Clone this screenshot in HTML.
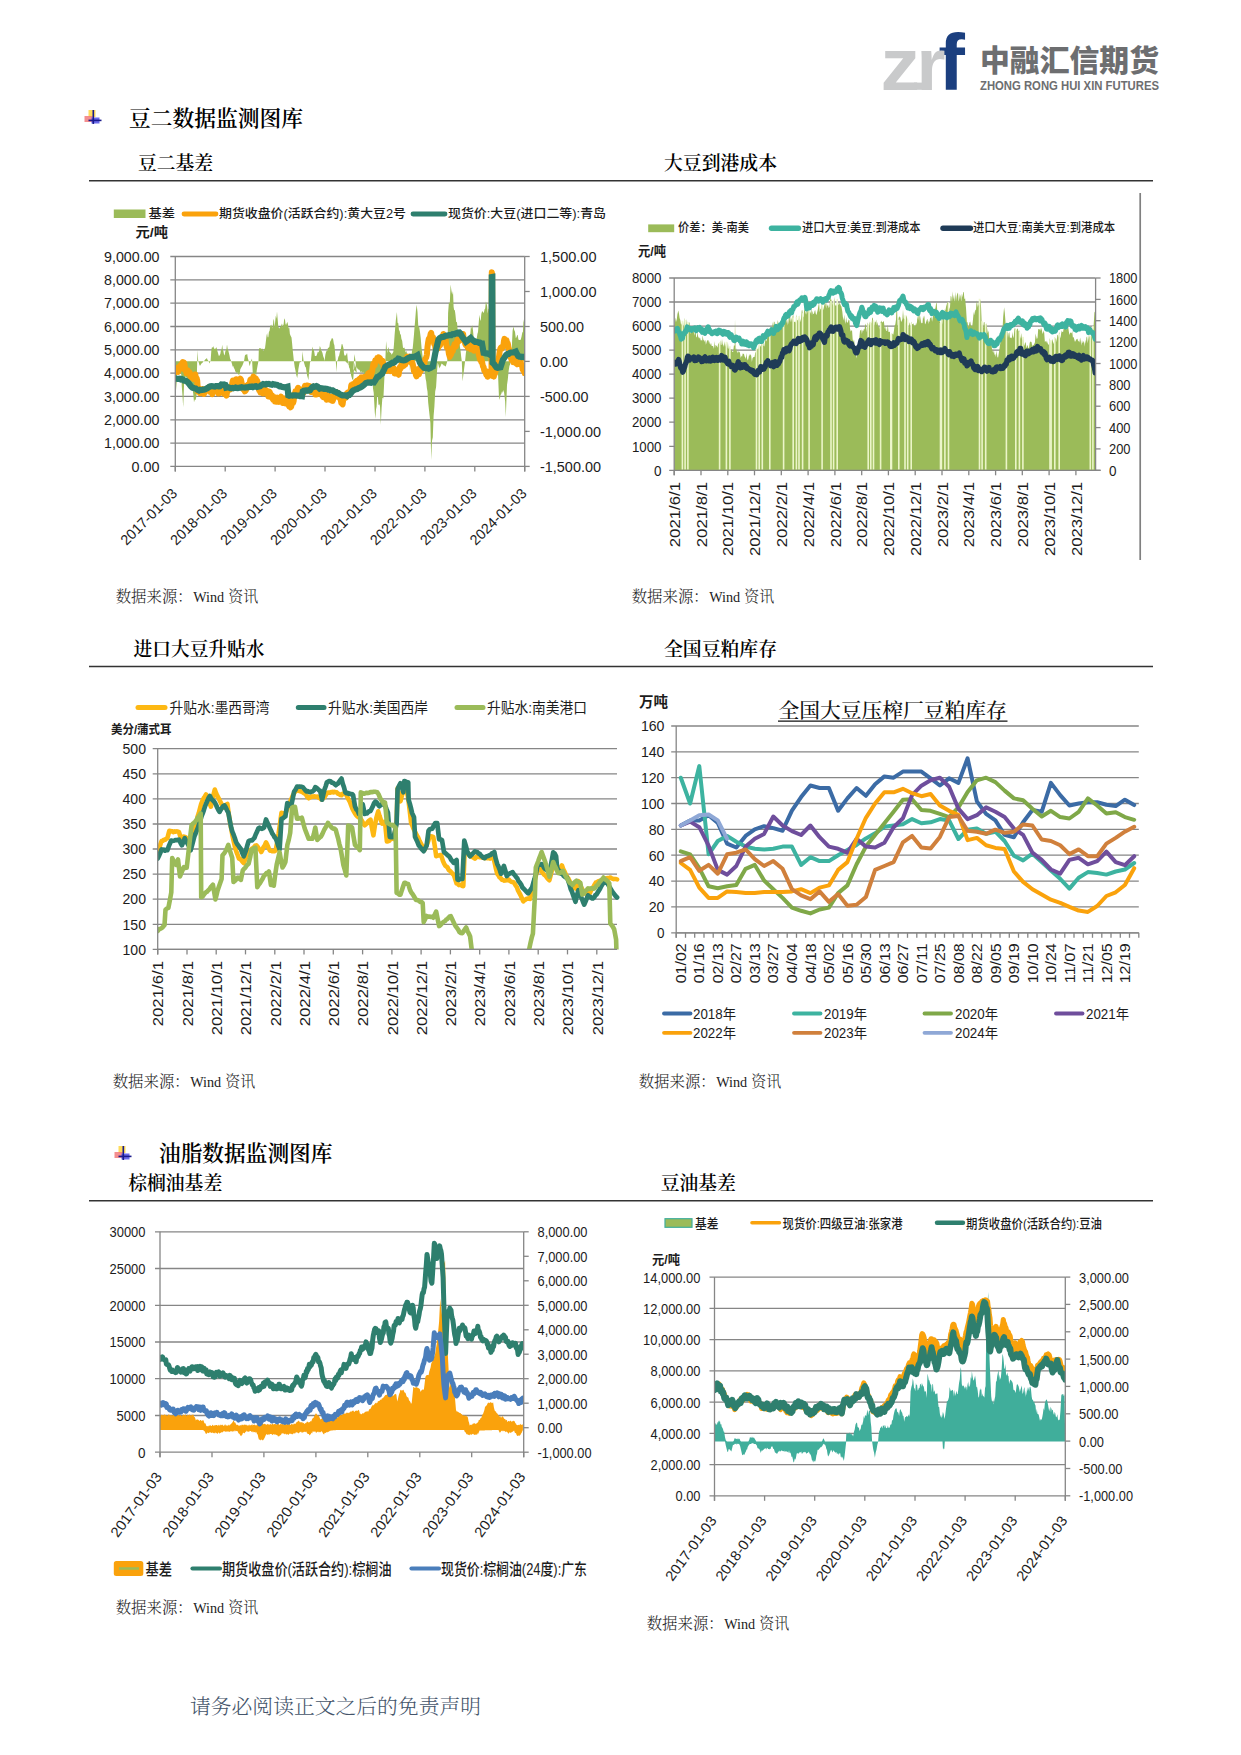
<!DOCTYPE html>
<html lang="zh"><head><meta charset="utf-8"><title>豆二数据监测图库</title>
<style>
html,body{margin:0;padding:0;background:#fff;}
body{width:1241px;height:1755px;position:relative;overflow:hidden;font-family:"Liberation Serif","Noto Serif CJK SC",serif;}
svg{position:absolute;left:0;top:0;}
</style></head><body>
<svg width="1241" height="1755" viewBox="0 0 1241 1755">
<line x1="170.3" y1="256.5" x2="524.7" y2="256.5" stroke="#868686" stroke-width="1.3"/>
<line x1="170.3" y1="279.8" x2="524.7" y2="279.8" stroke="#868686" stroke-width="1.3"/>
<line x1="170.3" y1="303.1" x2="524.7" y2="303.1" stroke="#868686" stroke-width="1.3"/>
<line x1="170.3" y1="326.5" x2="524.7" y2="326.5" stroke="#868686" stroke-width="1.3"/>
<line x1="170.3" y1="349.8" x2="524.7" y2="349.8" stroke="#868686" stroke-width="1.3"/>
<line x1="170.3" y1="373.1" x2="524.7" y2="373.1" stroke="#868686" stroke-width="1.3"/>
<line x1="170.3" y1="396.4" x2="524.7" y2="396.4" stroke="#868686" stroke-width="1.3"/>
<line x1="170.3" y1="419.8" x2="524.7" y2="419.8" stroke="#868686" stroke-width="1.3"/>
<line x1="170.3" y1="443.1" x2="524.7" y2="443.1" stroke="#868686" stroke-width="1.3"/>
<line x1="170.3" y1="466.4" x2="524.7" y2="466.4" stroke="#868686" stroke-width="1.3"/>
<clipPath id="c1clip"><rect x="175.3" y="248.5" width="349.4" height="217.9"/></clipPath><g clip-path="url(#c1clip)">
<path d="M175.5,361.2 L175.5,368.7 L176.3,390.4 L177.1,373.0 L177.8,371.1 L178.4,373.2 L179.1,372.8 L179.8,371.8 L180.4,373.9 L181.1,372.2 L181.8,386.5 L182.5,395.5 L183.2,407.3 L184.3,378.5 L184.9,380.4 L185.5,376.6 L186.2,376.9 L186.8,378.8 L187.4,380.2 L188.0,378.1 L188.6,377.0 L189.2,379.6 L189.8,377.7 L190.5,385.5 L191.2,384.7 L191.9,386.4 L192.5,388.9 L193.2,393.3 L194.0,402.3 L194.8,399.6 L195.6,399.9 L196.4,396.3 L197.2,361.2 L197.4,350.1 L198.2,361.1 L198.9,362.9 L199.6,365.4 L200.3,365.6 L201.0,364.3 L201.7,363.3 L202.3,362.9 L203.0,362.0 L203.7,361.1 L204.3,360.7 L205.0,360.0 L205.6,358.9 L206.3,358.7 L206.9,358.0 L207.5,359.7 L208.1,360.5 L208.7,361.5 L209.3,363.5 L210.0,361.9 L210.6,361.2 L211.4,349.4 L212.1,346.8 L212.7,348.1 L213.3,346.1 L214.0,348.6 L214.6,348.9 L215.3,348.0 L215.9,349.2 L216.6,346.7 L217.2,350.5 L217.8,352.2 L218.4,354.4 L219.0,356.3 L219.6,355.3 L220.3,353.9 L220.9,350.5 L221.6,349.3 L222.2,344.7 L222.8,349.5 L223.4,351.2 L224.0,354.2 L224.6,355.6 L225.2,352.1 L225.8,350.3 L226.4,349.4 L227.0,344.6 L227.7,349.0 L228.3,350.4 L228.9,352.9 L229.5,355.4 L230.1,358.8 L230.8,360.1 L231.4,362.1 L232.0,363.9 L232.7,366.8 L233.3,366.0 L233.9,367.9 L234.6,369.1 L235.2,371.2 L235.8,372.0 L236.4,373.2 L237.1,372.1 L237.7,373.6 L238.3,374.3 L239.0,374.9 L239.7,373.6 L240.3,369.3 L241.0,368.1 L241.7,366.8 L242.4,365.5 L243.2,363.6 L244.0,361.2 L244.8,355.9 L245.4,354.6 L246.0,355.0 L246.6,354.2 L247.2,354.1 L247.8,357.9 L248.4,360.1 L249.0,363.0 L249.6,366.3 L250.2,364.3 L250.8,361.8 L251.4,360.1 L252.0,358.5 L252.8,373.9 L253.5,374.3 L254.1,373.3 L254.8,374.0 L255.4,373.3 L256.1,376.3 L256.8,369.9 L257.5,366.1 L258.2,362.4 L258.5,361.1 L258.8,349.3 L259.4,348.3 L260.0,348.1 L260.6,348.6 L261.2,348.4 L261.9,349.4 L262.5,348.2 L263.1,351.3 L263.7,350.3 L264.3,348.6 L264.9,349.0 L265.7,342.7 L266.5,336.1 L267.1,333.1 L267.7,337.2 L268.3,337.2 L268.9,331.9 L269.6,330.8 L270.2,326.2 L270.8,325.1 L271.4,325.9 L272.0,324.2 L272.7,328.6 L273.3,321.1 L273.9,318.7 L274.6,327.2 L275.2,321.4 L275.8,315.8 L276.4,318.8 L277.0,311.4 L277.7,319.6 L278.3,326.7 L278.9,327.7 L279.6,328.4 L280.2,326.9 L280.9,326.5 L281.5,323.3 L282.2,327.7 L282.8,324.1 L283.5,325.4 L284.1,320.1 L284.8,318.2 L285.5,323.9 L286.1,325.1 L286.8,323.1 L287.5,321.9 L288.1,325.6 L288.7,328.4 L289.3,327.7 L289.9,333.9 L290.7,336.0 L291.5,337.4 L292.1,343.2 L292.7,350.0 L293.3,355.4 L293.9,361.3 L294.7,367.0 L295.5,370.7 L296.3,375.0 L297.2,377.9 L297.8,374.2 L298.4,368.9 L299.0,365.4 L299.6,362.4 L300.2,362.3 L300.8,361.9 L301.4,361.6 L302.0,361.3 L302.5,351.2 L303.6,361.2 L304.4,363.9 L305.2,366.7 L305.9,367.5 L306.5,371.7 L307.1,375.4 L307.8,377.7 L308.4,380.2 L309.2,370.8 L310.0,362.4 L310.9,361.3 L311.7,352.7 L312.5,346.5 L313.1,349.5 L313.7,349.5 L314.3,352.0 L314.9,355.9 L315.7,356.1 L316.5,355.7 L317.2,353.7 L317.8,351.8 L318.5,352.5 L319.2,350.6 L319.8,346.1 L320.5,347.4 L321.2,350.4 L321.9,351.5 L322.5,353.1 L323.2,356.2 L323.9,358.1 L324.5,361.1 L325.4,354.5 L326.0,352.3 L326.7,350.6 L327.4,350.8 L328.0,347.5 L328.7,348.1 L329.4,346.7 L330.0,342.1 L330.7,340.8 L331.3,339.5 L332.0,337.7 L332.6,338.4 L333.2,339.4 L333.8,343.5 L334.4,345.3 L335.0,351.4 L335.8,361.2 L336.5,372.3 L337.1,361.2 L337.8,359.7 L338.4,356.7 L339.1,355.8 L339.7,352.7 L340.3,350.7 L341.0,348.6 L341.6,344.2 L342.3,344.0 L342.9,345.9 L343.5,348.5 L344.1,354.2 L344.7,355.7 L345.3,355.5 L345.9,355.3 L346.5,354.1 L347.1,352.6 L347.9,361.2 L348.5,364.1 L349.1,367.5 L349.7,368.5 L350.3,372.7 L350.9,373.3 L351.5,375.1 L352.1,379.3 L352.8,379.8 L353.9,361.2 L354.5,353.9 L355.5,361.3 L356.1,366.7 L356.8,372.9 L356.2,371.9 L355.5,371.3 L354.9,371.3 L354.3,370.0 L353.7,369.6 L353.1,368.9 L352.4,369.5 L351.8,368.2 L351.2,368.1 L350.6,367.6 L350.0,365.4 L349.3,365.5 L348.7,365.6 L348.1,364.8 L347.5,363.0 L346.9,362.4 L346.2,362.4 L345.6,361.6 L345.0,361.1 L345.8,356.3 L346.6,353.6 L347.4,357.7 L348.2,361.3 L348.8,363.4 L349.4,367.3 L350.0,370.1 L350.6,371.2 L351.2,375.7 L351.8,377.8 L352.5,376.0 L353.1,381.3 L353.9,370.5 L354.7,362.8 L355.5,366.2 L356.3,368.5 L356.9,367.3 L357.5,368.7 L358.1,369.5 L358.7,369.6 L359.3,369.7 L359.9,370.7 L360.5,372.7 L361.1,370.7 L361.8,373.0 L362.4,372.9 L363.0,371.6 L363.7,373.1 L364.3,374.6 L365.0,374.5 L365.6,372.9 L366.3,377.2 L366.9,376.7 L367.6,377.8 L368.2,374.1 L368.8,375.0 L369.4,374.2 L370.0,377.8 L370.6,375.6 L371.2,375.1 L371.8,376.7 L372.4,379.3 L373.0,388.4 L373.7,392.8 L374.8,412.5 L375.4,418.8 L376.0,409.6 L376.6,406.6 L377.2,395.7 L377.9,396.8 L378.5,405.2 L379.2,403.9 L380.0,406.0 L380.8,424.9 L381.6,408.3 L382.4,397.8 L383.4,398.5 L384.5,375.6 L385.3,361.1 L386.1,341.0 L387.2,353.0 L387.9,349.3 L388.5,346.9 L389.3,351.5 L390.1,352.5 L390.9,352.9 L391.7,354.8 L392.5,353.2 L393.3,352.0 L394.0,343.9 L394.6,334.9 L395.2,327.7 L395.8,320.6 L396.9,312.1 L397.6,322.7 L398.3,323.2 L399.0,330.6 L399.6,330.5 L400.2,334.3 L400.8,334.6 L401.4,338.7 L402.2,340.9 L403.0,347.7 L403.7,348.0 L404.4,347.6 L405.0,349.8 L405.7,352.5 L406.4,350.8 L407.0,354.1 L407.7,353.4 L408.3,353.9 L408.9,355.2 L409.5,354.5 L409.9,370.9 L410.8,361.3 L411.4,357.4 L412.0,351.0 L412.7,348.2 L413.3,341.9 L413.9,335.6 L414.5,327.7 L415.1,321.0 L415.9,310.8 L416.7,304.7 L417.5,311.9 L418.3,326.5 L419.1,326.8 L419.9,331.3 L420.7,337.7 L421.6,348.2 L422.4,355.0 L423.2,361.3 L423.8,365.2 L424.4,369.3 L425.0,373.6 L425.6,378.7 L426.2,381.6 L426.9,388.2 L427.5,391.4 L428.2,402.8 L428.8,408.3 L429.6,415.8 L430.4,423.0 L431.2,460.2 L432.0,441.0 L432.8,437.3 L433.6,416.0 L434.4,406.5 L435.2,391.6 L436.1,387.0 L436.9,373.6 L437.7,362.8 L438.5,365.0 L439.3,368.6 L439.9,367.0 L440.5,366.6 L441.1,364.7 L441.7,363.6 L442.4,364.3 L443.0,364.5 L443.7,365.4 L444.4,365.6 L445.1,366.3 L445.7,366.4 L446.5,364.0 L447.3,361.3 L448.1,313.1 L448.9,302.3 L449.8,303.3 L450.6,284.4 L451.4,290.5 L452.2,294.8 L453.0,291.0 L453.6,306.7 L454.2,310.5 L454.8,309.8 L455.4,314.3 L456.2,322.0 L457.0,322.3 L457.6,329.6 L458.2,333.0 L458.8,338.9 L459.4,342.1 L460.0,347.0 L460.6,351.0 L461.2,356.8 L461.8,361.3 L462.6,381.6 L463.3,375.2 L463.9,370.7 L465.1,361.1 L465.9,352.7 L466.5,349.2 L467.2,349.4 L467.8,345.7 L468.4,343.5 L469.1,341.0 L469.7,337.9 L470.4,333.1 L471.0,325.4 L471.7,328.9 L472.3,325.1 L473.1,331.4 L473.9,340.5 L474.7,344.3 L475.5,344.8 L476.1,344.7 L476.7,338.8 L477.4,334.1 L478.0,332.0 L478.8,321.8 L479.4,314.7 L480.1,319.5 L480.7,321.1 L481.3,314.1 L482.0,311.4 L482.6,311.3 L483.3,312.7 L483.9,312.6 L484.6,309.3 L485.2,308.4 L485.9,301.5 L486.5,303.5 L487.1,306.0 L487.8,313.5 L488.4,308.7 L489.2,309.0 L490.0,297.7 L490.9,361.1 L491.5,361.1 L492.1,361.3 L492.8,361.3 L493.4,361.3 L494.1,361.1 L494.7,361.5 L495.4,361.8 L496.0,362.2 L496.7,362.3 L497.3,363.4 L498.1,375.9 L498.9,395.8 L499.7,399.9 L500.5,394.9 L501.3,393.9 L502.1,391.0 L502.9,393.0 L503.7,389.8 L504.4,395.0 L505.1,400.9 L505.8,416.9 L507.0,384.9 L507.8,379.4 L508.6,371.2 L509.4,366.1 L510.2,364.3 L511.0,361.1 L511.8,347.4 L512.6,330.7 L513.4,326.5 L514.2,330.0 L515.0,331.8 L515.8,338.3 L516.6,336.9 L517.2,334.7 L517.8,335.5 L518.4,339.4 L519.1,340.0 L519.9,339.9 L520.7,339.8 L521.5,336.8 L522.3,332.4 L522.9,331.9 L523.6,319.2 L524.7,328.1 L524.7,361.2Z" fill="#9BBB59" stroke="none"/>
<path d="M175.5,372.2 L176.1,368.0 L176.8,371.4 L177.5,370.9 L178.2,371.7 L178.8,367.9 L179.5,366.8 L180.1,365.7 L180.8,368.5 L181.4,366.3 L182.1,363.4 L182.7,362.2 L183.3,362.8 L183.9,362.6 L184.5,363.9 L185.1,370.1 L185.8,369.0 L186.5,373.2 L187.2,370.9 L187.8,370.7 L188.5,372.7 L189.2,372.0 L189.8,372.6 L190.4,376.6 L191.0,377.6 L191.6,377.6 L192.2,376.5 L192.8,378.0 L193.4,378.7 L194.0,376.6 L194.7,377.7 L195.3,374.4 L195.9,378.0 L196.6,378.1 L197.2,380.5 L198.0,391.7 L198.8,390.2 L199.6,388.7 L200.3,393.2 L200.9,389.7 L201.5,390.5 L202.2,389.8 L202.8,389.2 L203.4,391.7 L204.0,393.9 L204.7,390.0 L205.3,391.1 L205.9,389.3 L206.6,390.2 L207.2,389.6 L207.9,387.9 L208.5,387.3 L209.2,387.3 L209.8,391.8 L210.4,390.7 L211.1,388.6 L211.7,392.2 L212.3,394.2 L212.9,391.6 L213.5,388.9 L214.2,388.4 L214.8,387.7 L215.4,389.2 L216.0,388.3 L216.6,389.0 L217.2,389.1 L217.8,391.0 L218.4,393.5 L219.0,393.4 L219.6,391.1 L220.2,390.2 L220.8,390.4 L221.4,389.4 L222.0,389.3 L222.7,387.7 L223.3,388.8 L223.9,393.7 L224.5,390.4 L225.2,391.8 L225.8,393.3 L226.4,395.6 L227.0,392.5 L227.7,390.3 L228.4,388.5 L229.1,388.0 L229.7,387.2 L230.4,389.3 L231.1,388.5 L231.7,388.4 L232.3,382.8 L232.9,380.6 L233.5,383.8 L234.1,385.9 L234.7,383.7 L235.3,383.4 L235.9,379.3 L236.5,379.3 L237.1,381.8 L237.7,381.3 L238.3,380.5 L239.0,382.7 L239.6,379.7 L240.3,378.7 L240.9,379.4 L241.6,382.8 L242.2,385.7 L242.9,389.0 L243.6,389.5 L244.2,389.9 L244.9,391.4 L245.6,390.7 L246.2,389.7 L246.8,385.5 L247.4,388.0 L248.0,384.8 L248.6,387.3 L249.2,385.8 L249.8,382.5 L250.4,379.6 L251.0,379.3 L251.6,381.3 L252.2,382.2 L252.8,378.5 L253.4,376.7 L254.0,378.7 L254.6,379.5 L255.2,378.3 L255.9,378.6 L256.5,382.1 L257.2,380.7 L257.8,383.0 L258.5,385.9 L259.1,390.3 L259.8,390.4 L260.4,392.4 L261.1,391.1 L261.7,389.7 L262.3,389.1 L262.9,393.4 L263.5,393.4 L264.1,390.9 L264.7,388.3 L265.3,390.5 L265.9,392.4 L266.5,391.6 L267.1,390.8 L267.7,393.5 L268.3,396.5 L268.9,393.5 L269.6,391.7 L270.2,393.3 L270.8,394.8 L271.4,397.4 L272.0,395.4 L272.6,398.8 L273.2,399.8 L273.8,399.0 L274.4,397.1 L275.0,401.5 L275.6,399.1 L276.2,401.8 L276.8,398.7 L277.4,397.6 L278.0,400.5 L278.6,398.5 L279.2,401.9 L279.8,400.1 L280.4,397.5 L281.0,396.7 L281.6,398.0 L282.2,400.3 L282.8,403.0 L283.5,399.1 L284.1,399.5 L284.7,398.7 L285.3,403.4 L285.9,400.0 L286.5,398.6 L287.2,398.4 L287.9,400.7 L288.6,404.9 L289.2,406.5 L289.9,406.4 L290.5,407.3 L291.2,406.7 L291.8,402.3 L292.5,399.5 L293.1,402.8 L293.7,400.8 L294.3,394.1 L294.9,394.3 L295.5,391.2 L296.2,390.8 L296.8,390.4 L297.5,389.2 L298.1,387.8 L298.8,389.0 L299.4,389.7 L300.0,393.6 L300.6,389.6 L301.2,393.4 L301.8,389.8 L302.4,389.4 L303.0,392.0 L303.6,392.8 L304.2,389.9 L304.9,385.9 L305.5,386.7 L306.2,385.8 L306.8,388.4 L307.4,385.5 L308.0,385.9 L308.6,389.7 L309.2,386.0 L309.8,387.4 L310.4,390.7 L311.1,391.9 L311.7,388.1 L312.3,386.7 L312.9,386.6 L313.5,392.0 L314.1,389.9 L314.7,392.4 L315.3,394.3 L315.9,391.6 L316.5,390.4 L317.1,394.4 L317.8,393.7 L318.4,391.4 L319.1,393.5 L319.7,391.8 L320.4,391.1 L321.0,389.2 L321.6,393.4 L322.3,396.0 L322.9,395.2 L323.5,397.3 L324.1,392.4 L324.8,392.3 L325.4,394.1 L326.0,398.0 L326.6,399.6 L327.2,396.8 L327.8,395.3 L328.4,395.9 L329.0,396.7 L329.6,399.8 L330.2,396.4 L330.8,399.2 L331.4,399.9 L332.0,400.8 L332.6,400.9 L333.3,398.9 L333.9,395.8 L334.5,394.0 L335.2,393.1 L335.8,394.7 L336.4,392.1 L337.0,392.6 L337.6,396.8 L338.2,395.7 L338.9,394.8 L339.5,394.8 L340.1,398.7 L340.7,399.2 L341.3,403.0 L342.0,403.7 L342.6,404.4 L343.2,400.0 L343.9,397.3 L344.5,395.4 L345.1,396.6 L345.7,397.8 L346.3,395.8 L346.9,393.2 L347.5,392.7 L348.1,393.2 L348.7,393.0 L349.4,392.5 L350.0,392.1 L350.7,390.0 L351.3,385.0 L351.9,386.9 L352.6,384.4 L353.2,385.1 L353.8,384.0 L354.4,385.8 L355.0,382.9 L355.6,382.1 L356.2,381.6 L356.8,380.8 L357.4,384.2 L358.1,382.8 L358.7,380.1 L359.4,379.0 L360.0,381.7 L360.6,379.8 L361.3,377.3 L361.9,380.0 L362.5,379.9 L363.2,381.9 L363.8,376.9 L364.4,377.4 L365.0,379.7 L365.7,380.5 L366.3,381.2 L366.9,375.8 L367.6,375.4 L368.2,373.6 L368.9,373.0 L369.5,377.3 L370.1,375.9 L370.8,377.2 L371.4,372.1 L372.1,372.0 L372.7,367.8 L373.4,363.7 L374.0,364.1 L374.7,365.4 L375.3,360.2 L375.9,361.0 L376.6,361.0 L377.2,358.1 L377.9,358.5 L378.6,357.4 L379.2,357.6 L379.9,358.1 L380.6,360.7 L381.3,362.1 L381.9,361.2 L382.6,360.8 L383.2,363.7 L383.8,367.9 L384.5,367.4 L385.2,367.7 L385.8,367.3 L386.5,371.0 L387.2,371.0 L387.8,368.1 L388.5,367.5 L389.1,368.8 L389.7,370.1 L390.3,371.0 L390.9,367.8 L391.5,366.9 L392.1,369.9 L392.7,369.0 L393.3,367.7 L394.0,368.5 L394.6,373.4 L395.3,371.8 L395.9,373.4 L396.6,373.3 L397.2,372.2 L397.9,374.0 L398.6,374.7 L399.3,370.3 L399.9,367.0 L400.6,368.5 L401.3,365.3 L401.9,362.4 L402.6,366.5 L403.3,364.4 L404.0,365.6 L404.6,362.9 L405.2,364.7 L405.8,362.2 L406.4,359.1 L407.0,356.7 L407.7,358.8 L408.3,359.7 L408.9,361.4 L409.5,356.4 L410.1,359.8 L410.8,360.5 L411.4,362.6 L412.0,362.1 L412.7,363.9 L413.3,366.9 L414.0,371.4 L414.6,368.8 L415.3,371.2 L415.9,375.0 L416.5,376.3 L417.1,371.6 L417.7,369.2 L418.3,373.2 L418.9,374.4 L419.5,371.4 L420.1,367.4 L420.7,371.1 L421.3,368.0 L422.0,369.4 L422.6,367.3 L423.2,367.0 L423.8,362.0 L424.4,363.4 L425.0,359.5 L425.6,358.5 L426.2,357.5 L426.9,354.6 L427.5,346.9 L428.2,342.0 L428.8,338.9 L429.4,338.7 L430.0,337.0 L430.6,334.0 L431.2,332.9 L431.8,337.2 L432.4,340.5 L433.0,337.1 L433.6,340.0 L434.2,344.2 L434.8,342.7 L435.5,348.8 L436.1,348.0 L436.7,349.1 L437.4,348.6 L438.1,348.4 L438.7,345.8 L439.4,345.1 L440.1,345.3 L440.8,343.1 L441.4,342.7 L442.1,340.2 L442.8,338.2 L443.4,333.9 L444.1,335.1 L444.8,337.6 L445.5,338.5 L446.1,343.7 L446.8,347.2 L447.5,348.0 L448.1,348.1 L448.9,353.9 L449.8,356.8 L450.4,354.7 L451.0,354.8 L451.6,351.6 L452.2,351.7 L452.8,351.1 L453.4,346.9 L454.0,348.1 L454.6,344.0 L455.3,346.1 L455.9,346.5 L456.6,344.2 L457.3,339.9 L457.9,340.5 L458.6,339.2 L459.3,340.9 L459.9,335.3 L460.6,336.7 L461.2,336.9 L461.8,334.2 L462.5,336.1 L463.1,334.0 L463.8,339.4 L464.4,339.4 L465.1,343.4 L465.7,345.1 L466.4,341.6 L467.1,345.0 L467.8,347.8 L468.4,344.0 L469.1,345.2 L469.7,348.0 L470.3,345.3 L470.9,349.2 L471.5,346.7 L472.1,349.4 L472.7,346.3 L473.3,347.5 L473.9,350.8 L474.5,347.9 L475.1,347.7 L475.7,349.5 L476.3,349.4 L477.0,347.9 L477.6,348.7 L478.2,349.3 L478.8,354.8 L479.4,356.6 L480.0,359.8 L480.6,357.6 L481.2,361.8 L481.8,360.3 L482.4,363.5 L483.0,366.5 L483.6,367.0 L484.3,370.8 L484.9,370.9 L485.6,371.8 L486.3,374.7 L487.0,371.5 L487.6,376.7 L488.2,375.4 L488.8,373.2 L489.4,374.7 L490.0,371.6 L490.8,375.3 L491.5,373.9 L491.8,272.2 L492.1,274.1 L492.5,375.9 L493.3,375.3 L493.9,376.5 L494.5,371.5 L495.1,373.6 L495.7,369.7 L496.4,368.7 L497.0,368.7 L497.7,364.5 L498.4,361.7 L499.0,356.8 L499.7,351.4 L500.3,348.9 L500.9,347.7 L501.5,349.1 L502.1,347.3 L502.7,346.1 L503.3,346.9 L503.9,341.3 L504.5,338.8 L505.2,342.4 L505.8,340.4 L506.5,340.3 L507.1,343.2 L507.8,343.4 L508.4,347.2 L509.1,349.4 L509.7,354.1 L510.4,357.5 L511.0,357.9 L511.6,360.0 L512.2,359.9 L512.8,357.9 L513.4,362.3 L514.0,359.7 L514.6,358.3 L515.2,357.6 L515.8,360.9 L516.4,363.6 L517.0,364.2 L517.6,362.1 L518.2,360.6 L518.9,358.6 L519.5,362.1 L520.1,362.9 L520.7,362.0 L521.3,364.8 L522.0,365.4 L522.7,369.5 L523.4,370.6 L524.0,368.8 L524.7,373.2" fill="none" stroke="#FAA20C" stroke-width="6.00" stroke-linejoin="round" stroke-linecap="round"/>
<path d="M175.5,378.5 L176.5,378.8 L177.5,378.9 L178.6,378.9 L179.6,378.8 L180.7,379.4 L181.7,379.1 L182.7,379.5 L183.9,380.6 L185.1,380.8 L186.4,381.2 L187.6,382.0 L188.8,383.5 L190.0,385.1 L191.2,386.7 L192.4,387.7 L193.5,388.0 L194.5,388.3 L195.6,388.4 L196.7,389.4 L197.8,390.1 L198.8,390.5 L199.9,389.8 L200.9,390.1 L201.9,390.0 L202.9,389.7 L203.9,389.7 L204.9,389.4 L205.9,388.9 L206.9,388.5 L208.1,387.7 L209.3,386.8 L210.5,386.3 L211.7,386.1 L212.7,386.3 L213.8,386.5 L214.8,386.6 L215.8,386.2 L216.8,386.2 L217.8,386.2 L218.8,386.4 L219.8,386.3 L221.4,384.5 L222.4,384.6 L223.4,385.0 L224.4,384.6 L225.4,384.9 L226.2,387.6 L227.3,387.4 L228.3,387.4 L229.3,387.7 L230.3,388.2 L231.4,388.2 L232.4,387.9 L233.4,388.2 L234.4,387.9 L235.5,387.6 L236.5,388.0 L237.5,388.1 L238.6,387.9 L239.7,387.6 L240.7,387.6 L241.8,387.3 L242.8,387.5 L243.8,387.5 L244.8,387.6 L245.8,387.3 L246.9,387.4 L247.9,387.3 L248.9,387.0 L249.9,386.7 L250.9,386.9 L251.9,386.6 L253.0,387.1 L254.0,386.7 L255.0,386.4 L256.0,386.3 L257.0,387.0 L258.0,386.8 L259.1,386.6 L260.1,386.3 L261.2,385.2 L262.2,384.7 L263.3,384.0 L264.4,384.2 L265.5,384.4 L266.5,383.9 L267.6,384.0 L268.7,383.9 L269.8,384.3 L270.8,384.5 L271.9,384.7 L273.0,384.1 L274.1,384.4 L275.1,384.6 L276.2,384.8 L277.3,385.0 L278.3,385.6 L279.4,386.2 L280.4,386.0 L281.4,386.6 L282.4,387.0 L283.5,387.1 L284.5,387.3 L285.5,387.3 L286.5,387.0 L287.5,386.7 L288.3,395.3 L289.3,395.7 L290.4,395.5 L291.4,395.5 L292.5,395.6 L293.6,395.3 L294.6,395.3 L295.7,395.3 L296.7,395.7 L297.8,395.7 L298.8,395.6 L299.9,396.1 L300.9,396.0 L302.0,396.2 L302.8,391.4 L303.8,390.7 L304.9,390.6 L305.9,390.5 L306.9,390.7 L308.0,390.4 L309.0,390.5 L310.0,390.3 L311.3,388.3 L312.5,386.9 L313.5,386.4 L314.5,386.8 L315.5,386.5 L316.5,386.1 L317.6,386.6 L318.6,387.6 L319.7,388.6 L320.8,388.2 L321.9,388.3 L322.9,388.5 L324.0,388.9 L325.1,388.7 L326.2,388.8 L327.2,389.0 L328.3,389.6 L329.4,389.6 L330.5,390.3 L331.5,390.3 L332.6,390.3 L333.7,391.1 L334.9,391.7 L336.0,391.9 L337.1,392.8 L338.2,393.0 L339.3,393.8 L340.3,394.4 L341.3,395.0 L342.3,395.4 L343.5,395.3 L344.7,395.4 L345.9,395.5 L347.1,396.1 L348.2,395.1 L349.3,395.0 L350.3,394.0 L351.4,392.5 L352.5,391.1 L353.6,390.3 L354.8,389.8 L356.0,389.2 L357.2,389.0 L358.4,388.2 L359.8,387.6 L361.1,387.0 L362.3,386.2 L363.5,385.3 L364.7,384.3 L366.0,383.0 L367.0,382.7 L368.0,382.4 L369.0,382.7 L370.0,382.7 L371.0,382.8 L372.0,382.3 L373.0,382.1 L374.0,382.3 L375.1,380.7 L376.2,378.7 L377.2,377.1 L378.4,376.7 L379.6,375.6 L380.9,374.6 L382.1,373.7 L383.1,371.6 L384.2,369.5 L385.3,366.7 L386.3,366.0 L387.3,365.4 L388.3,364.9 L389.3,364.6 L390.3,363.9 L391.3,363.4 L392.3,362.8 L393.3,362.9 L394.6,362.1 L395.8,360.6 L397.0,360.1 L398.2,358.6 L399.3,358.8 L400.3,359.6 L401.4,360.0 L402.5,360.3 L403.6,360.4 L404.6,360.3 L405.8,359.8 L407.0,358.9 L408.3,358.1 L409.5,357.6 L410.5,357.0 L411.5,356.9 L412.5,357.0 L413.5,356.9 L414.5,356.6 L415.5,356.3 L416.5,355.9 L417.5,355.3 L418.7,359.1 L419.9,362.7 L420.9,364.2 L422.0,365.7 L423.0,366.6 L424.0,367.8 L425.2,368.2 L426.4,368.2 L427.6,368.1 L428.8,368.6 L429.8,368.2 L430.8,367.7 L431.8,367.1 L432.8,366.6 L434.0,360.1 L435.2,353.6 L436.3,348.8 L437.4,344.0 L438.5,339.5 L439.5,338.3 L440.6,337.6 L441.7,337.1 L442.8,337.0 L443.8,336.8 L444.9,336.2 L446.0,335.8 L447.1,335.6 L448.1,335.5 L449.2,335.1 L450.3,335.0 L451.4,335.1 L452.4,334.3 L453.4,334.2 L454.4,334.1 L455.4,333.7 L456.4,333.3 L457.4,333.5 L458.4,332.6 L459.4,332.5 L460.5,333.7 L461.6,335.6 L462.6,337.4 L463.7,338.9 L464.8,340.1 L465.9,341.8 L467.1,340.9 L468.3,340.0 L469.5,339.0 L470.7,338.0 L471.8,339.3 L472.9,340.2 L473.9,341.1 L474.9,341.8 L475.9,341.7 L477.0,342.1 L478.0,342.3 L479.0,342.8 L480.0,342.7 L481.0,343.5 L482.0,343.5 L483.6,352.8 L484.7,353.0 L485.7,353.3 L486.8,353.3 L487.9,353.8 L489.0,354.1 L490.0,354.7 L491.5,353.0 L491.8,277.1 L492.3,277.0 L492.6,362.8 L494.1,364.0 L495.3,365.9 L496.5,367.5 L497.5,367.9 L498.5,367.7 L499.5,367.4 L500.5,367.2 L501.7,363.6 L502.9,359.8 L504.0,358.2 L505.1,356.5 L506.2,354.9 L507.4,354.0 L508.6,353.9 L509.8,353.0 L511.0,352.5 L512.2,352.5 L513.4,352.4 L514.6,352.0 L515.8,351.5 L517.0,354.0 L518.2,356.1 L519.3,356.6 L520.4,356.6 L521.5,357.0 L522.5,356.9 L523.6,356.9 L524.7,356.9" fill="none" stroke="#2E7F6E" stroke-width="6.20" stroke-linejoin="miter" stroke-linecap="round"/>
</g>
<line x1="175.3" y1="256.5" x2="175.3" y2="471.4" stroke="#868686" stroke-width="1.3"/>
<line x1="524.7" y1="256.5" x2="524.7" y2="471.4" stroke="#868686" stroke-width="1.3"/>
<line x1="175.3" y1="466.4" x2="175.3" y2="471.4" stroke="#868686" stroke-width="1.3"/>
<line x1="225.2" y1="466.4" x2="225.2" y2="471.4" stroke="#868686" stroke-width="1.3"/>
<line x1="275.1" y1="466.4" x2="275.1" y2="471.4" stroke="#868686" stroke-width="1.3"/>
<line x1="325.0" y1="466.4" x2="325.0" y2="471.4" stroke="#868686" stroke-width="1.3"/>
<line x1="375.0" y1="466.4" x2="375.0" y2="471.4" stroke="#868686" stroke-width="1.3"/>
<line x1="424.9" y1="466.4" x2="424.9" y2="471.4" stroke="#868686" stroke-width="1.3"/>
<line x1="474.8" y1="466.4" x2="474.8" y2="471.4" stroke="#868686" stroke-width="1.3"/>
<line x1="524.7" y1="466.4" x2="524.7" y2="471.4" stroke="#868686" stroke-width="1.3"/>
<line x1="524.7" y1="256.5" x2="529.7" y2="256.5" stroke="#868686" stroke-width="1.3"/>
<line x1="524.7" y1="291.5" x2="529.7" y2="291.5" stroke="#868686" stroke-width="1.3"/>
<line x1="524.7" y1="326.5" x2="529.7" y2="326.5" stroke="#868686" stroke-width="1.3"/>
<line x1="524.7" y1="361.4" x2="529.7" y2="361.4" stroke="#868686" stroke-width="1.3"/>
<line x1="524.7" y1="396.4" x2="529.7" y2="396.4" stroke="#868686" stroke-width="1.3"/>
<line x1="524.7" y1="431.4" x2="529.7" y2="431.4" stroke="#868686" stroke-width="1.3"/>
<line x1="524.7" y1="466.4" x2="529.7" y2="466.4" stroke="#868686" stroke-width="1.3"/>
<text x="159.5" y="261.7" font-size="15" text-anchor="end" font-family='"Liberation Sans","Noto Sans CJK SC",sans-serif' font-weight="normal" fill="#1c1c1c" textLength="55.5" lengthAdjust="spacingAndGlyphs" >9,000.00</text>
<text x="159.5" y="285.0" font-size="15" text-anchor="end" font-family='"Liberation Sans","Noto Sans CJK SC",sans-serif' font-weight="normal" fill="#1c1c1c" textLength="55.5" lengthAdjust="spacingAndGlyphs" >8,000.00</text>
<text x="159.5" y="308.3" font-size="15" text-anchor="end" font-family='"Liberation Sans","Noto Sans CJK SC",sans-serif' font-weight="normal" fill="#1c1c1c" textLength="55.5" lengthAdjust="spacingAndGlyphs" >7,000.00</text>
<text x="159.5" y="331.7" font-size="15" text-anchor="end" font-family='"Liberation Sans","Noto Sans CJK SC",sans-serif' font-weight="normal" fill="#1c1c1c" textLength="55.5" lengthAdjust="spacingAndGlyphs" >6,000.00</text>
<text x="159.5" y="355.0" font-size="15" text-anchor="end" font-family='"Liberation Sans","Noto Sans CJK SC",sans-serif' font-weight="normal" fill="#1c1c1c" textLength="55.5" lengthAdjust="spacingAndGlyphs" >5,000.00</text>
<text x="159.5" y="378.3" font-size="15" text-anchor="end" font-family='"Liberation Sans","Noto Sans CJK SC",sans-serif' font-weight="normal" fill="#1c1c1c" textLength="55.5" lengthAdjust="spacingAndGlyphs" >4,000.00</text>
<text x="159.5" y="401.6" font-size="15" text-anchor="end" font-family='"Liberation Sans","Noto Sans CJK SC",sans-serif' font-weight="normal" fill="#1c1c1c" textLength="55.5" lengthAdjust="spacingAndGlyphs" >3,000.00</text>
<text x="159.5" y="425.0" font-size="15" text-anchor="end" font-family='"Liberation Sans","Noto Sans CJK SC",sans-serif' font-weight="normal" fill="#1c1c1c" textLength="55.5" lengthAdjust="spacingAndGlyphs" >2,000.00</text>
<text x="159.5" y="448.3" font-size="15" text-anchor="end" font-family='"Liberation Sans","Noto Sans CJK SC",sans-serif' font-weight="normal" fill="#1c1c1c" textLength="55.5" lengthAdjust="spacingAndGlyphs" >1,000.00</text>
<text x="159.5" y="471.6" font-size="15" text-anchor="end" font-family='"Liberation Sans","Noto Sans CJK SC",sans-serif' font-weight="normal" fill="#1c1c1c" textLength="28.0" lengthAdjust="spacingAndGlyphs" >0.00</text>
<text x="540.0" y="261.7" font-size="15" text-anchor="start" font-family='"Liberation Sans","Noto Sans CJK SC",sans-serif' font-weight="normal" fill="#1c1c1c" textLength="56.5" lengthAdjust="spacingAndGlyphs" >1,500.00</text>
<text x="540.0" y="296.7" font-size="15" text-anchor="start" font-family='"Liberation Sans","Noto Sans CJK SC",sans-serif' font-weight="normal" fill="#1c1c1c" textLength="56.5" lengthAdjust="spacingAndGlyphs" >1,000.00</text>
<text x="540.0" y="331.7" font-size="15" text-anchor="start" font-family='"Liberation Sans","Noto Sans CJK SC",sans-serif' font-weight="normal" fill="#1c1c1c" textLength="44.0" lengthAdjust="spacingAndGlyphs" >500.00</text>
<text x="540.0" y="366.6" font-size="15" text-anchor="start" font-family='"Liberation Sans","Noto Sans CJK SC",sans-serif' font-weight="normal" fill="#1c1c1c" textLength="28.0" lengthAdjust="spacingAndGlyphs" >0.00</text>
<text x="540.0" y="401.6" font-size="15" text-anchor="start" font-family='"Liberation Sans","Noto Sans CJK SC",sans-serif' font-weight="normal" fill="#1c1c1c" textLength="48.5" lengthAdjust="spacingAndGlyphs" >-500.00</text>
<text x="540.0" y="436.6" font-size="15" text-anchor="start" font-family='"Liberation Sans","Noto Sans CJK SC",sans-serif' font-weight="normal" fill="#1c1c1c" textLength="61.0" lengthAdjust="spacingAndGlyphs" >-1,000.00</text>
<text x="540.0" y="471.6" font-size="15" text-anchor="start" font-family='"Liberation Sans","Noto Sans CJK SC",sans-serif' font-weight="normal" fill="#1c1c1c" textLength="61.0" lengthAdjust="spacingAndGlyphs" >-1,500.00</text>
<text x="178.1" y="494.4" font-size="14.5" text-anchor="end" font-family='"Liberation Sans","Noto Sans CJK SC",sans-serif' font-weight="normal" fill="#1c1c1c" textLength="73.0" lengthAdjust="spacingAndGlyphs" transform="rotate(-45 178.1 494.4)" >2017-01-03</text>
<text x="228.0" y="494.4" font-size="14.5" text-anchor="end" font-family='"Liberation Sans","Noto Sans CJK SC",sans-serif' font-weight="normal" fill="#1c1c1c" textLength="73.0" lengthAdjust="spacingAndGlyphs" transform="rotate(-45 228.0 494.4)" >2018-01-03</text>
<text x="277.9" y="494.4" font-size="14.5" text-anchor="end" font-family='"Liberation Sans","Noto Sans CJK SC",sans-serif' font-weight="normal" fill="#1c1c1c" textLength="73.0" lengthAdjust="spacingAndGlyphs" transform="rotate(-45 277.9 494.4)" >2019-01-03</text>
<text x="327.8" y="494.4" font-size="14.5" text-anchor="end" font-family='"Liberation Sans","Noto Sans CJK SC",sans-serif' font-weight="normal" fill="#1c1c1c" textLength="73.0" lengthAdjust="spacingAndGlyphs" transform="rotate(-45 327.8 494.4)" >2020-01-03</text>
<text x="377.8" y="494.4" font-size="14.5" text-anchor="end" font-family='"Liberation Sans","Noto Sans CJK SC",sans-serif' font-weight="normal" fill="#1c1c1c" textLength="73.0" lengthAdjust="spacingAndGlyphs" transform="rotate(-45 377.8 494.4)" >2021-01-03</text>
<text x="427.7" y="494.4" font-size="14.5" text-anchor="end" font-family='"Liberation Sans","Noto Sans CJK SC",sans-serif' font-weight="normal" fill="#1c1c1c" textLength="73.0" lengthAdjust="spacingAndGlyphs" transform="rotate(-45 427.7 494.4)" >2022-01-03</text>
<text x="477.6" y="494.4" font-size="14.5" text-anchor="end" font-family='"Liberation Sans","Noto Sans CJK SC",sans-serif' font-weight="normal" fill="#1c1c1c" textLength="73.0" lengthAdjust="spacingAndGlyphs" transform="rotate(-45 477.6 494.4)" >2023-01-03</text>
<text x="527.5" y="494.4" font-size="14.5" text-anchor="end" font-family='"Liberation Sans","Noto Sans CJK SC",sans-serif' font-weight="normal" fill="#1c1c1c" textLength="73.0" lengthAdjust="spacingAndGlyphs" transform="rotate(-45 527.5 494.4)" >2024-01-03</text>
<rect x="113.8" y="209.5" width="31.7" height="8.5" fill="#9BBB59"/>
<text x="148.5" y="217.6" font-size="12.4" text-anchor="start" font-family='"Liberation Sans","Noto Sans CJK SC",sans-serif' font-weight="500" fill="#1c1c1c" textLength="26.5" lengthAdjust="spacingAndGlyphs" >基差</text>
<line x1="184.0" y1="214.0" x2="216.0" y2="214.0" stroke="#FAA20C" stroke-width="4.8" stroke-linecap="round"/>
<text x="219.0" y="217.6" font-size="12.4" text-anchor="start" font-family='"Liberation Sans","Noto Sans CJK SC",sans-serif' font-weight="500" fill="#1c1c1c" textLength="187.0" lengthAdjust="spacingAndGlyphs" >期货收盘价(活跃合约):黄大豆2号</text>
<line x1="413.0" y1="214.0" x2="445.0" y2="214.0" stroke="#2E7F6E" stroke-width="4.8" stroke-linecap="round"/>
<text x="448.0" y="217.6" font-size="12.4" text-anchor="start" font-family='"Liberation Sans","Noto Sans CJK SC",sans-serif' font-weight="500" fill="#1c1c1c" textLength="158.0" lengthAdjust="spacingAndGlyphs" >现货价:大豆(进口二等):青岛</text>
<text x="135.5" y="237.0" font-size="13.5" text-anchor="start" font-family='"Liberation Sans","Noto Sans CJK SC",sans-serif' font-weight="bold" fill="#1c1c1c" textLength="32.5" lengthAdjust="spacingAndGlyphs" >元/吨</text>
<line x1="669.2" y1="278.0" x2="1095.6" y2="278.0" stroke="#868686" stroke-width="1.3"/>
<line x1="669.2" y1="302.0" x2="1095.6" y2="302.0" stroke="#868686" stroke-width="1.3"/>
<line x1="669.2" y1="326.1" x2="1095.6" y2="326.1" stroke="#868686" stroke-width="1.3"/>
<line x1="669.2" y1="350.1" x2="1095.6" y2="350.1" stroke="#868686" stroke-width="1.3"/>
<line x1="669.2" y1="374.1" x2="1095.6" y2="374.1" stroke="#868686" stroke-width="1.3"/>
<line x1="669.2" y1="398.2" x2="1095.6" y2="398.2" stroke="#868686" stroke-width="1.3"/>
<line x1="669.2" y1="422.2" x2="1095.6" y2="422.2" stroke="#868686" stroke-width="1.3"/>
<line x1="669.2" y1="446.3" x2="1095.6" y2="446.3" stroke="#868686" stroke-width="1.3"/>
<line x1="669.2" y1="470.3" x2="1095.6" y2="470.3" stroke="#868686" stroke-width="1.3"/>
<clipPath id="c2clip"><rect x="674.2" y="270.0" width="421.4" height="200.3"/></clipPath><g clip-path="url(#c2clip)">
<path d="M674.2,470.3 L674.2,327.8 L675.0,322.3 L675.8,317.4 L676.5,322.0 L677.4,314.2 L678.3,310.6 L679.0,313.7 L679.6,318.1 L680.3,320.0 L681.0,324.6 L681.6,324.6 L682.3,321.3 L682.9,327.0 L683.6,326.0 L684.3,317.4 L684.9,325.3 L685.6,325.9 L686.3,324.4 L686.9,319.0 L687.6,327.5 L688.3,326.8 L688.9,321.8 L689.6,323.1 L690.3,333.9 L690.9,332.3 L691.6,329.6 L692.3,328.3 L692.9,329.0 L693.6,330.1 L694.3,335.7 L694.9,331.6 L695.6,330.0 L696.2,337.6 L696.9,336.7 L697.6,331.1 L698.2,338.6 L698.8,336.3 L699.5,338.5 L700.1,337.9 L700.8,340.5 L701.4,340.0 L702.1,340.9 L702.7,335.3 L703.4,340.5 L704.0,339.4 L704.6,342.1 L705.3,339.8 L705.9,344.7 L706.6,342.2 L707.2,340.2 L707.9,340.5 L708.5,340.3 L709.2,344.2 L709.8,340.9 L710.4,345.3 L711.1,343.0 L711.7,346.0 L712.4,345.9 L713.0,346.1 L713.7,348.9 L714.3,340.9 L715.0,348.4 L715.6,344.8 L716.2,345.5 L716.9,346.3 L717.5,347.7 L718.2,343.3 L718.8,343.6 L719.5,348.4 L720.1,340.1 L720.8,345.1 L721.4,344.9 L722.0,339.1 L722.7,344.3 L723.3,344.9 L724.0,347.0 L724.6,341.3 L725.3,347.1 L725.9,343.6 L726.6,344.2 L727.2,348.7 L727.9,341.7 L728.5,348.7 L729.1,348.6 L729.8,346.9 L730.4,352.3 L731.1,348.8 L731.7,350.5 L732.4,351.8 L733.1,352.2 L733.9,345.4 L734.7,345.6 L735.0,317.9 L735.6,348.5 L736.2,351.8 L736.9,347.9 L737.5,353.5 L738.2,350.7 L738.8,352.5 L739.5,351.4 L740.1,353.7 L740.7,358.0 L741.4,355.6 L742.0,357.1 L742.7,353.5 L743.3,353.7 L744.0,353.9 L744.6,356.6 L745.3,357.4 L745.9,358.9 L746.5,353.0 L747.2,359.0 L747.9,360.5 L748.5,357.9 L749.2,354.0 L749.9,356.3 L750.5,354.1 L751.2,355.8 L751.9,362.1 L752.5,358.2 L753.2,357.3 L753.9,357.1 L754.5,356.9 L755.2,353.0 L755.9,351.7 L756.5,350.5 L757.2,349.8 L757.8,348.4 L758.5,348.7 L759.1,344.0 L759.8,347.6 L760.4,345.2 L761.1,347.5 L761.7,341.0 L762.3,341.2 L763.0,339.4 L763.6,345.7 L764.3,346.5 L764.9,342.7 L765.6,338.5 L766.2,341.4 L766.9,339.6 L767.5,336.0 L768.1,331.6 L768.8,330.6 L769.4,330.3 L770.1,327.8 L770.7,327.5 L771.4,328.2 L772.0,331.0 L772.7,321.8 L773.3,326.9 L773.9,321.4 L774.6,322.0 L775.2,328.9 L775.9,326.4 L776.5,329.7 L777.2,324.7 L777.8,320.1 L778.5,323.8 L779.1,325.6 L779.7,328.8 L780.4,329.0 L781.0,323.4 L781.7,322.4 L782.3,318.9 L783.0,324.2 L783.6,319.4 L784.3,318.4 L784.9,316.6 L785.5,316.2 L786.2,323.2 L786.8,317.1 L787.5,325.9 L788.1,316.4 L788.8,324.5 L789.4,316.5 L790.1,315.2 L790.7,322.4 L791.3,317.2 L792.0,322.3 L792.6,316.3 L793.3,314.7 L793.9,322.2 L794.6,321.4 L795.2,322.8 L795.9,321.3 L796.5,314.2 L797.1,319.9 L797.8,320.6 L798.4,317.8 L799.1,322.7 L799.7,315.2 L800.4,322.2 L801.0,318.9 L801.7,310.6 L802.3,310.0 L803.0,316.3 L803.6,317.5 L804.2,308.7 L804.9,310.6 L805.5,314.6 L806.2,307.7 L806.8,314.8 L807.5,310.8 L808.1,306.2 L808.8,309.8 L809.4,312.3 L810.0,310.9 L810.7,313.7 L811.3,308.0 L812.0,315.4 L812.6,310.7 L813.3,314.0 L813.9,314.0 L814.6,311.0 L815.2,310.0 L815.8,313.8 L816.5,315.0 L817.1,312.5 L817.8,309.4 L818.4,305.7 L819.1,302.4 L819.7,312.2 L820.4,308.4 L821.0,309.2 L821.6,303.4 L822.3,306.4 L822.9,310.5 L823.6,308.6 L824.2,305.8 L824.9,302.3 L825.5,303.5 L826.2,308.7 L826.8,302.6 L827.4,306.0 L828.1,304.9 L828.7,308.1 L829.4,306.9 L830.0,300.7 L830.7,297.2 L831.3,300.1 L832.0,301.8 L832.6,303.6 L833.2,306.1 L833.9,306.8 L834.5,296.7 L835.2,305.8 L835.8,305.3 L836.5,305.8 L837.2,302.1 L837.8,298.4 L838.5,304.9 L839.2,304.2 L839.8,302.5 L840.5,305.0 L841.4,306.4 L842.3,311.6 L842.9,317.3 L843.6,320.6 L844.2,314.8 L844.9,321.3 L845.5,323.9 L846.1,317.1 L846.8,321.7 L847.4,323.1 L848.1,321.5 L848.7,319.5 L849.4,320.6 L850.0,328.4 L850.7,331.4 L851.4,330.8 L852.0,329.8 L852.7,339.4 L853.4,341.7 L854.0,339.3 L854.7,345.2 L855.6,353.3 L856.5,358.4 L857.3,350.0 L858.2,344.2 L859.1,340.0 L860.0,330.8 L860.6,330.2 L861.3,329.4 L861.9,333.9 L862.6,329.9 L863.2,331.2 L863.9,329.0 L864.5,329.5 L865.2,325.1 L865.8,323.4 L866.4,332.4 L867.1,325.4 L867.7,322.2 L868.4,327.1 L869.0,328.2 L869.7,321.2 L870.3,325.3 L871.0,322.2 L871.6,323.5 L872.2,317.9 L872.9,317.5 L873.5,327.0 L874.2,325.3 L874.8,321.5 L875.5,322.6 L876.2,319.6 L876.8,325.2 L877.5,321.7 L878.2,327.4 L878.8,325.8 L879.5,326.5 L880.0,329.7 L880.6,322.6 L881.3,320.5 L881.9,322.4 L882.6,322.3 L883.2,321.5 L883.9,321.3 L884.5,326.7 L885.2,330.0 L885.8,326.0 L886.4,331.1 L887.1,330.9 L887.8,324.5 L888.5,332.0 L889.2,332.1 L889.9,331.5 L890.6,341.8 L891.3,333.2 L892.0,334.4 L892.6,333.4 L893.3,334.8 L894.0,330.2 L894.6,325.6 L895.3,324.4 L896.0,319.6 L896.8,299.6 L897.7,328.3 L898.4,319.2 L899.1,316.1 L899.7,317.3 L900.4,317.2 L901.1,322.0 L901.7,320.9 L902.4,319.1 L903.0,309.4 L903.7,318.5 L904.4,318.8 L905.0,319.2 L905.7,323.9 L906.4,315.1 L907.0,317.2 L907.7,324.7 L908.4,327.8 L909.0,325.5 L909.7,322.1 L910.3,325.6 L910.9,327.8 L911.6,321.5 L912.2,324.3 L912.9,324.1 L913.5,323.2 L914.2,327.3 L914.8,324.7 L915.5,325.9 L916.1,322.2 L916.8,325.0 L917.4,315.4 L918.1,320.2 L918.7,314.8 L919.4,313.2 L920.0,323.0 L920.6,315.6 L921.2,323.4 L921.8,322.8 L922.5,323.3 L923.1,315.4 L923.7,318.9 L924.3,315.3 L925.0,324.4 L925.6,323.6 L926.3,321.5 L926.9,319.8 L927.5,318.7 L928.2,324.0 L928.8,320.5 L929.5,322.3 L930.1,317.3 L930.8,318.3 L931.4,316.7 L932.1,321.7 L932.7,318.0 L933.4,311.6 L934.1,317.5 L934.7,308.8 L935.4,308.5 L936.1,303.5 L936.7,302.8 L937.4,313.2 L938.1,311.4 L938.9,313.6 L939.6,321.0 L940.3,323.1 L940.9,327.4 L941.6,317.3 L942.2,324.7 L942.9,313.1 L943.5,320.4 L944.1,316.2 L944.8,309.3 L945.4,310.5 L946.1,306.6 L946.7,304.5 L947.4,302.0 L948.0,303.0 L948.7,309.4 L949.4,308.6 L950.0,306.9 L950.7,295.8 L951.4,296.8 L952.0,302.7 L952.7,291.3 L953.3,299.5 L954.0,294.6 L954.7,303.0 L955.3,291.7 L956.0,301.4 L956.7,296.0 L957.3,293.8 L958.0,292.4 L958.6,302.1 L959.3,298.2 L959.9,293.9 L960.6,296.6 L961.2,302.1 L961.9,293.5 L962.5,297.5 L963.2,292.1 L963.8,292.3 L964.4,299.2 L965.1,298.3 L966.0,307.8 L966.9,322.4 L967.5,322.1 L968.2,327.0 L968.9,325.4 L969.5,322.6 L970.2,321.5 L970.9,325.2 L971.5,325.8 L972.2,326.4 L972.8,321.5 L973.4,314.9 L974.1,310.9 L974.7,315.6 L975.3,309.5 L976.0,310.5 L976.6,300.3 L977.3,307.8 L978.0,301.1 L978.7,305.7 L979.5,304.8 L980.2,299.2 L981.0,305.8 L981.9,327.5 L982.6,323.4 L983.2,328.1 L983.8,322.3 L984.5,322.0 L985.1,329.1 L985.7,324.9 L986.4,323.3 L987.1,328.3 L987.8,333.3 L988.5,330.4 L989.2,338.3 L989.9,340.4 L990.6,342.8 L991.2,341.0 L991.9,348.2 L992.6,350.8 L993.2,353.0 L993.9,350.0 L994.6,355.1 L995.2,354.1 L995.9,356.9 L996.6,350.6 L997.4,357.2 L998.1,357.6 L998.8,353.3 L999.5,348.5 L1000.2,343.7 L1000.9,338.8 L1001.6,328.8 L1002.3,333.2 L1003.2,316.7 L1004.1,307.2 L1004.8,312.7 L1005.4,320.6 L1006.1,332.6 L1006.8,331.0 L1007.4,331.9 L1008.0,338.0 L1008.6,333.4 L1009.3,332.0 L1009.9,337.8 L1010.5,337.8 L1011.2,337.6 L1011.8,338.4 L1012.5,331.7 L1013.2,338.3 L1013.8,335.9 L1014.5,328.5 L1015.2,328.3 L1015.8,331.1 L1016.5,330.3 L1017.2,329.0 L1017.8,328.3 L1018.5,332.0 L1019.2,330.3 L1019.8,335.6 L1020.5,339.1 L1021.2,333.1 L1021.8,338.1 L1022.5,340.8 L1023.1,336.4 L1023.8,343.7 L1024.5,345.9 L1025.1,341.9 L1025.8,343.3 L1026.5,348.2 L1027.1,346.5 L1027.8,344.8 L1028.4,349.3 L1029.1,347.3 L1029.7,342.8 L1030.4,341.4 L1031.0,341.8 L1031.6,342.2 L1032.3,346.8 L1032.9,344.7 L1033.6,345.2 L1034.2,343.9 L1034.9,342.6 L1035.6,333.5 L1036.2,336.4 L1036.9,339.2 L1037.6,337.4 L1038.2,329.1 L1038.9,329.3 L1039.5,329.8 L1040.2,328.2 L1040.9,331.0 L1041.5,327.6 L1042.2,332.3 L1042.9,334.1 L1043.5,330.5 L1044.2,332.8 L1044.9,341.9 L1045.5,340.7 L1046.2,342.8 L1046.9,340.6 L1047.5,342.9 L1048.2,344.3 L1048.9,344.9 L1049.5,337.7 L1050.2,344.0 L1050.8,340.0 L1051.5,343.4 L1052.1,339.1 L1052.8,341.1 L1053.4,344.3 L1054.1,340.9 L1054.7,336.9 L1055.3,339.0 L1056.0,337.7 L1056.6,342.2 L1057.3,335.3 L1057.9,334.8 L1058.6,337.5 L1059.2,331.8 L1059.9,335.7 L1060.5,338.6 L1061.1,333.6 L1061.8,330.6 L1062.4,331.9 L1063.1,331.9 L1063.7,327.4 L1064.4,326.5 L1065.0,326.8 L1065.7,328.5 L1066.3,329.8 L1066.9,328.8 L1067.6,328.5 L1068.2,327.1 L1068.9,331.9 L1069.5,334.9 L1070.2,332.8 L1070.8,332.6 L1071.5,333.5 L1072.2,330.9 L1072.9,337.6 L1073.6,337.0 L1074.3,339.6 L1075.0,342.0 L1075.6,340.7 L1076.3,339.4 L1076.9,338.9 L1077.5,338.8 L1078.2,341.7 L1078.8,340.6 L1079.4,342.6 L1080.1,337.4 L1080.7,340.7 L1081.3,345.5 L1082.0,339.9 L1082.6,343.0 L1083.2,342.5 L1083.9,340.7 L1084.5,346.7 L1085.2,339.8 L1085.8,343.8 L1086.4,337.5 L1087.1,336.2 L1087.7,343.3 L1088.4,338.7 L1089.0,334.7 L1089.7,337.3 L1090.3,337.3 L1091.0,339.6 L1091.6,330.0 L1092.3,327.5 L1092.9,331.4 L1093.6,325.7 L1094.5,311.4 L1095.2,313.0 L1095.9,312.7 L1095.9,470.3Z" fill="#9BBB59" stroke="none"/>
<rect x="681.6" y="320.8" width="1.6" height="148.8" fill="#EFF8CF" opacity="0.95"/>
<rect x="684.3" y="319.9" width="1.6" height="149.7" fill="#EFF8CF" opacity="0.95"/>
<rect x="687.1" y="322.2" width="1.6" height="147.4" fill="#EFF8CF" opacity="0.95"/>
<rect x="718.8" y="342.1" width="1.6" height="127.5" fill="#EFF8CF" opacity="0.95"/>
<rect x="725.6" y="341.8" width="1.6" height="127.8" fill="#EFF8CF" opacity="0.95"/>
<rect x="729.1" y="346.2" width="1.6" height="123.4" fill="#EFF8CF" opacity="0.95"/>
<rect x="755.7" y="347.8" width="1.6" height="121.8" fill="#EFF8CF" opacity="0.95"/>
<rect x="758.4" y="344.7" width="1.6" height="124.9" fill="#EFF8CF" opacity="0.95"/>
<rect x="761.5" y="342.3" width="1.6" height="127.3" fill="#EFF8CF" opacity="0.95"/>
<rect x="769.0" y="328.7" width="1.6" height="140.9" fill="#EFF8CF" opacity="0.95"/>
<rect x="782.8" y="320.5" width="1.6" height="149.1" fill="#EFF8CF" opacity="0.95"/>
<rect x="792.4" y="317.5" width="1.6" height="152.1" fill="#EFF8CF" opacity="0.95"/>
<rect x="795.6" y="316.8" width="1.6" height="152.8" fill="#EFF8CF" opacity="0.95"/>
<rect x="798.2" y="316.1" width="1.6" height="153.5" fill="#EFF8CF" opacity="0.95"/>
<rect x="801.8" y="313.2" width="1.6" height="156.4" fill="#EFF8CF" opacity="0.95"/>
<rect x="808.3" y="309.3" width="1.6" height="160.3" fill="#EFF8CF" opacity="0.95"/>
<rect x="821.3" y="303.2" width="1.6" height="166.4" fill="#EFF8CF" opacity="0.95"/>
<rect x="830.2" y="301.0" width="1.6" height="168.6" fill="#EFF8CF" opacity="0.95"/>
<rect x="832.8" y="300.4" width="1.6" height="169.2" fill="#EFF8CF" opacity="0.95"/>
<rect x="836.4" y="299.3" width="1.6" height="170.3" fill="#EFF8CF" opacity="0.95"/>
<rect x="867.4" y="324.1" width="1.6" height="145.5" fill="#EFF8CF" opacity="0.95"/>
<rect x="870.0" y="322.1" width="1.6" height="147.5" fill="#EFF8CF" opacity="0.95"/>
<rect x="872.7" y="320.1" width="1.6" height="149.5" fill="#EFF8CF" opacity="0.95"/>
<rect x="879.8" y="323.1" width="1.6" height="146.5" fill="#EFF8CF" opacity="0.95"/>
<rect x="890.0" y="335.4" width="1.6" height="134.2" fill="#EFF8CF" opacity="0.95"/>
<rect x="890.7" y="333.5" width="1.6" height="136.1" fill="#EFF8CF" opacity="0.95"/>
<rect x="898.0" y="319.7" width="1.6" height="149.9" fill="#EFF8CF" opacity="0.95"/>
<rect x="904.2" y="315.3" width="1.6" height="154.3" fill="#EFF8CF" opacity="0.95"/>
<rect x="906.9" y="319.7" width="1.6" height="149.9" fill="#EFF8CF" opacity="0.95"/>
<rect x="910.4" y="323.2" width="1.6" height="146.4" fill="#EFF8CF" opacity="0.95"/>
<rect x="939.7" y="323.0" width="1.6" height="146.6" fill="#EFF8CF" opacity="0.95"/>
<rect x="940.6" y="320.5" width="1.6" height="149.1" fill="#EFF8CF" opacity="0.95"/>
<rect x="944.1" y="310.8" width="1.6" height="158.8" fill="#EFF8CF" opacity="0.95"/>
<rect x="947.7" y="302.3" width="1.6" height="167.3" fill="#EFF8CF" opacity="0.95"/>
<rect x="978.7" y="298.8" width="1.6" height="170.8" fill="#EFF8CF" opacity="0.95"/>
<rect x="981.3" y="321.2" width="1.6" height="148.4" fill="#EFF8CF" opacity="0.95"/>
<rect x="984.9" y="324.0" width="1.6" height="145.6" fill="#EFF8CF" opacity="0.95"/>
<rect x="1005.6" y="328.6" width="1.6" height="141.0" fill="#EFF8CF" opacity="0.95"/>
<rect x="1015.0" y="329.5" width="1.6" height="140.1" fill="#EFF8CF" opacity="0.95"/>
<rect x="1018.6" y="331.8" width="1.6" height="137.8" fill="#EFF8CF" opacity="0.95"/>
<rect x="1022.1" y="336.8" width="1.6" height="132.8" fill="#EFF8CF" opacity="0.95"/>
<rect x="1049.2" y="340.3" width="1.6" height="129.3" fill="#EFF8CF" opacity="0.95"/>
<rect x="1050.3" y="340.2" width="1.6" height="129.4" fill="#EFF8CF" opacity="0.95"/>
<rect x="1054.0" y="337.4" width="1.6" height="132.2" fill="#EFF8CF" opacity="0.95"/>
<rect x="1058.4" y="333.6" width="1.6" height="136.0" fill="#EFF8CF" opacity="0.95"/>
<rect x="1089.5" y="336.0" width="1.6" height="133.6" fill="#EFF8CF" opacity="0.95"/>
<rect x="1092.1" y="325.9" width="1.6" height="143.7" fill="#EFF8CF" opacity="0.95"/>
<path d="M674.2,331.1 L674.9,330.4 L675.5,330.9 L676.1,330.5 L676.8,328.5 L677.4,328.3 L678.0,330.1 L678.7,332.0 L679.3,332.3 L679.9,334.9 L680.6,336.6 L681.2,339.2 L681.8,337.5 L682.5,338.3 L683.2,333.6 L683.8,334.5 L684.5,333.1 L685.2,331.3 L685.8,331.9 L686.5,329.4 L687.2,326.8 L687.8,328.5 L688.4,329.8 L689.1,329.3 L689.7,328.3 L690.3,328.4 L691.0,328.7 L691.6,330.3 L692.3,328.7 L692.9,328.4 L693.6,329.0 L694.3,328.4 L694.9,327.8 L695.6,329.7 L696.2,330.6 L696.9,329.3 L697.6,328.9 L698.2,327.7 L698.9,328.0 L699.6,327.5 L700.2,329.6 L700.9,330.7 L701.6,328.9 L702.2,332.4 L702.9,330.6 L703.6,332.2 L704.2,332.7 L704.9,333.3 L705.6,329.9 L706.2,329.4 L706.9,331.4 L707.5,327.8 L708.2,326.8 L708.8,329.1 L709.5,329.8 L710.1,332.2 L710.8,332.6 L711.4,331.8 L712.1,333.8 L712.7,332.5 L713.3,332.1 L714.0,332.9 L714.6,332.0 L715.3,331.3 L715.9,332.1 L716.5,331.2 L717.1,333.7 L717.8,333.4 L718.4,332.5 L719.0,330.1 L719.6,330.4 L720.3,330.6 L720.9,331.4 L721.5,331.8 L722.1,333.4 L722.8,334.3 L723.4,332.4 L724.0,331.4 L724.6,331.9 L725.3,333.8 L725.9,332.0 L726.6,332.5 L727.3,334.4 L727.9,332.5 L728.6,332.7 L729.3,336.3 L729.9,337.3 L730.6,336.6 L731.3,334.5 L731.9,337.5 L732.6,338.0 L733.3,339.0 L733.9,340.4 L734.6,340.7 L735.2,338.8 L735.9,337.0 L736.6,337.1 L737.2,338.5 L737.8,339.3 L738.5,338.3 L739.1,338.1 L739.8,340.4 L740.4,341.5 L741.1,340.9 L741.7,344.0 L742.4,343.8 L743.0,341.1 L743.7,341.9 L744.3,344.1 L745.0,342.8 L745.7,344.3 L746.3,341.7 L747.0,342.2 L747.7,345.2 L748.3,345.2 L749.0,345.7 L749.6,343.7 L750.3,344.4 L751.0,345.0 L751.6,343.9 L752.3,345.4 L753.0,345.5 L753.6,347.8 L754.3,346.0 L755.1,344.0 L755.8,341.5 L756.5,340.2 L757.2,342.1 L757.8,339.7 L758.5,338.5 L759.2,338.2 L759.8,339.5 L760.5,341.3 L761.2,340.8 L761.8,341.3 L762.5,337.8 L763.2,335.6 L763.8,338.0 L764.5,336.4 L765.2,337.2 L765.8,335.4 L766.5,333.4 L767.2,332.7 L767.8,331.2 L768.5,334.4 L769.1,333.9 L769.8,332.4 L770.4,332.1 L771.0,331.5 L771.7,329.5 L772.3,332.5 L773.0,332.0 L773.6,333.4 L774.3,331.3 L774.9,331.1 L775.6,328.8 L776.2,326.4 L776.9,329.3 L777.6,329.7 L778.2,326.9 L778.9,328.2 L779.6,327.9 L780.2,324.9 L780.9,324.3 L781.6,325.1 L782.2,322.6 L782.9,323.0 L783.6,319.2 L784.2,317.7 L784.9,318.0 L785.5,315.1 L786.2,314.3 L786.9,316.5 L787.5,315.2 L788.2,315.9 L788.9,313.3 L789.5,311.6 L790.2,311.6 L790.9,310.5 L791.6,312.9 L792.3,310.0 L793.0,309.5 L793.7,306.5 L794.4,306.7 L795.1,305.8 L795.7,305.1 L796.4,302.9 L797.1,301.8 L797.7,304.4 L798.4,302.7 L799.1,301.2 L799.7,299.9 L800.4,299.7 L801.1,299.3 L801.7,297.9 L802.4,300.2 L803.1,299.3 L803.7,297.9 L804.4,299.8 L805.0,297.4 L805.9,301.8 L806.8,309.0 L807.5,306.1 L808.1,306.2 L808.8,307.7 L809.5,307.9 L810.1,304.5 L810.8,303.8 L811.5,304.9 L812.1,303.4 L812.8,305.3 L813.4,302.3 L814.1,304.4 L814.7,302.9 L815.4,300.7 L816.0,300.6 L816.6,298.9 L817.3,300.6 L817.9,299.0 L818.6,301.1 L819.2,300.3 L819.9,299.4 L820.6,298.7 L821.4,300.3 L822.1,299.3 L822.8,302.2 L823.5,299.4 L824.2,299.9 L824.9,300.0 L825.6,298.5 L826.3,300.1 L827.0,298.2 L827.6,298.1 L828.3,297.2 L829.0,295.0 L829.6,294.0 L830.3,291.6 L831.0,290.6 L831.6,292.8 L832.3,291.8 L833.1,293.1 L833.8,291.1 L834.5,292.5 L835.2,292.2 L835.9,292.0 L836.6,290.5 L837.3,288.4 L838.0,288.3 L838.7,287.4 L839.4,288.3 L840.1,292.3 L840.9,292.7 L841.6,294.3 L842.3,298.2 L843.0,300.3 L843.7,302.7 L844.4,304.7 L845.1,303.0 L845.8,304.1 L846.5,304.5 L847.2,308.7 L847.9,311.4 L848.7,312.1 L849.4,313.7 L850.1,315.5 L850.8,316.9 L851.5,315.7 L852.2,318.5 L852.9,317.7 L853.5,319.4 L854.2,318.6 L854.8,318.6 L855.4,322.9 L856.1,324.5 L856.7,325.6 L857.3,323.4 L858.0,319.5 L858.7,316.9 L859.3,314.5 L860.0,312.4 L860.9,310.8 L861.8,307.2 L862.5,309.1 L863.2,312.2 L863.9,312.0 L864.6,315.8 L865.3,316.8 L866.0,316.7 L866.6,314.1 L867.3,313.5 L868.0,314.1 L868.6,312.3 L869.3,309.5 L870.0,312.0 L870.6,312.3 L871.3,309.7 L872.1,307.0 L872.8,309.4 L873.5,308.7 L874.2,305.4 L874.9,306.0 L875.6,306.0 L876.3,309.7 L877.0,308.8 L877.7,312.2 L878.5,311.7 L879.2,307.7 L880.0,308.5 L880.6,308.2 L881.3,310.0 L881.9,311.3 L882.6,309.5 L883.2,308.1 L883.9,311.8 L884.5,311.1 L885.2,313.4 L885.8,313.5 L886.4,314.0 L887.1,314.8 L887.8,313.9 L888.4,312.5 L889.1,309.9 L889.8,311.8 L890.4,311.2 L891.1,311.2 L891.7,313.0 L892.4,309.8 L893.1,311.0 L893.7,307.6 L894.4,309.0 L895.1,309.7 L895.7,306.9 L896.4,306.8 L897.1,308.4 L897.7,307.0 L898.4,305.4 L899.1,302.8 L899.7,300.4 L900.4,300.3 L901.1,299.9 L901.7,298.3 L902.4,297.6 L903.0,296.0 L903.8,299.8 L904.5,302.0 L905.2,301.7 L905.9,302.4 L906.6,304.9 L907.3,305.3 L907.9,308.0 L908.6,306.5 L909.3,305.8 L909.9,308.6 L910.6,306.3 L911.2,307.6 L911.9,307.3 L912.6,309.7 L913.2,309.7 L913.9,311.0 L914.6,308.9 L915.2,310.7 L915.9,311.4 L916.6,311.3 L917.2,313.0 L917.9,313.5 L918.6,310.2 L919.2,309.6 L919.9,309.6 L920.6,308.7 L921.2,307.5 L921.9,307.9 L922.5,307.6 L923.2,309.6 L923.9,309.0 L924.5,307.0 L925.2,306.9 L925.9,307.4 L926.5,306.9 L927.2,305.6 L927.9,304.4 L928.5,304.4 L929.2,309.5 L929.9,310.8 L930.5,308.5 L931.2,311.0 L931.9,313.7 L932.5,313.2 L933.2,311.2 L933.8,312.4 L934.5,312.9 L935.2,312.2 L935.8,313.8 L936.5,312.2 L937.2,316.2 L937.8,316.7 L938.5,317.1 L939.1,318.5 L939.8,317.6 L940.4,315.4 L941.1,314.4 L941.7,313.4 L942.4,312.5 L943.0,315.6 L943.7,317.1 L944.3,315.1 L944.9,313.7 L945.6,315.2 L946.2,316.8 L946.9,317.7 L947.5,314.5 L948.2,316.0 L948.8,316.8 L949.5,316.7 L950.1,314.6 L950.7,313.0 L951.4,315.4 L952.0,313.9 L952.7,313.5 L953.3,314.2 L954.0,313.7 L954.7,315.6 L955.3,313.6 L956.0,311.9 L956.7,313.7 L957.3,314.7 L958.0,316.0 L958.7,317.1 L959.3,319.1 L960.0,320.8 L960.7,320.0 L961.3,320.3 L962.0,319.5 L962.7,320.5 L963.3,323.0 L964.0,323.6 L964.7,328.2 L965.4,329.1 L966.2,332.2 L966.9,337.5 L967.5,333.9 L968.2,332.0 L968.9,332.9 L969.5,331.8 L970.2,333.6 L970.9,330.7 L971.5,333.2 L972.2,334.0 L972.8,334.5 L973.5,333.2 L974.2,332.2 L974.8,333.8 L975.5,334.0 L976.2,333.8 L976.8,333.5 L977.5,334.1 L978.1,335.5 L978.8,337.0 L979.4,338.1 L980.1,335.1 L980.7,334.7 L981.4,335.4 L982.0,336.4 L982.7,335.9 L983.3,335.1 L983.9,334.5 L984.6,335.5 L985.3,336.9 L985.9,340.1 L986.6,341.4 L987.3,341.9 L987.9,343.0 L988.6,343.6 L989.2,342.5 L989.9,343.2 L990.6,340.2 L991.2,342.2 L991.9,342.9 L992.6,342.0 L993.2,343.2 L993.9,345.7 L994.6,344.8 L995.2,345.5 L995.9,343.2 L996.6,342.2 L997.2,343.9 L997.9,340.1 L998.6,339.0 L999.2,340.5 L999.9,339.5 L1000.5,337.1 L1001.3,336.9 L1002.0,334.2 L1002.7,332.9 L1003.4,330.3 L1004.1,328.5 L1004.7,328.6 L1005.4,327.8 L1006.0,326.0 L1006.7,325.5 L1007.3,328.6 L1008.0,328.1 L1008.6,325.8 L1009.2,328.3 L1009.9,326.3 L1010.5,324.7 L1011.2,326.0 L1011.8,324.7 L1012.5,325.0 L1013.1,325.0 L1013.8,323.2 L1014.4,323.7 L1015.1,321.4 L1015.7,322.1 L1016.3,322.4 L1017.0,319.7 L1017.6,319.9 L1018.3,318.0 L1019.0,319.4 L1019.7,322.1 L1020.4,321.8 L1021.1,322.5 L1021.8,323.2 L1022.5,320.9 L1023.1,324.6 L1023.8,325.2 L1024.5,322.9 L1025.1,325.8 L1025.8,325.3 L1026.5,324.5 L1027.1,328.3 L1027.8,327.0 L1028.5,327.1 L1029.1,323.7 L1029.8,325.0 L1030.5,321.7 L1031.1,320.8 L1031.8,320.7 L1032.5,318.6 L1033.1,320.2 L1033.8,318.7 L1034.4,318.1 L1035.1,319.5 L1035.8,318.4 L1036.4,319.8 L1037.1,318.8 L1037.8,319.3 L1038.5,318.5 L1039.2,320.2 L1039.9,320.8 L1040.6,317.9 L1041.3,319.7 L1042.0,319.4 L1042.6,321.9 L1043.3,323.0 L1044.0,324.8 L1044.6,322.8 L1045.3,323.7 L1046.0,326.5 L1046.6,329.1 L1047.3,329.2 L1047.9,326.2 L1048.6,327.9 L1049.2,326.4 L1049.9,328.2 L1050.5,330.4 L1051.1,328.2 L1051.8,331.4 L1052.4,331.8 L1053.1,330.2 L1053.7,329.5 L1054.4,329.7 L1055.1,331.3 L1055.7,330.4 L1056.4,327.5 L1057.1,325.5 L1057.7,324.8 L1058.4,327.5 L1059.0,325.3 L1059.7,326.2 L1060.4,325.2 L1061.0,326.5 L1061.7,325.5 L1062.4,323.8 L1063.0,326.4 L1063.7,325.8 L1064.4,326.1 L1065.0,326.4 L1065.7,327.0 L1066.4,322.5 L1067.0,322.0 L1067.7,320.6 L1068.4,321.4 L1069.0,323.3 L1069.7,323.4 L1070.3,320.9 L1071.0,321.1 L1071.7,324.8 L1072.3,326.1 L1073.0,325.8 L1073.7,326.6 L1074.3,325.9 L1075.0,329.5 L1075.6,328.3 L1076.3,330.1 L1076.9,329.5 L1077.6,326.6 L1078.2,326.7 L1078.9,326.1 L1079.5,329.0 L1080.2,328.7 L1080.8,326.0 L1081.4,325.4 L1082.1,326.0 L1082.7,327.2 L1083.4,328.3 L1084.0,328.1 L1084.7,328.0 L1085.3,326.5 L1086.0,328.8 L1086.6,328.8 L1087.2,327.5 L1087.9,329.2 L1088.5,332.6 L1089.2,329.7 L1089.8,329.4 L1090.4,332.0 L1091.0,331.5 L1091.6,331.6 L1092.2,333.0 L1092.9,332.7 L1093.5,334.3 L1094.1,335.1 L1094.7,337.7 L1095.3,339.2 L1095.9,335.5" fill="none" stroke="#3DB3A0" stroke-width="5.00" stroke-linejoin="round" stroke-linecap="round"/>
<path d="M674.2,362.5 L674.8,363.4 L675.5,364.1 L676.1,363.8 L676.7,362.8 L677.3,362.3 L677.9,360.7 L678.6,359.5 L679.2,361.4 L679.9,364.7 L680.6,367.6 L681.3,368.8 L682.0,368.8 L682.7,372.3 L683.4,371.0 L684.1,368.4 L684.7,367.0 L685.4,364.1 L686.1,362.8 L686.7,360.7 L687.4,357.2 L688.0,356.1 L688.7,356.6 L689.4,360.1 L690.0,359.3 L690.7,358.7 L691.4,358.0 L692.0,357.9 L692.7,358.6 L693.4,358.1 L694.0,357.1 L694.7,360.7 L695.3,360.1 L695.9,359.8 L696.6,360.2 L697.2,359.1 L697.9,357.9 L698.5,356.9 L699.2,357.6 L699.8,357.9 L700.5,359.9 L701.1,359.8 L701.7,361.6 L702.4,359.4 L703.0,361.3 L703.7,360.3 L704.3,357.5 L705.0,356.8 L705.6,358.4 L706.3,360.9 L706.9,358.9 L707.5,360.0 L708.2,359.0 L708.8,360.8 L709.5,357.8 L710.1,358.7 L710.8,361.1 L711.4,359.2 L712.1,358.5 L712.7,357.1 L713.3,357.4 L714.0,358.1 L714.6,360.5 L715.3,358.8 L715.9,358.8 L716.6,357.6 L717.2,358.9 L717.9,360.4 L718.5,359.8 L719.1,357.3 L719.8,358.6 L720.4,360.0 L721.1,358.7 L721.7,355.5 L722.4,358.3 L723.0,360.0 L723.7,358.4 L724.3,357.1 L725.0,357.1 L725.6,359.1 L726.2,361.8 L726.9,362.0 L727.5,363.7 L728.2,361.3 L728.8,361.2 L729.4,363.9 L730.1,365.0 L730.7,364.8 L731.3,366.6 L731.9,366.2 L732.5,365.2 L733.2,367.1 L733.8,366.6 L734.4,369.7 L735.0,370.1 L735.7,368.9 L736.4,367.8 L737.0,364.7 L737.7,363.4 L738.3,361.7 L739.0,365.6 L739.7,365.7 L740.3,367.9 L741.0,364.5 L741.7,366.1 L742.3,367.4 L743.0,366.2 L743.7,364.8 L744.3,364.6 L745.0,364.6 L745.7,367.7 L746.3,365.9 L747.0,368.7 L747.7,368.1 L748.3,368.5 L749.0,369.3 L749.6,369.6 L750.3,370.5 L750.9,370.9 L751.5,369.9 L752.2,371.8 L752.8,370.4 L753.5,372.3 L754.1,373.5 L754.8,374.3 L755.4,372.7 L756.1,373.6 L756.7,374.7 L757.4,372.4 L758.1,370.3 L758.7,370.4 L759.4,372.2 L760.1,368.8 L760.7,366.6 L761.4,367.6 L762.0,368.6 L762.7,369.2 L763.3,367.2 L764.0,369.1 L764.6,366.0 L765.2,367.0 L765.9,363.9 L766.5,362.1 L767.2,361.6 L767.8,360.7 L768.5,362.8 L769.1,363.9 L769.8,362.7 L770.5,365.8 L771.1,364.4 L771.8,362.9 L772.5,362.5 L773.1,365.1 L773.8,366.7 L774.5,363.6 L775.1,361.6 L775.8,364.3 L776.5,362.6 L777.1,365.4 L777.8,364.0 L778.5,364.0 L779.1,361.3 L779.8,361.5 L780.4,359.1 L781.1,356.6 L781.8,357.5 L782.4,353.2 L783.1,353.6 L783.8,349.7 L784.4,351.1 L785.1,350.2 L785.8,351.8 L786.4,348.3 L787.1,349.0 L787.8,348.3 L788.4,350.2 L789.1,350.8 L789.8,349.1 L790.4,346.1 L791.1,344.6 L791.8,343.6 L792.4,343.7 L793.1,342.3 L793.7,341.3 L794.4,343.1 L795.1,343.1 L795.7,341.2 L796.4,343.5 L797.1,340.4 L797.7,340.6 L798.4,338.4 L799.1,340.7 L799.7,341.3 L800.3,338.7 L801.0,339.9 L801.6,340.6 L802.2,338.2 L802.8,337.4 L803.5,337.6 L804.1,339.6 L804.7,336.8 L805.3,338.0 L805.9,338.0 L806.6,339.2 L807.4,341.3 L808.1,344.7 L808.8,343.9 L809.5,347.8 L810.1,345.4 L810.7,346.0 L811.4,346.2 L812.0,342.6 L812.6,343.9 L813.3,344.6 L813.9,341.1 L814.6,338.0 L815.2,336.6 L815.9,339.8 L816.6,335.9 L817.2,338.2 L817.9,335.1 L818.6,336.1 L819.2,333.1 L819.9,333.0 L820.6,335.8 L821.2,334.4 L821.9,335.4 L822.6,338.8 L823.2,339.6 L823.9,341.0 L824.5,342.4 L825.2,337.1 L825.9,335.3 L826.5,336.5 L827.2,335.9 L827.9,331.9 L828.5,331.8 L829.2,329.8 L829.9,329.3 L830.5,327.9 L831.2,326.9 L831.9,331.0 L832.5,329.4 L833.2,331.3 L833.9,328.5 L834.5,329.0 L835.2,327.4 L835.8,328.1 L836.4,327.2 L837.1,329.1 L837.7,327.2 L838.3,329.2 L839.0,328.8 L839.6,326.7 L840.2,328.6 L840.9,331.0 L841.5,334.8 L842.1,334.6 L842.8,334.7 L843.4,339.3 L844.0,341.6 L844.7,342.1 L845.4,340.7 L846.0,340.2 L846.7,340.9 L847.4,340.8 L848.0,341.2 L848.7,344.1 L849.4,345.3 L850.1,346.1 L850.8,345.5 L851.5,343.6 L852.2,346.1 L852.9,346.9 L853.5,347.5 L854.2,348.2 L854.8,349.6 L855.4,352.0 L856.1,352.9 L856.7,353.0 L857.3,351.9 L858.1,348.7 L858.8,346.6 L859.5,347.1 L860.2,343.3 L860.9,340.5 L861.6,341.6 L862.2,341.6 L862.9,346.5 L863.5,344.5 L864.2,345.6 L864.9,347.3 L865.5,344.5 L866.2,344.8 L866.9,343.6 L867.5,342.2 L868.2,341.1 L868.9,340.1 L869.5,343.0 L870.2,343.8 L870.9,344.6 L871.5,340.7 L872.2,342.1 L872.9,340.7 L873.5,341.6 L874.2,341.3 L874.8,340.3 L875.5,343.1 L876.2,339.7 L876.8,341.9 L877.5,343.4 L878.2,342.4 L878.8,342.4 L879.5,344.5 L880.0,340.7 L880.6,341.6 L881.3,342.6 L881.9,341.4 L882.6,342.6 L883.2,341.6 L883.9,342.0 L884.5,342.6 L885.2,343.3 L885.8,341.9 L886.4,343.0 L887.1,343.1 L887.8,342.0 L888.4,343.6 L889.1,342.9 L889.8,346.0 L890.4,345.4 L891.1,346.6 L891.7,346.4 L892.4,346.4 L893.1,344.3 L893.7,342.7 L894.4,345.4 L895.1,344.2 L895.7,343.3 L896.4,342.5 L897.1,343.2 L897.7,340.3 L898.4,338.4 L899.1,340.4 L899.7,339.1 L900.4,339.0 L901.1,339.4 L901.7,339.5 L902.4,339.0 L903.0,334.5 L903.7,335.3 L904.4,338.1 L905.0,339.6 L905.7,337.3 L906.4,336.9 L907.0,337.6 L907.7,337.6 L908.4,339.2 L909.0,341.6 L909.7,341.3 L910.4,340.8 L911.0,338.9 L911.7,339.6 L912.4,342.8 L913.0,342.6 L913.7,341.3 L914.4,342.4 L915.1,345.2 L915.8,347.0 L916.5,345.6 L917.2,348.5 L917.9,347.3 L918.6,347.5 L919.2,346.1 L919.9,346.0 L920.6,345.7 L921.2,345.6 L921.9,343.7 L922.5,343.7 L923.2,345.2 L923.8,343.2 L924.4,342.7 L925.0,344.9 L925.6,343.4 L926.3,342.8 L926.9,342.0 L927.5,344.3 L928.1,341.5 L928.8,342.7 L929.4,345.4 L930.0,344.0 L930.6,345.1 L931.3,347.9 L931.9,348.8 L932.5,348.6 L933.2,347.5 L933.8,348.7 L934.5,348.9 L935.2,350.7 L935.8,349.5 L936.5,349.6 L937.2,350.8 L937.8,352.2 L938.5,350.6 L939.1,350.1 L939.8,350.8 L940.4,352.7 L941.1,350.0 L941.7,352.6 L942.4,352.5 L943.0,350.8 L943.7,351.5 L944.3,350.2 L944.9,348.4 L945.6,351.0 L946.2,350.6 L946.9,351.4 L947.5,351.8 L948.2,354.2 L948.8,354.7 L949.5,351.6 L950.1,353.3 L950.7,353.6 L951.4,354.0 L952.0,356.2 L952.7,355.3 L953.3,354.8 L954.0,356.5 L954.7,354.9 L955.3,354.3 L956.0,354.1 L956.7,355.3 L957.3,355.0 L958.0,355.0 L958.7,354.4 L959.3,353.0 L960.0,356.0 L960.7,357.1 L961.3,359.1 L962.0,360.5 L962.7,358.4 L963.3,358.7 L964.0,358.8 L964.7,363.0 L965.4,361.9 L966.2,362.0 L966.9,365.9 L967.6,365.4 L968.3,362.3 L969.0,363.7 L969.7,363.9 L970.4,362.5 L971.1,360.9 L971.7,363.6 L972.4,363.8 L973.1,365.1 L973.7,368.0 L974.4,368.7 L975.1,369.6 L975.7,366.9 L976.4,366.9 L977.1,368.1 L977.7,366.4 L978.4,370.6 L979.1,369.2 L979.7,368.8 L980.4,369.2 L981.0,369.3 L981.7,371.7 L982.4,371.1 L983.0,370.4 L983.7,369.5 L984.4,367.2 L985.0,367.2 L985.7,369.7 L986.4,370.2 L987.0,371.3 L987.7,369.1 L988.4,368.2 L989.0,367.4 L989.7,369.7 L990.4,370.1 L991.0,370.9 L991.7,371.7 L992.3,371.8 L993.0,370.5 L993.7,371.8 L994.3,369.2 L995.0,371.3 L995.7,370.2 L996.3,367.1 L997.0,366.8 L997.7,367.8 L998.3,367.5 L999.0,368.1 L999.7,367.1 L1000.3,366.4 L1001.0,368.6 L1001.7,367.0 L1002.3,368.2 L1003.0,368.3 L1003.6,366.9 L1004.3,365.1 L1005.0,366.1 L1005.6,363.7 L1006.3,364.2 L1007.0,360.0 L1007.6,359.6 L1008.3,360.3 L1009.0,357.5 L1009.6,360.0 L1010.3,357.0 L1011.0,358.0 L1011.6,356.1 L1012.3,358.7 L1013.0,357.7 L1013.6,358.1 L1014.2,356.4 L1014.9,356.3 L1015.5,355.9 L1016.2,353.6 L1016.8,351.9 L1017.5,353.9 L1018.1,351.1 L1018.8,353.3 L1019.4,350.4 L1020.0,348.4 L1020.7,348.3 L1021.4,351.8 L1022.0,354.2 L1022.7,352.9 L1023.4,353.8 L1024.0,352.5 L1024.7,355.4 L1025.4,355.7 L1026.0,353.0 L1026.7,351.2 L1027.4,353.5 L1028.0,351.1 L1028.7,353.8 L1029.4,352.2 L1030.0,351.1 L1030.7,352.2 L1031.3,351.0 L1031.9,351.5 L1032.5,349.4 L1033.2,351.9 L1033.8,349.9 L1034.4,351.3 L1035.0,348.3 L1035.6,349.9 L1036.3,351.1 L1036.9,348.6 L1037.5,346.4 L1038.1,347.5 L1038.7,349.5 L1039.4,348.5 L1040.0,349.9 L1040.6,348.6 L1041.2,350.1 L1041.9,352.2 L1042.5,351.9 L1043.1,353.3 L1043.8,351.6 L1044.4,354.7 L1045.1,353.0 L1045.8,356.5 L1046.4,358.7 L1047.1,359.7 L1047.7,358.5 L1048.4,357.3 L1049.1,357.2 L1049.7,359.2 L1050.4,359.1 L1051.1,361.2 L1051.7,358.3 L1052.4,359.2 L1053.1,361.6 L1053.7,361.5 L1054.4,360.5 L1055.0,357.7 L1055.6,356.5 L1056.3,356.3 L1056.9,358.9 L1057.5,359.4 L1058.2,356.4 L1058.8,358.9 L1059.4,355.9 L1060.1,357.5 L1060.7,360.0 L1061.3,358.3 L1062.0,360.5 L1062.6,360.2 L1063.2,356.7 L1063.8,356.4 L1064.5,356.5 L1065.1,355.3 L1065.7,357.0 L1066.3,354.7 L1066.9,356.4 L1067.6,354.5 L1068.2,352.4 L1068.8,353.6 L1069.4,352.3 L1070.0,354.1 L1070.7,356.1 L1071.3,356.2 L1071.9,355.7 L1072.5,353.7 L1073.1,355.3 L1073.8,354.1 L1074.4,356.4 L1075.0,355.0 L1075.6,356.6 L1076.3,356.2 L1076.9,356.2 L1077.6,357.6 L1078.2,355.8 L1078.9,355.2 L1079.5,358.7 L1080.2,357.2 L1080.8,359.1 L1081.4,360.0 L1082.1,358.6 L1082.7,356.6 L1083.4,355.6 L1084.0,359.1 L1084.7,356.9 L1085.3,357.9 L1086.0,358.6 L1086.6,357.0 L1087.2,358.1 L1087.9,357.2 L1088.5,358.7 L1089.2,359.3 L1089.8,359.4 L1090.4,359.1 L1091.1,360.3 L1091.7,360.2 L1092.3,360.2 L1093.0,361.1 L1093.6,364.8 L1094.4,367.9 L1095.2,373.0 L1095.9,373.1" fill="none" stroke="#1F3B57" stroke-width="5.20" stroke-linejoin="round" stroke-linecap="round"/>
</g>
<line x1="674.2" y1="278.0" x2="674.2" y2="475.3" stroke="#868686" stroke-width="1.3"/>
<line x1="1095.6" y1="278.0" x2="1095.6" y2="470.3" stroke="#868686" stroke-width="1.3"/>
<line x1="674.2" y1="470.3" x2="1100.6" y2="470.3" stroke="#868686" stroke-width="1.3"/>
<line x1="674.2" y1="470.3" x2="674.2" y2="475.3" stroke="#868686" stroke-width="1.3"/>
<line x1="701.0" y1="470.3" x2="701.0" y2="475.3" stroke="#868686" stroke-width="1.3"/>
<line x1="727.8" y1="470.3" x2="727.8" y2="475.3" stroke="#868686" stroke-width="1.3"/>
<line x1="754.5" y1="470.3" x2="754.5" y2="475.3" stroke="#868686" stroke-width="1.3"/>
<line x1="781.3" y1="470.3" x2="781.3" y2="475.3" stroke="#868686" stroke-width="1.3"/>
<line x1="808.1" y1="470.3" x2="808.1" y2="475.3" stroke="#868686" stroke-width="1.3"/>
<line x1="834.9" y1="470.3" x2="834.9" y2="475.3" stroke="#868686" stroke-width="1.3"/>
<line x1="861.7" y1="470.3" x2="861.7" y2="475.3" stroke="#868686" stroke-width="1.3"/>
<line x1="888.4" y1="470.3" x2="888.4" y2="475.3" stroke="#868686" stroke-width="1.3"/>
<line x1="915.2" y1="470.3" x2="915.2" y2="475.3" stroke="#868686" stroke-width="1.3"/>
<line x1="942.0" y1="470.3" x2="942.0" y2="475.3" stroke="#868686" stroke-width="1.3"/>
<line x1="968.8" y1="470.3" x2="968.8" y2="475.3" stroke="#868686" stroke-width="1.3"/>
<line x1="995.6" y1="470.3" x2="995.6" y2="475.3" stroke="#868686" stroke-width="1.3"/>
<line x1="1022.3" y1="470.3" x2="1022.3" y2="475.3" stroke="#868686" stroke-width="1.3"/>
<line x1="1049.1" y1="470.3" x2="1049.1" y2="475.3" stroke="#868686" stroke-width="1.3"/>
<line x1="1075.9" y1="470.3" x2="1075.9" y2="475.3" stroke="#868686" stroke-width="1.3"/>
<line x1="1095.6" y1="278.0" x2="1100.6" y2="278.0" stroke="#868686" stroke-width="1.3"/>
<line x1="1095.6" y1="299.4" x2="1100.6" y2="299.4" stroke="#868686" stroke-width="1.3"/>
<line x1="1095.6" y1="320.7" x2="1100.6" y2="320.7" stroke="#868686" stroke-width="1.3"/>
<line x1="1095.6" y1="342.1" x2="1100.6" y2="342.1" stroke="#868686" stroke-width="1.3"/>
<line x1="1095.6" y1="363.5" x2="1100.6" y2="363.5" stroke="#868686" stroke-width="1.3"/>
<line x1="1095.6" y1="384.8" x2="1100.6" y2="384.8" stroke="#868686" stroke-width="1.3"/>
<line x1="1095.6" y1="406.2" x2="1100.6" y2="406.2" stroke="#868686" stroke-width="1.3"/>
<line x1="1095.6" y1="427.6" x2="1100.6" y2="427.6" stroke="#868686" stroke-width="1.3"/>
<line x1="1095.6" y1="448.9" x2="1100.6" y2="448.9" stroke="#868686" stroke-width="1.3"/>
<line x1="1095.6" y1="470.3" x2="1100.6" y2="470.3" stroke="#868686" stroke-width="1.3"/>
<text x="661.5" y="283.2" font-size="15" text-anchor="end" font-family='"Liberation Sans","Noto Sans CJK SC",sans-serif' font-weight="normal" fill="#1c1c1c" textLength="29.5" lengthAdjust="spacingAndGlyphs" >8000</text>
<text x="661.5" y="307.2" font-size="15" text-anchor="end" font-family='"Liberation Sans","Noto Sans CJK SC",sans-serif' font-weight="normal" fill="#1c1c1c" textLength="29.5" lengthAdjust="spacingAndGlyphs" >7000</text>
<text x="661.5" y="331.3" font-size="15" text-anchor="end" font-family='"Liberation Sans","Noto Sans CJK SC",sans-serif' font-weight="normal" fill="#1c1c1c" textLength="29.5" lengthAdjust="spacingAndGlyphs" >6000</text>
<text x="661.5" y="355.3" font-size="15" text-anchor="end" font-family='"Liberation Sans","Noto Sans CJK SC",sans-serif' font-weight="normal" fill="#1c1c1c" textLength="29.5" lengthAdjust="spacingAndGlyphs" >5000</text>
<text x="661.5" y="379.3" font-size="15" text-anchor="end" font-family='"Liberation Sans","Noto Sans CJK SC",sans-serif' font-weight="normal" fill="#1c1c1c" textLength="29.5" lengthAdjust="spacingAndGlyphs" >4000</text>
<text x="661.5" y="403.4" font-size="15" text-anchor="end" font-family='"Liberation Sans","Noto Sans CJK SC",sans-serif' font-weight="normal" fill="#1c1c1c" textLength="29.5" lengthAdjust="spacingAndGlyphs" >3000</text>
<text x="661.5" y="427.4" font-size="15" text-anchor="end" font-family='"Liberation Sans","Noto Sans CJK SC",sans-serif' font-weight="normal" fill="#1c1c1c" textLength="29.5" lengthAdjust="spacingAndGlyphs" >2000</text>
<text x="661.5" y="451.5" font-size="15" text-anchor="end" font-family='"Liberation Sans","Noto Sans CJK SC",sans-serif' font-weight="normal" fill="#1c1c1c" textLength="29.5" lengthAdjust="spacingAndGlyphs" >1000</text>
<text x="661.5" y="475.5" font-size="15" text-anchor="end" font-family='"Liberation Sans","Noto Sans CJK SC",sans-serif' font-weight="normal" fill="#1c1c1c" textLength="7.5" lengthAdjust="spacingAndGlyphs" >0</text>
<text x="1109.0" y="283.2" font-size="15" text-anchor="start" font-family='"Liberation Sans","Noto Sans CJK SC",sans-serif' font-weight="normal" fill="#1c1c1c" textLength="28.5" lengthAdjust="spacingAndGlyphs" >1800</text>
<text x="1109.0" y="304.6" font-size="15" text-anchor="start" font-family='"Liberation Sans","Noto Sans CJK SC",sans-serif' font-weight="normal" fill="#1c1c1c" textLength="28.5" lengthAdjust="spacingAndGlyphs" >1600</text>
<text x="1109.0" y="325.9" font-size="15" text-anchor="start" font-family='"Liberation Sans","Noto Sans CJK SC",sans-serif' font-weight="normal" fill="#1c1c1c" textLength="28.5" lengthAdjust="spacingAndGlyphs" >1400</text>
<text x="1109.0" y="347.3" font-size="15" text-anchor="start" font-family='"Liberation Sans","Noto Sans CJK SC",sans-serif' font-weight="normal" fill="#1c1c1c" textLength="28.5" lengthAdjust="spacingAndGlyphs" >1200</text>
<text x="1109.0" y="368.7" font-size="15" text-anchor="start" font-family='"Liberation Sans","Noto Sans CJK SC",sans-serif' font-weight="normal" fill="#1c1c1c" textLength="28.5" lengthAdjust="spacingAndGlyphs" >1000</text>
<text x="1109.0" y="390.0" font-size="15" text-anchor="start" font-family='"Liberation Sans","Noto Sans CJK SC",sans-serif' font-weight="normal" fill="#1c1c1c" textLength="21.5" lengthAdjust="spacingAndGlyphs" >800</text>
<text x="1109.0" y="411.4" font-size="15" text-anchor="start" font-family='"Liberation Sans","Noto Sans CJK SC",sans-serif' font-weight="normal" fill="#1c1c1c" textLength="21.5" lengthAdjust="spacingAndGlyphs" >600</text>
<text x="1109.0" y="432.8" font-size="15" text-anchor="start" font-family='"Liberation Sans","Noto Sans CJK SC",sans-serif' font-weight="normal" fill="#1c1c1c" textLength="21.5" lengthAdjust="spacingAndGlyphs" >400</text>
<text x="1109.0" y="454.1" font-size="15" text-anchor="start" font-family='"Liberation Sans","Noto Sans CJK SC",sans-serif' font-weight="normal" fill="#1c1c1c" textLength="21.5" lengthAdjust="spacingAndGlyphs" >200</text>
<text x="1109.0" y="475.5" font-size="15" text-anchor="start" font-family='"Liberation Sans","Noto Sans CJK SC",sans-serif' font-weight="normal" fill="#1c1c1c" textLength="7.5" lengthAdjust="spacingAndGlyphs" >0</text>
<text x="679.9" y="481.9" font-size="14.2" text-anchor="end" font-family='"Liberation Sans","Noto Sans CJK SC",sans-serif' font-weight="normal" fill="#1c1c1c" textLength="65.3" lengthAdjust="spacingAndGlyphs" transform="rotate(-90 679.9 481.9)" >2021/6/1</text>
<text x="706.7" y="481.9" font-size="14.2" text-anchor="end" font-family='"Liberation Sans","Noto Sans CJK SC",sans-serif' font-weight="normal" fill="#1c1c1c" textLength="65.3" lengthAdjust="spacingAndGlyphs" transform="rotate(-90 706.7 481.9)" >2021/8/1</text>
<text x="733.5" y="481.9" font-size="14.2" text-anchor="end" font-family='"Liberation Sans","Noto Sans CJK SC",sans-serif' font-weight="normal" fill="#1c1c1c" textLength="74.2" lengthAdjust="spacingAndGlyphs" transform="rotate(-90 733.5 481.9)" >2021/10/1</text>
<text x="760.2" y="481.9" font-size="14.2" text-anchor="end" font-family='"Liberation Sans","Noto Sans CJK SC",sans-serif' font-weight="normal" fill="#1c1c1c" textLength="74.2" lengthAdjust="spacingAndGlyphs" transform="rotate(-90 760.2 481.9)" >2021/12/1</text>
<text x="787.0" y="481.9" font-size="14.2" text-anchor="end" font-family='"Liberation Sans","Noto Sans CJK SC",sans-serif' font-weight="normal" fill="#1c1c1c" textLength="65.3" lengthAdjust="spacingAndGlyphs" transform="rotate(-90 787.0 481.9)" >2022/2/1</text>
<text x="813.8" y="481.9" font-size="14.2" text-anchor="end" font-family='"Liberation Sans","Noto Sans CJK SC",sans-serif' font-weight="normal" fill="#1c1c1c" textLength="65.3" lengthAdjust="spacingAndGlyphs" transform="rotate(-90 813.8 481.9)" >2022/4/1</text>
<text x="840.6" y="481.9" font-size="14.2" text-anchor="end" font-family='"Liberation Sans","Noto Sans CJK SC",sans-serif' font-weight="normal" fill="#1c1c1c" textLength="65.3" lengthAdjust="spacingAndGlyphs" transform="rotate(-90 840.6 481.9)" >2022/6/1</text>
<text x="867.4" y="481.9" font-size="14.2" text-anchor="end" font-family='"Liberation Sans","Noto Sans CJK SC",sans-serif' font-weight="normal" fill="#1c1c1c" textLength="65.3" lengthAdjust="spacingAndGlyphs" transform="rotate(-90 867.4 481.9)" >2022/8/1</text>
<text x="894.1" y="481.9" font-size="14.2" text-anchor="end" font-family='"Liberation Sans","Noto Sans CJK SC",sans-serif' font-weight="normal" fill="#1c1c1c" textLength="74.2" lengthAdjust="spacingAndGlyphs" transform="rotate(-90 894.1 481.9)" >2022/10/1</text>
<text x="920.9" y="481.9" font-size="14.2" text-anchor="end" font-family='"Liberation Sans","Noto Sans CJK SC",sans-serif' font-weight="normal" fill="#1c1c1c" textLength="74.2" lengthAdjust="spacingAndGlyphs" transform="rotate(-90 920.9 481.9)" >2022/12/1</text>
<text x="947.7" y="481.9" font-size="14.2" text-anchor="end" font-family='"Liberation Sans","Noto Sans CJK SC",sans-serif' font-weight="normal" fill="#1c1c1c" textLength="65.3" lengthAdjust="spacingAndGlyphs" transform="rotate(-90 947.7 481.9)" >2023/2/1</text>
<text x="974.5" y="481.9" font-size="14.2" text-anchor="end" font-family='"Liberation Sans","Noto Sans CJK SC",sans-serif' font-weight="normal" fill="#1c1c1c" textLength="65.3" lengthAdjust="spacingAndGlyphs" transform="rotate(-90 974.5 481.9)" >2023/4/1</text>
<text x="1001.3" y="481.9" font-size="14.2" text-anchor="end" font-family='"Liberation Sans","Noto Sans CJK SC",sans-serif' font-weight="normal" fill="#1c1c1c" textLength="65.3" lengthAdjust="spacingAndGlyphs" transform="rotate(-90 1001.3 481.9)" >2023/6/1</text>
<text x="1028.0" y="481.9" font-size="14.2" text-anchor="end" font-family='"Liberation Sans","Noto Sans CJK SC",sans-serif' font-weight="normal" fill="#1c1c1c" textLength="65.3" lengthAdjust="spacingAndGlyphs" transform="rotate(-90 1028.0 481.9)" >2023/8/1</text>
<text x="1054.8" y="481.9" font-size="14.2" text-anchor="end" font-family='"Liberation Sans","Noto Sans CJK SC",sans-serif' font-weight="normal" fill="#1c1c1c" textLength="74.2" lengthAdjust="spacingAndGlyphs" transform="rotate(-90 1054.8 481.9)" >2023/10/1</text>
<text x="1081.6" y="481.9" font-size="14.2" text-anchor="end" font-family='"Liberation Sans","Noto Sans CJK SC",sans-serif' font-weight="normal" fill="#1c1c1c" textLength="74.2" lengthAdjust="spacingAndGlyphs" transform="rotate(-90 1081.6 481.9)" >2023/12/1</text>
<rect x="648.2" y="224.4" width="26" height="7.8" fill="#9BBB59"/>
<text x="678.0" y="231.8" font-size="12.5" text-anchor="start" font-family='"Liberation Sans","Noto Sans CJK SC",sans-serif' font-weight="500" fill="#1c1c1c" textLength="71.0" lengthAdjust="spacingAndGlyphs" >价差：美-南美</text>
<line x1="771.5" y1="228.3" x2="798.5" y2="228.3" stroke="#3DB3A0" stroke-width="5.4" stroke-linecap="round"/>
<text x="802.0" y="231.8" font-size="12.5" text-anchor="start" font-family='"Liberation Sans","Noto Sans CJK SC",sans-serif' font-weight="500" fill="#1c1c1c" textLength="118.5" lengthAdjust="spacingAndGlyphs" >进口大豆:美豆:到港成本</text>
<line x1="943.0" y1="228.3" x2="970.5" y2="228.3" stroke="#1F3B57" stroke-width="5.4" stroke-linecap="round"/>
<text x="973.0" y="231.8" font-size="12.5" text-anchor="start" font-family='"Liberation Sans","Noto Sans CJK SC",sans-serif' font-weight="500" fill="#1c1c1c" textLength="142.0" lengthAdjust="spacingAndGlyphs" >进口大豆:南美大豆:到港成本</text>
<text x="638.0" y="255.5" font-size="13.5" text-anchor="start" font-family='"Liberation Sans","Noto Sans CJK SC",sans-serif' font-weight="bold" fill="#1c1c1c" textLength="28.0" lengthAdjust="spacingAndGlyphs" >元/吨</text>
<line x1="1140.2" y1="193.0" x2="1140.2" y2="560.0" stroke="#808080" stroke-width="1.7"/>
<line x1="152.7" y1="748.7" x2="617.0" y2="748.7" stroke="#868686" stroke-width="1.3"/>
<line x1="152.7" y1="773.8" x2="617.0" y2="773.8" stroke="#868686" stroke-width="1.3"/>
<line x1="152.7" y1="798.9" x2="617.0" y2="798.9" stroke="#868686" stroke-width="1.3"/>
<line x1="152.7" y1="824.0" x2="617.0" y2="824.0" stroke="#868686" stroke-width="1.3"/>
<line x1="152.7" y1="849.0" x2="617.0" y2="849.0" stroke="#868686" stroke-width="1.3"/>
<line x1="152.7" y1="874.1" x2="617.0" y2="874.1" stroke="#868686" stroke-width="1.3"/>
<line x1="152.7" y1="899.2" x2="617.0" y2="899.2" stroke="#868686" stroke-width="1.3"/>
<line x1="152.7" y1="924.3" x2="617.0" y2="924.3" stroke="#868686" stroke-width="1.3"/>
<line x1="152.7" y1="949.4" x2="617.0" y2="949.4" stroke="#868686" stroke-width="1.3"/>
<clipPath id="c3clip"><rect x="157.7" y="743.7" width="462.3" height="205.7"/></clipPath>
<g clip-path="url(#c3clip)">
<path d="M157.7,851.9 L159.0,848.1 L160.3,844.8 L161.6,841.1 L162.8,840.8 L163.9,839.7 L165.1,839.8 L166.2,838.7 L167.4,838.1 L169.3,830.8 L170.4,831.0 L171.5,831.4 L172.6,831.3 L173.6,832.1 L174.7,831.4 L175.8,831.7 L176.9,831.3 L177.9,831.7 L179.0,832.2 L180.9,838.2 L182.2,837.1 L183.4,836.6 L184.6,836.7 L185.8,837.3 L187.2,840.2 L188.7,844.4 L190.1,838.9 L191.6,833.5 L192.8,830.1 L194.0,827.6 L195.2,824.4 L196.4,822.1 L197.6,816.6 L198.8,813.1 L200.0,808.4 L201.2,803.8 L202.5,800.7 L203.7,798.2 L204.9,796.5 L206.1,794.4 L207.3,797.1 L208.5,800.4 L209.7,803.4 L210.9,806.7 L212.2,800.5 L213.5,794.5 L214.8,789.5 L216.0,792.9 L217.2,795.6 L218.4,797.9 L219.6,800.3 L220.9,802.9 L222.2,805.5 L223.5,807.7 L224.8,806.6 L226.1,804.8 L227.4,804.0 L228.6,812.9 L229.9,821.4 L231.2,828.8 L232.5,835.7 L233.8,841.8 L235.1,847.7 L236.4,851.9 L237.7,855.2 L239.0,858.7 L240.2,858.8 L241.4,860.3 L242.6,861.8 L243.8,863.0 L245.1,859.7 L246.4,856.6 L247.7,853.4 L248.9,851.8 L250.1,850.2 L251.3,849.3 L252.5,848.2 L253.8,847.5 L255.1,845.8 L256.4,845.4 L257.6,846.7 L258.8,848.9 L260.0,849.5 L261.2,852.0 L262.4,849.9 L263.6,847.0 L264.8,845.3 L266.0,842.4 L267.3,844.9 L268.6,847.9 L269.9,850.6 L271.1,850.6 L272.2,851.2 L273.4,851.2 L274.5,851.1 L275.7,850.5 L277.2,842.1 L278.6,833.6 L280.1,823.0 L281.5,812.7 L282.8,813.4 L284.1,813.4 L285.4,813.2 L286.7,810.3 L287.9,807.6 L289.2,803.9 L290.5,800.8 L291.8,798.0 L293.1,795.0 L294.4,792.6 L295.7,791.4 L297.0,789.4 L298.1,789.5 L299.3,790.9 L300.5,791.2 L301.6,791.8 L302.8,792.2 L303.9,793.1 L305.1,793.9 L306.3,795.1 L307.4,797.0 L308.6,798.3 L309.7,797.6 L310.8,796.7 L311.9,796.4 L313.0,796.7 L314.1,796.4 L315.2,796.5 L316.3,796.7 L317.5,796.6 L318.6,797.8 L319.8,797.8 L321.0,799.3 L322.1,799.5 L323.3,797.8 L324.4,797.2 L325.6,795.3 L326.8,793.3 L327.9,792.6 L329.0,792.5 L330.1,792.8 L331.2,792.1 L332.3,791.9 L333.4,792.4 L334.5,791.9 L335.7,792.3 L336.8,792.4 L338.0,793.8 L339.1,794.0 L340.3,795.1 L341.5,795.3 L342.7,793.8 L344.0,793.6 L345.3,792.2 L346.5,795.4 L347.6,797.5 L348.8,800.0 L350.0,802.2 L351.1,805.3 L352.4,808.7 L353.7,811.1 L355.0,813.4 L356.2,815.1 L357.4,816.4 L358.6,817.3 L359.8,817.2 L361.0,819.4 L362.2,821.2 L363.5,823.9 L364.7,825.3 L365.8,824.3 L367.0,823.2 L368.1,821.7 L369.3,820.5 L370.5,819.6 L371.9,827.9 L373.4,835.3 L374.8,826.1 L376.3,818.2 L378.2,811.3 L379.5,815.8 L380.8,819.8 L382.1,823.6 L383.5,822.4 L385.0,821.7 L386.9,841.5 L388.1,841.2 L389.2,840.9 L390.3,839.4 L391.4,838.9 L392.6,838.1 L393.7,838.9 L395.2,830.7 L396.6,821.1 L397.6,788.4 L399.0,795.3 L400.5,801.3 L401.9,795.5 L403.4,790.3 L405.3,784.7 L406.8,791.1 L408.2,798.3 L409.7,810.4 L411.1,823.1 L412.3,825.4 L413.5,828.7 L414.7,831.0 L415.9,833.7 L417.2,836.0 L418.4,838.0 L419.6,841.0 L420.8,843.4 L422.1,845.9 L423.4,847.8 L424.6,849.8 L425.9,846.7 L427.1,843.9 L428.3,840.8 L429.5,836.9 L430.8,836.2 L432.1,836.4 L433.3,837.1 L434.8,846.1 L436.2,856.2 L437.5,855.6 L438.7,855.5 L439.9,855.0 L441.1,855.1 L443.0,861.1 L444.2,863.7 L445.3,865.8 L446.5,866.5 L447.7,867.7 L448.8,870.1 L450.0,870.9 L451.2,872.1 L452.4,873.6 L453.7,874.6 L455.1,878.9 L456.6,883.4 L457.7,883.8 L458.8,885.1 L459.9,884.9 L461.1,884.8 L462.2,886.0 L463.3,886.1 L464.7,848.9 L465.8,850.4 L466.8,852.2 L467.9,853.1 L469.0,854.0 L470.1,856.2 L471.3,856.6 L472.5,857.1 L473.7,857.8 L474.9,858.6 L476.4,857.0 L477.8,855.8 L479.0,857.0 L480.1,857.2 L481.3,857.1 L482.5,857.7 L483.6,857.7 L484.7,858.2 L485.8,857.4 L486.9,858.1 L487.9,858.2 L489.0,857.9 L490.1,858.6 L491.1,858.0 L492.2,857.6 L493.3,857.0 L494.6,862.6 L495.9,868.4 L497.2,873.8 L498.4,875.2 L499.6,877.4 L500.8,878.2 L502.0,879.7 L503.1,880.0 L504.3,880.6 L505.4,880.4 L506.5,880.2 L507.6,880.2 L508.8,879.6 L509.9,880.9 L511.1,881.7 L512.2,881.9 L513.4,882.3 L514.6,883.6 L515.7,885.5 L516.9,887.3 L518.0,890.4 L519.2,892.6 L520.4,894.9 L521.8,898.0 L523.3,901.4 L524.4,900.1 L525.5,899.6 L526.7,898.7 L527.8,898.6 L528.9,898.5 L530.0,898.9 L531.2,894.2 L532.5,889.3 L533.7,884.2 L534.9,879.4 L536.2,874.5 L537.5,870.6 L538.7,866.4 L540.2,869.6 L541.6,871.5 L542.9,873.1 L544.2,874.7 L545.5,875.7 L546.8,877.5 L548.1,879.1 L549.4,880.3 L550.7,875.2 L552.0,869.8 L553.2,864.9 L554.4,865.4 L555.6,867.2 L556.7,869.0 L557.9,870.5 L559.0,871.5 L560.5,867.9 L561.9,865.4 L563.2,869.0 L564.4,871.4 L565.6,873.9 L566.8,876.5 L568.1,878.1 L569.4,880.8 L570.7,883.6 L571.9,885.3 L573.1,886.3 L574.3,887.9 L575.5,888.5 L576.9,885.3 L578.4,881.1 L579.5,883.0 L580.7,886.3 L581.9,888.5 L583.0,891.2 L584.2,893.5 L585.3,893.5 L586.5,893.5 L587.7,893.8 L588.8,892.6 L590.0,892.9 L591.1,890.3 L592.3,888.2 L593.5,886.7 L594.6,884.6 L595.8,882.6 L596.9,882.4 L598.0,881.4 L599.1,881.6 L600.2,880.5 L601.3,880.6 L602.4,880.5 L603.5,879.7 L604.7,878.6 L605.8,879.0 L607.0,878.0 L608.2,878.1 L609.3,877.9 L610.4,877.5 L611.5,878.2 L612.6,878.8 L613.7,879.1 L614.9,878.9 L616.0,879.1 L617.1,879.4" fill="none" stroke="#FDB813" stroke-width="4.60" stroke-linejoin="round" stroke-linecap="round"/>
<path d="M157.7,858.5 L159.0,855.7 L160.3,852.8 L161.6,849.4 L162.8,850.1 L163.9,849.6 L165.1,850.6 L166.2,849.8 L167.4,850.2 L168.7,846.4 L170.0,843.3 L171.3,840.6 L172.4,840.9 L173.5,840.7 L174.6,840.4 L175.7,840.0 L176.8,840.1 L177.9,839.9 L179.0,839.7 L180.5,842.8 L181.9,845.3 L183.4,841.9 L184.8,838.1 L186.0,840.9 L187.1,842.8 L188.3,844.9 L189.5,847.6 L190.6,850.4 L191.9,845.9 L193.2,840.8 L194.5,836.0 L195.6,833.5 L196.8,830.5 L198.0,827.7 L199.1,823.9 L200.3,820.7 L201.5,816.3 L202.7,813.4 L203.9,809.9 L205.1,806.1 L206.3,803.2 L207.5,800.6 L208.7,797.8 L209.9,795.9 L211.2,798.7 L212.5,800.0 L213.8,801.2 L215.0,802.9 L216.1,805.0 L217.3,807.8 L218.5,810.2 L219.6,811.8 L220.8,809.6 L222.0,807.8 L223.2,806.1 L224.5,805.5 L225.7,807.5 L227.0,810.3 L228.3,812.6 L229.8,820.4 L231.2,827.6 L232.4,831.8 L233.6,834.7 L234.8,838.0 L236.1,842.2 L237.3,844.3 L238.5,845.8 L239.7,847.6 L240.9,849.0 L242.3,853.1 L243.8,856.3 L245.0,853.0 L246.2,849.6 L247.4,845.1 L248.6,841.3 L249.8,840.5 L250.9,840.4 L252.1,840.3 L253.3,839.0 L254.4,837.8 L255.7,834.5 L257.0,831.8 L258.3,828.5 L259.5,827.7 L260.6,828.5 L261.8,828.8 L262.9,828.4 L264.1,827.4 L266.0,819.5 L267.3,822.7 L268.6,825.2 L269.9,828.3 L271.1,830.7 L272.2,833.3 L273.4,835.0 L274.5,837.1 L275.7,838.4 L277.0,841.6 L278.3,846.0 L279.6,849.3 L281.5,818.7 L282.8,818.4 L284.1,817.3 L285.4,816.4 L287.3,803.2 L288.6,804.2 L289.9,805.2 L291.2,806.1 L292.6,799.1 L294.1,791.6 L295.5,789.8 L297.0,786.7 L298.2,786.7 L299.4,786.5 L300.6,786.7 L301.8,786.8 L303.0,787.4 L304.2,788.9 L305.4,790.4 L306.6,791.4 L307.8,791.0 L309.0,792.0 L310.1,792.2 L311.3,791.6 L312.4,791.5 L313.9,790.2 L315.3,787.2 L316.6,787.8 L317.8,789.1 L319.0,790.2 L320.2,790.9 L322.1,799.7 L323.3,794.4 L324.5,789.5 L325.7,786.2 L326.9,782.2 L328.2,781.5 L329.4,781.1 L330.6,781.3 L331.8,782.6 L333.1,782.8 L334.4,783.9 L335.7,785.2 L336.8,784.2 L338.0,783.6 L339.1,781.8 L340.3,780.2 L341.5,778.6 L342.7,783.6 L344.0,787.3 L345.3,792.5 L346.4,793.1 L347.5,792.9 L348.6,793.8 L349.7,793.6 L350.8,794.1 L352.0,794.0 L353.1,795.1 L355.0,806.4 L356.3,809.4 L357.6,810.7 L358.9,813.9 L360.1,810.6 L361.4,807.8 L362.7,804.3 L364.7,813.9 L365.8,813.5 L367.0,813.4 L368.1,812.1 L369.3,811.1 L370.5,811.1 L371.7,808.5 L372.9,806.2 L374.1,803.2 L375.3,801.6 L376.6,802.3 L377.9,804.4 L379.2,806.2 L380.5,805.3 L381.7,804.0 L383.0,803.8 L385.0,805.3 L386.5,809.2 L387.9,812.6 L389.8,836.9 L391.1,837.2 L392.4,837.2 L393.7,837.0 L395.2,830.3 L396.6,823.7 L397.6,789.2 L399.0,785.8 L400.5,783.2 L401.9,787.4 L403.4,792.3 L404.3,781.1 L405.6,781.5 L406.9,782.3 L408.2,782.4 L408.6,799.7 L409.8,803.6 L410.9,807.9 L412.1,813.1 L414.0,817.3 L415.0,836.7 L416.3,839.5 L417.6,842.3 L418.8,845.5 L420.1,846.9 L421.3,848.6 L422.5,849.9 L423.7,851.2 L425.1,848.6 L426.6,845.7 L428.5,831.0 L429.8,829.2 L431.1,828.9 L432.4,828.7 L433.8,825.4 L435.3,823.0 L437.2,823.1 L439.1,839.3 L440.6,839.4 L442.0,840.1 L444.0,852.1 L445.2,853.0 L446.4,854.1 L447.6,855.2 L448.8,856.0 L450.0,857.5 L451.2,859.8 L452.4,861.1 L453.7,862.8 L455.1,861.4 L456.6,860.1 L457.5,879.7 L458.7,879.8 L459.9,879.2 L461.1,878.8 L462.4,879.0 L464.3,840.6 L465.7,845.4 L467.2,851.2 L468.6,854.3 L470.1,856.2 L471.3,855.1 L472.5,853.9 L473.7,852.7 L474.9,851.3 L476.1,851.9 L477.3,852.0 L478.6,853.5 L479.8,854.0 L481.0,855.6 L482.3,856.6 L483.6,858.0 L484.8,858.1 L485.9,856.7 L487.1,856.2 L488.3,855.9 L489.4,855.3 L490.6,854.9 L491.8,853.5 L493.1,853.0 L494.3,852.0 L495.7,858.7 L497.2,863.9 L498.5,866.6 L499.7,869.6 L501.0,873.7 L502.5,869.5 L503.9,865.9 L505.4,870.9 L506.8,876.1 L508.0,874.5 L509.2,873.7 L510.3,873.3 L511.5,872.7 L512.6,872.1 L513.8,874.2 L515.0,875.4 L516.1,877.0 L517.3,878.3 L518.4,880.9 L519.7,882.5 L521.0,884.3 L522.3,887.3 L523.5,888.5 L524.6,889.7 L525.8,890.9 L526.9,892.1 L528.1,893.3 L529.4,891.5 L530.7,889.5 L532.0,887.8 L533.3,883.0 L534.6,878.8 L535.8,874.2 L537.8,864.4 L539.1,864.2 L540.4,864.7 L541.6,864.2 L542.9,865.6 L544.2,868.0 L545.5,869.3 L546.8,870.1 L548.1,871.4 L549.4,872.8 L550.7,866.3 L552.0,859.1 L553.2,852.4 L554.7,853.6 L556.1,856.4 L557.1,867.6 L558.4,870.1 L559.7,871.1 L561.0,873.7 L562.1,873.9 L563.3,875.4 L564.5,876.5 L565.6,877.2 L566.8,877.4 L568.1,880.4 L569.4,884.1 L570.7,889.0 L571.9,891.6 L573.1,895.1 L574.3,898.4 L575.5,901.8 L576.9,895.8 L578.4,890.1 L579.5,892.5 L580.7,896.4 L581.9,898.8 L583.0,901.8 L584.2,904.6 L585.5,901.5 L586.8,898.3 L588.1,895.3 L589.3,896.9 L590.5,896.9 L591.7,898.4 L592.9,898.5 L594.1,897.5 L595.3,895.3 L596.5,894.5 L597.7,892.5 L598.9,890.5 L600.0,888.7 L601.2,886.2 L602.4,884.2 L603.5,883.1 L604.8,882.7 L606.1,882.7 L607.4,883.3 L608.7,885.4 L610.0,887.6 L611.3,890.0 L612.7,892.1 L614.2,894.1 L615.6,896.0 L617.1,897.5" fill="none" stroke="#2E7F6E" stroke-width="4.70" stroke-linejoin="round" stroke-linecap="round"/>
<path d="M157.7,930.9 L159.2,929.2 L160.6,928.6 L161.9,928.0 L163.2,926.6 L164.5,925.0 L165.5,909.7 L166.9,908.5 L168.4,907.8 L169.8,900.5 L171.3,892.3 L172.2,858.1 L173.5,860.7 L174.8,862.7 L176.1,864.9 L178.0,859.4 L180.0,876.5 L181.3,873.1 L182.6,870.1 L183.8,867.1 L185.3,867.9 L186.7,867.8 L188.2,854.7 L189.6,841.9 L191.6,825.0 L192.8,823.7 L194.0,822.7 L195.2,821.6 L196.4,820.2 L197.5,817.9 L198.5,817.0 L199.6,815.3 L200.7,813.4 L201.2,897.2 L202.5,896.6 L203.7,894.9 L204.9,893.3 L206.1,892.1 L207.2,891.6 L208.3,890.2 L209.5,889.2 L210.6,887.3 L211.7,886.1 L212.9,884.7 L214.1,891.7 L215.4,899.4 L216.5,895.1 L217.6,890.5 L218.7,887.2 L220.1,883.2 L221.6,878.9 L222.5,855.2 L223.8,853.8 L225.1,852.0 L226.4,849.6 L228.3,845.0 L229.6,849.6 L230.9,853.8 L232.2,857.7 L233.5,882.0 L234.7,881.0 L235.8,879.9 L236.9,878.2 L238.0,877.5 L239.4,878.9 L240.9,879.9 L242.8,870.4 L244.0,868.8 L245.1,868.0 L246.3,866.1 L247.5,864.6 L248.6,863.7 L250.1,857.5 L251.5,850.0 L252.8,849.1 L254.1,848.1 L255.4,847.7 L257.3,887.1 L258.6,884.8 L259.9,883.2 L261.2,881.1 L262.6,878.8 L264.1,875.6 L265.3,874.7 L266.5,873.0 L267.7,872.8 L268.9,871.4 L270.9,884.9 L272.3,885.0 L273.8,885.6 L275.2,874.7 L276.7,864.6 L278.1,858.6 L279.6,852.2 L281.0,860.3 L282.5,867.5 L283.9,865.3 L285.4,862.1 L287.3,845.2 L288.8,839.6 L290.2,832.9 L292.1,807.6 L293.6,807.0 L295.0,806.8 L297.0,818.7 L298.2,818.6 L299.4,818.1 L300.6,818.5 L301.8,817.7 L303.3,823.4 L304.7,828.5 L306.0,831.9 L307.3,835.3 L308.6,838.8 L309.9,838.6 L311.2,838.8 L312.4,838.8 L313.9,833.9 L315.3,827.6 L317.3,839.9 L318.5,838.7 L319.7,837.5 L320.9,836.6 L322.1,834.5 L323.3,831.9 L324.4,829.4 L325.6,827.5 L326.8,825.2 L327.9,822.9 L329.2,824.8 L330.5,826.1 L331.8,827.7 L333.1,828.6 L334.4,828.6 L335.7,829.7 L336.9,834.1 L338.1,838.3 L339.3,843.8 L340.5,848.0 L341.9,856.2 L343.4,865.0 L344.8,869.8 L346.3,875.5 L348.2,825.6 L349.5,826.0 L350.8,826.6 L352.1,827.6 L353.5,836.4 L355.0,845.0 L356.2,846.3 L357.4,847.1 L358.6,848.3 L359.8,850.1 L360.8,792.3 L362.0,792.8 L363.1,793.3 L364.3,793.8 L365.4,793.2 L366.6,792.8 L367.9,793.1 L369.2,792.8 L370.5,792.0 L371.6,792.3 L372.7,792.0 L373.8,791.7 L375.0,791.8 L376.1,792.0 L377.2,792.3 L378.7,794.6 L380.1,798.0 L381.4,800.1 L382.7,801.9 L384.0,804.1 L385.0,802.4 L386.9,822.9 L388.1,823.3 L389.3,824.0 L390.4,824.6 L391.6,825.1 L392.7,824.9 L394.2,826.5 L395.6,827.7 L396.6,892.8 L397.9,893.4 L399.2,894.6 L400.5,894.7 L401.8,890.4 L403.0,886.8 L404.3,882.9 L405.6,882.9 L406.9,883.8 L408.2,884.1 L410.1,890.1 L411.3,892.5 L412.5,894.0 L413.6,895.8 L414.8,897.8 L415.9,899.9 L417.1,900.0 L418.2,900.4 L419.3,901.2 L420.5,901.9 L421.6,902.1 L422.7,903.0 L423.7,922.1 L425.1,919.2 L426.6,916.0 L427.7,916.5 L428.8,916.7 L430.0,916.6 L431.1,917.0 L432.2,916.9 L433.3,917.7 L434.8,914.5 L436.2,911.6 L437.7,919.2 L439.1,926.1 L440.4,925.1 L441.7,923.7 L443.0,922.3 L444.1,921.5 L445.2,921.0 L446.3,919.5 L447.4,918.9 L448.5,917.7 L449.6,916.5 L450.8,916.2 L452.0,918.7 L453.2,921.4 L454.4,924.0 L455.6,926.2 L456.9,927.9 L458.2,929.6 L459.5,932.1 L460.9,933.0 L462.4,933.2 L463.6,931.1 L464.9,929.2 L466.2,927.5 L467.5,931.1 L468.8,933.5 L470.1,936.4 L472.0,951.9" fill="none" stroke="#9BBB59" stroke-width="4.60" stroke-linejoin="round" stroke-linecap="round"/>
<path d="M528.1,953.0 L529.3,948.6 L530.5,942.9 L531.7,937.7 L532.9,933.6 L534.9,895.4 L535.8,867.6 L537.0,864.3 L538.2,861.3 L539.3,858.1 L540.5,855.0 L541.6,852.0 L542.9,855.6 L544.2,859.1 L545.5,862.8 L546.8,867.3 L548.1,871.7 L549.4,876.8 L550.7,872.1 L552.0,866.7 L553.2,862.0 L554.5,865.1 L555.7,867.7 L556.9,870.5 L558.1,873.1 L559.3,873.3 L560.5,872.7 L561.7,871.6 L562.9,870.8 L564.1,873.3 L565.2,875.1 L566.4,877.4 L567.6,879.0 L568.7,881.4 L570.0,883.0 L571.3,883.5 L572.6,885.0 L573.9,883.0 L575.2,881.8 L576.5,880.6 L577.7,881.8 L579.0,882.2 L580.3,882.6 L582.3,894.6 L583.4,893.6 L584.6,892.0 L585.7,890.6 L586.9,889.8 L588.1,888.3 L589.2,888.7 L590.4,888.5 L591.5,888.3 L592.7,888.5 L593.9,888.7 L595.1,887.8 L596.4,885.8 L597.7,885.0 L598.9,883.1 L600.0,881.5 L601.2,880.3 L602.4,879.0 L603.5,877.5 L604.8,879.2 L606.1,879.9 L607.4,881.0 L609.3,883.2 L610.3,923.5 L611.6,925.1 L612.9,926.9 L614.2,929.4 L616.1,939.5 L616.5,953.2" fill="none" stroke="#9BBB59" stroke-width="4.60" stroke-linejoin="round" stroke-linecap="round"/>
</g>
<line x1="157.7" y1="748.7" x2="157.7" y2="954.4" stroke="#868686" stroke-width="1.3"/>
<line x1="157.7" y1="949.4" x2="617.0" y2="949.4" stroke="#868686" stroke-width="1.3"/>
<line x1="157.7" y1="949.4" x2="157.7" y2="954.4" stroke="#868686" stroke-width="1.3"/>
<line x1="187.0" y1="949.4" x2="187.0" y2="954.4" stroke="#868686" stroke-width="1.3"/>
<line x1="216.2" y1="949.4" x2="216.2" y2="954.4" stroke="#868686" stroke-width="1.3"/>
<line x1="245.5" y1="949.4" x2="245.5" y2="954.4" stroke="#868686" stroke-width="1.3"/>
<line x1="274.8" y1="949.4" x2="274.8" y2="954.4" stroke="#868686" stroke-width="1.3"/>
<line x1="304.0" y1="949.4" x2="304.0" y2="954.4" stroke="#868686" stroke-width="1.3"/>
<line x1="333.3" y1="949.4" x2="333.3" y2="954.4" stroke="#868686" stroke-width="1.3"/>
<line x1="362.6" y1="949.4" x2="362.6" y2="954.4" stroke="#868686" stroke-width="1.3"/>
<line x1="391.9" y1="949.4" x2="391.9" y2="954.4" stroke="#868686" stroke-width="1.3"/>
<line x1="421.1" y1="949.4" x2="421.1" y2="954.4" stroke="#868686" stroke-width="1.3"/>
<line x1="450.4" y1="949.4" x2="450.4" y2="954.4" stroke="#868686" stroke-width="1.3"/>
<line x1="479.7" y1="949.4" x2="479.7" y2="954.4" stroke="#868686" stroke-width="1.3"/>
<line x1="508.9" y1="949.4" x2="508.9" y2="954.4" stroke="#868686" stroke-width="1.3"/>
<line x1="538.2" y1="949.4" x2="538.2" y2="954.4" stroke="#868686" stroke-width="1.3"/>
<line x1="567.5" y1="949.4" x2="567.5" y2="954.4" stroke="#868686" stroke-width="1.3"/>
<line x1="596.8" y1="949.4" x2="596.8" y2="954.4" stroke="#868686" stroke-width="1.3"/>
<text x="146.0" y="753.9" font-size="15" text-anchor="end" font-family='"Liberation Sans","Noto Sans CJK SC",sans-serif' font-weight="normal" fill="#1c1c1c" textLength="23.5" lengthAdjust="spacingAndGlyphs" >500</text>
<text x="146.0" y="779.0" font-size="15" text-anchor="end" font-family='"Liberation Sans","Noto Sans CJK SC",sans-serif' font-weight="normal" fill="#1c1c1c" textLength="23.5" lengthAdjust="spacingAndGlyphs" >450</text>
<text x="146.0" y="804.1" font-size="15" text-anchor="end" font-family='"Liberation Sans","Noto Sans CJK SC",sans-serif' font-weight="normal" fill="#1c1c1c" textLength="23.5" lengthAdjust="spacingAndGlyphs" >400</text>
<text x="146.0" y="829.2" font-size="15" text-anchor="end" font-family='"Liberation Sans","Noto Sans CJK SC",sans-serif' font-weight="normal" fill="#1c1c1c" textLength="23.5" lengthAdjust="spacingAndGlyphs" >350</text>
<text x="146.0" y="854.2" font-size="15" text-anchor="end" font-family='"Liberation Sans","Noto Sans CJK SC",sans-serif' font-weight="normal" fill="#1c1c1c" textLength="23.5" lengthAdjust="spacingAndGlyphs" >300</text>
<text x="146.0" y="879.3" font-size="15" text-anchor="end" font-family='"Liberation Sans","Noto Sans CJK SC",sans-serif' font-weight="normal" fill="#1c1c1c" textLength="23.5" lengthAdjust="spacingAndGlyphs" >250</text>
<text x="146.0" y="904.4" font-size="15" text-anchor="end" font-family='"Liberation Sans","Noto Sans CJK SC",sans-serif' font-weight="normal" fill="#1c1c1c" textLength="23.5" lengthAdjust="spacingAndGlyphs" >200</text>
<text x="146.0" y="929.5" font-size="15" text-anchor="end" font-family='"Liberation Sans","Noto Sans CJK SC",sans-serif' font-weight="normal" fill="#1c1c1c" textLength="23.5" lengthAdjust="spacingAndGlyphs" >150</text>
<text x="146.0" y="954.6" font-size="15" text-anchor="end" font-family='"Liberation Sans","Noto Sans CJK SC",sans-serif' font-weight="normal" fill="#1c1c1c" textLength="23.5" lengthAdjust="spacingAndGlyphs" >100</text>
<text x="163.4" y="961.0" font-size="14.2" text-anchor="end" font-family='"Liberation Sans","Noto Sans CJK SC",sans-serif' font-weight="normal" fill="#1c1c1c" textLength="65.3" lengthAdjust="spacingAndGlyphs" transform="rotate(-90 163.4 961.0)" >2021/6/1</text>
<text x="192.7" y="961.0" font-size="14.2" text-anchor="end" font-family='"Liberation Sans","Noto Sans CJK SC",sans-serif' font-weight="normal" fill="#1c1c1c" textLength="65.3" lengthAdjust="spacingAndGlyphs" transform="rotate(-90 192.7 961.0)" >2021/8/1</text>
<text x="221.9" y="961.0" font-size="14.2" text-anchor="end" font-family='"Liberation Sans","Noto Sans CJK SC",sans-serif' font-weight="normal" fill="#1c1c1c" textLength="74.2" lengthAdjust="spacingAndGlyphs" transform="rotate(-90 221.9 961.0)" >2021/10/1</text>
<text x="251.2" y="961.0" font-size="14.2" text-anchor="end" font-family='"Liberation Sans","Noto Sans CJK SC",sans-serif' font-weight="normal" fill="#1c1c1c" textLength="74.2" lengthAdjust="spacingAndGlyphs" transform="rotate(-90 251.2 961.0)" >2021/12/1</text>
<text x="280.5" y="961.0" font-size="14.2" text-anchor="end" font-family='"Liberation Sans","Noto Sans CJK SC",sans-serif' font-weight="normal" fill="#1c1c1c" textLength="65.3" lengthAdjust="spacingAndGlyphs" transform="rotate(-90 280.5 961.0)" >2022/2/1</text>
<text x="309.7" y="961.0" font-size="14.2" text-anchor="end" font-family='"Liberation Sans","Noto Sans CJK SC",sans-serif' font-weight="normal" fill="#1c1c1c" textLength="65.3" lengthAdjust="spacingAndGlyphs" transform="rotate(-90 309.7 961.0)" >2022/4/1</text>
<text x="339.0" y="961.0" font-size="14.2" text-anchor="end" font-family='"Liberation Sans","Noto Sans CJK SC",sans-serif' font-weight="normal" fill="#1c1c1c" textLength="65.3" lengthAdjust="spacingAndGlyphs" transform="rotate(-90 339.0 961.0)" >2022/6/1</text>
<text x="368.3" y="961.0" font-size="14.2" text-anchor="end" font-family='"Liberation Sans","Noto Sans CJK SC",sans-serif' font-weight="normal" fill="#1c1c1c" textLength="65.3" lengthAdjust="spacingAndGlyphs" transform="rotate(-90 368.3 961.0)" >2022/8/1</text>
<text x="397.6" y="961.0" font-size="14.2" text-anchor="end" font-family='"Liberation Sans","Noto Sans CJK SC",sans-serif' font-weight="normal" fill="#1c1c1c" textLength="74.2" lengthAdjust="spacingAndGlyphs" transform="rotate(-90 397.6 961.0)" >2022/10/1</text>
<text x="426.8" y="961.0" font-size="14.2" text-anchor="end" font-family='"Liberation Sans","Noto Sans CJK SC",sans-serif' font-weight="normal" fill="#1c1c1c" textLength="74.2" lengthAdjust="spacingAndGlyphs" transform="rotate(-90 426.8 961.0)" >2022/12/1</text>
<text x="456.1" y="961.0" font-size="14.2" text-anchor="end" font-family='"Liberation Sans","Noto Sans CJK SC",sans-serif' font-weight="normal" fill="#1c1c1c" textLength="65.3" lengthAdjust="spacingAndGlyphs" transform="rotate(-90 456.1 961.0)" >2023/2/1</text>
<text x="485.4" y="961.0" font-size="14.2" text-anchor="end" font-family='"Liberation Sans","Noto Sans CJK SC",sans-serif' font-weight="normal" fill="#1c1c1c" textLength="65.3" lengthAdjust="spacingAndGlyphs" transform="rotate(-90 485.4 961.0)" >2023/4/1</text>
<text x="514.6" y="961.0" font-size="14.2" text-anchor="end" font-family='"Liberation Sans","Noto Sans CJK SC",sans-serif' font-weight="normal" fill="#1c1c1c" textLength="65.3" lengthAdjust="spacingAndGlyphs" transform="rotate(-90 514.6 961.0)" >2023/6/1</text>
<text x="543.9" y="961.0" font-size="14.2" text-anchor="end" font-family='"Liberation Sans","Noto Sans CJK SC",sans-serif' font-weight="normal" fill="#1c1c1c" textLength="65.3" lengthAdjust="spacingAndGlyphs" transform="rotate(-90 543.9 961.0)" >2023/8/1</text>
<text x="573.2" y="961.0" font-size="14.2" text-anchor="end" font-family='"Liberation Sans","Noto Sans CJK SC",sans-serif' font-weight="normal" fill="#1c1c1c" textLength="74.2" lengthAdjust="spacingAndGlyphs" transform="rotate(-90 573.2 961.0)" >2023/10/1</text>
<text x="602.5" y="961.0" font-size="14.2" text-anchor="end" font-family='"Liberation Sans","Noto Sans CJK SC",sans-serif' font-weight="normal" fill="#1c1c1c" textLength="74.2" lengthAdjust="spacingAndGlyphs" transform="rotate(-90 602.5 961.0)" >2023/12/1</text>
<line x1="138.0" y1="707.6" x2="165.0" y2="707.6" stroke="#FDB813" stroke-width="5" stroke-linecap="round"/>
<text x="169.6" y="713.0" font-size="14.5" text-anchor="start" font-family='"Liberation Sans","Noto Sans CJK SC",sans-serif' font-weight="normal" fill="#1c1c1c" textLength="100.0" lengthAdjust="spacingAndGlyphs" >升贴水:墨西哥湾</text>
<line x1="298.3" y1="707.6" x2="324.0" y2="707.6" stroke="#2E7F6E" stroke-width="5" stroke-linecap="round"/>
<text x="328.0" y="713.0" font-size="14.5" text-anchor="start" font-family='"Liberation Sans","Noto Sans CJK SC",sans-serif' font-weight="normal" fill="#1c1c1c" textLength="100.0" lengthAdjust="spacingAndGlyphs" >升贴水:美国西岸</text>
<line x1="457.0" y1="707.6" x2="483.0" y2="707.6" stroke="#9BBB59" stroke-width="5" stroke-linecap="round"/>
<text x="487.0" y="713.0" font-size="14.5" text-anchor="start" font-family='"Liberation Sans","Noto Sans CJK SC",sans-serif' font-weight="normal" fill="#1c1c1c" textLength="100.0" lengthAdjust="spacingAndGlyphs" >升贴水:南美港口</text>
<text x="111.0" y="734.3" font-size="12.5" text-anchor="start" font-family='"Liberation Sans","Noto Sans CJK SC",sans-serif' font-weight="bold" fill="#1c1c1c" textLength="60.5" lengthAdjust="spacingAndGlyphs" >美分/蒲式耳</text>
<line x1="671.2" y1="726.0" x2="1138.8" y2="726.0" stroke="#868686" stroke-width="1.3"/>
<line x1="671.2" y1="751.9" x2="1138.8" y2="751.9" stroke="#868686" stroke-width="1.3"/>
<line x1="671.2" y1="777.7" x2="1138.8" y2="777.7" stroke="#868686" stroke-width="1.3"/>
<line x1="671.2" y1="803.5" x2="1138.8" y2="803.5" stroke="#868686" stroke-width="1.3"/>
<line x1="671.2" y1="829.4" x2="1138.8" y2="829.4" stroke="#868686" stroke-width="1.3"/>
<line x1="671.2" y1="855.2" x2="1138.8" y2="855.2" stroke="#868686" stroke-width="1.3"/>
<line x1="671.2" y1="881.1" x2="1138.8" y2="881.1" stroke="#868686" stroke-width="1.3"/>
<line x1="671.2" y1="906.9" x2="1138.8" y2="906.9" stroke="#868686" stroke-width="1.3"/>
<line x1="671.2" y1="932.8" x2="1138.8" y2="932.8" stroke="#868686" stroke-width="1.3"/>
<path d="M680.8,825.5 L690.1,820.4 L699.3,820.4 L708.6,815.2 L717.8,822.9 L727.1,843.6 L736.3,847.5 L745.6,835.9 L754.8,829.4 L764.1,826.2 L773.3,828.1 L782.6,830.7 L791.9,810.7 L801.1,797.1 L810.4,785.5 L819.6,788.0 L828.9,788.0 L838.1,810.7 L847.4,798.4 L856.6,788.0 L865.9,795.8 L875.1,784.2 L884.4,776.4 L893.6,777.7 L902.9,771.6 L912.1,771.6 L921.4,771.6 L930.6,778.3 L939.9,785.5 L949.1,778.3 L958.4,782.9 L967.6,758.3 L976.9,801.4 L986.1,813.9 L995.4,820.4 L1004.6,834.8 L1013.9,837.2 L1023.1,822.3 L1032.4,810.0 L1041.7,811.8 L1050.9,782.9 L1060.2,795.1 L1069.4,805.5 L1078.7,803.5 L1087.9,802.3 L1097.2,802.3 L1106.4,804.8 L1115.7,806.1 L1124.9,799.7 L1134.2,805.1" fill="none" stroke="#3B6BA5" stroke-width="4.00" stroke-linejoin="round" stroke-linecap="round"/>
<path d="M680.8,777.7 L690.1,803.5 L699.3,766.1 L708.6,854.3 L717.8,841.0 L727.1,835.9 L736.3,841.7 L745.6,846.6 L754.8,848.8 L764.1,849.4 L773.3,848.8 L782.6,846.6 L791.9,846.6 L801.1,864.9 L810.4,857.2 L819.6,861.1 L828.9,861.1 L838.1,855.2 L847.4,850.1 L856.6,844.9 L865.9,838.4 L875.1,833.3 L884.4,826.8 L893.6,825.5 L902.9,824.2 L912.1,819.1 L921.4,823.3 L930.6,822.3 L939.9,819.1 L949.1,820.4 L958.4,839.0 L967.6,829.7 L976.9,828.6 L986.1,833.8 L995.4,831.7 L1004.6,841.0 L1013.9,855.8 L1023.1,860.4 L1032.4,853.7 L1041.7,862.1 L1050.9,870.4 L1060.2,878.8 L1069.4,888.6 L1078.7,877.7 L1087.9,872.1 L1097.2,873.0 L1106.4,874.6 L1115.7,871.5 L1124.9,869.5 L1134.2,863.0" fill="none" stroke="#3DB3A0" stroke-width="4.00" stroke-linejoin="round" stroke-linecap="round"/>
<path d="M680.8,851.4 L690.1,854.3 L699.3,868.2 L708.6,886.3 L717.8,888.2 L727.1,886.3 L736.3,885.0 L745.6,868.8 L754.8,864.9 L764.1,880.5 L773.3,889.2 L782.6,897.9 L791.9,907.6 L801.1,910.8 L810.4,913.4 L819.6,909.5 L828.9,907.6 L838.1,893.1 L847.4,885.4 L856.6,864.3 L865.9,846.6 L875.1,835.0 L884.4,823.3 L893.6,811.7 L902.9,799.7 L912.1,799.3 L921.4,810.0 L930.6,810.8 L939.9,813.9 L949.1,817.1 L958.4,807.4 L967.6,791.9 L976.9,780.3 L986.1,777.7 L995.4,782.1 L1004.6,790.6 L1013.9,798.4 L1023.1,800.3 L1032.4,808.7 L1041.7,816.5 L1050.9,810.8 L1060.2,817.1 L1069.4,818.5 L1078.7,811.8 L1087.9,798.4 L1097.2,805.5 L1106.4,813.5 L1115.7,812.2 L1124.9,817.1 L1134.2,819.8" fill="none" stroke="#7FA848" stroke-width="4.00" stroke-linejoin="round" stroke-linecap="round"/>
<path d="M680.8,825.5 L690.1,821.6 L699.3,827.2 L708.6,845.6 L717.8,869.9 L727.1,874.6 L736.3,866.0 L745.6,846.6 L754.8,838.8 L764.1,833.9 L773.3,816.5 L782.6,825.5 L791.9,831.1 L801.1,835.0 L810.4,825.5 L819.6,837.2 L828.9,846.6 L838.1,848.8 L847.4,852.7 L856.6,838.8 L865.9,846.6 L875.1,847.5 L884.4,842.7 L893.6,827.2 L902.9,818.2 L912.1,795.1 L921.4,785.7 L930.6,780.3 L939.9,777.7 L949.1,786.7 L958.4,808.7 L967.6,819.1 L976.9,815.2 L986.1,807.4 L995.4,811.8 L1004.6,817.1 L1013.9,828.6 L1023.1,834.8 L1032.4,852.7 L1041.7,859.9 L1050.9,869.5 L1060.2,873.6 L1069.4,859.9 L1078.7,857.8 L1087.9,864.3 L1097.2,861.1 L1106.4,851.6 L1115.7,862.1 L1124.9,865.2 L1134.2,856.2" fill="none" stroke="#6F4E9C" stroke-width="4.00" stroke-linejoin="round" stroke-linecap="round"/>
<path d="M680.8,863.0 L690.1,869.9 L699.3,887.6 L708.6,897.9 L717.8,897.9 L727.1,891.4 L736.3,892.1 L745.6,893.1 L754.8,893.1 L764.1,892.1 L773.3,892.1 L782.6,892.1 L791.9,891.4 L801.1,889.2 L810.4,893.1 L819.6,887.6 L828.9,885.4 L838.1,869.9 L847.4,862.1 L856.6,838.8 L865.9,817.8 L875.1,803.5 L884.4,792.3 L893.6,792.3 L902.9,788.8 L912.1,793.2 L921.4,796.2 L930.6,794.0 L939.9,805.5 L949.1,810.8 L958.4,814.9 L967.6,840.1 L976.9,837.9 L986.1,845.3 L995.4,847.9 L1004.6,849.0 L1013.9,871.5 L1023.1,881.9 L1032.4,889.2 L1041.7,894.5 L1050.9,899.7 L1060.2,902.8 L1069.4,906.9 L1078.7,910.6 L1087.9,911.9 L1097.2,906.0 L1106.4,896.0 L1115.7,892.3 L1124.9,885.0 L1134.2,868.2" fill="none" stroke="#FAA20C" stroke-width="4.00" stroke-linejoin="round" stroke-linecap="round"/>
<path d="M680.8,861.1 L690.1,857.2 L699.3,870.8 L708.6,864.9 L717.8,873.7 L727.1,854.3 L736.3,852.7 L745.6,849.4 L754.8,859.1 L764.1,866.0 L773.3,861.1 L782.6,868.8 L791.9,889.2 L801.1,895.3 L810.4,899.2 L819.6,891.4 L828.9,901.8 L838.1,894.0 L847.4,905.7 L856.6,904.8 L865.9,897.0 L875.1,869.9 L884.4,866.0 L893.6,862.1 L902.9,842.3 L912.1,835.9 L921.4,847.5 L930.6,848.4 L939.9,836.9 L949.1,817.1 L958.4,816.0 L967.6,830.7 L976.9,831.7 L986.1,833.8 L995.4,829.7 L1004.6,832.8 L1013.9,831.7 L1023.1,824.4 L1032.4,825.5 L1041.7,839.5 L1050.9,841.0 L1060.2,845.3 L1069.4,854.1 L1078.7,849.4 L1087.9,856.2 L1097.2,856.2 L1106.4,843.6 L1115.7,837.9 L1124.9,831.7 L1134.2,826.8" fill="none" stroke="#D0803C" stroke-width="4.00" stroke-linejoin="round" stroke-linecap="round"/>
<path d="M680.8,825.5 L690.1,820.4 L699.3,815.2 L708.6,814.5 L717.8,820.4 L727.1,838.8" fill="none" stroke="#8FA8D6" stroke-width="4.00" stroke-linejoin="round" stroke-linecap="round"/>
<line x1="676.2" y1="726.0" x2="676.2" y2="937.8" stroke="#868686" stroke-width="1.3"/>
<line x1="676.2" y1="932.8" x2="1138.8" y2="932.8" stroke="#868686" stroke-width="1.3"/>
<line x1="676.2" y1="932.8" x2="676.2" y2="937.8" stroke="#868686" stroke-width="1.3"/>
<line x1="685.5" y1="932.8" x2="685.5" y2="937.8" stroke="#868686" stroke-width="1.3"/>
<line x1="694.7" y1="932.8" x2="694.7" y2="937.8" stroke="#868686" stroke-width="1.3"/>
<line x1="704.0" y1="932.8" x2="704.0" y2="937.8" stroke="#868686" stroke-width="1.3"/>
<line x1="713.2" y1="932.8" x2="713.2" y2="937.8" stroke="#868686" stroke-width="1.3"/>
<line x1="722.5" y1="932.8" x2="722.5" y2="937.8" stroke="#868686" stroke-width="1.3"/>
<line x1="731.7" y1="932.8" x2="731.7" y2="937.8" stroke="#868686" stroke-width="1.3"/>
<line x1="741.0" y1="932.8" x2="741.0" y2="937.8" stroke="#868686" stroke-width="1.3"/>
<line x1="750.2" y1="932.8" x2="750.2" y2="937.8" stroke="#868686" stroke-width="1.3"/>
<line x1="759.5" y1="932.8" x2="759.5" y2="937.8" stroke="#868686" stroke-width="1.3"/>
<line x1="768.7" y1="932.8" x2="768.7" y2="937.8" stroke="#868686" stroke-width="1.3"/>
<line x1="778.0" y1="932.8" x2="778.0" y2="937.8" stroke="#868686" stroke-width="1.3"/>
<line x1="787.2" y1="932.8" x2="787.2" y2="937.8" stroke="#868686" stroke-width="1.3"/>
<line x1="796.5" y1="932.8" x2="796.5" y2="937.8" stroke="#868686" stroke-width="1.3"/>
<line x1="805.7" y1="932.8" x2="805.7" y2="937.8" stroke="#868686" stroke-width="1.3"/>
<line x1="815.0" y1="932.8" x2="815.0" y2="937.8" stroke="#868686" stroke-width="1.3"/>
<line x1="824.2" y1="932.8" x2="824.2" y2="937.8" stroke="#868686" stroke-width="1.3"/>
<line x1="833.5" y1="932.8" x2="833.5" y2="937.8" stroke="#868686" stroke-width="1.3"/>
<line x1="842.7" y1="932.8" x2="842.7" y2="937.8" stroke="#868686" stroke-width="1.3"/>
<line x1="852.0" y1="932.8" x2="852.0" y2="937.8" stroke="#868686" stroke-width="1.3"/>
<line x1="861.2" y1="932.8" x2="861.2" y2="937.8" stroke="#868686" stroke-width="1.3"/>
<line x1="870.5" y1="932.8" x2="870.5" y2="937.8" stroke="#868686" stroke-width="1.3"/>
<line x1="879.7" y1="932.8" x2="879.7" y2="937.8" stroke="#868686" stroke-width="1.3"/>
<line x1="889.0" y1="932.8" x2="889.0" y2="937.8" stroke="#868686" stroke-width="1.3"/>
<line x1="898.2" y1="932.8" x2="898.2" y2="937.8" stroke="#868686" stroke-width="1.3"/>
<line x1="907.5" y1="932.8" x2="907.5" y2="937.8" stroke="#868686" stroke-width="1.3"/>
<line x1="916.8" y1="932.8" x2="916.8" y2="937.8" stroke="#868686" stroke-width="1.3"/>
<line x1="926.0" y1="932.8" x2="926.0" y2="937.8" stroke="#868686" stroke-width="1.3"/>
<line x1="935.3" y1="932.8" x2="935.3" y2="937.8" stroke="#868686" stroke-width="1.3"/>
<line x1="944.5" y1="932.8" x2="944.5" y2="937.8" stroke="#868686" stroke-width="1.3"/>
<line x1="953.8" y1="932.8" x2="953.8" y2="937.8" stroke="#868686" stroke-width="1.3"/>
<line x1="963.0" y1="932.8" x2="963.0" y2="937.8" stroke="#868686" stroke-width="1.3"/>
<line x1="972.3" y1="932.8" x2="972.3" y2="937.8" stroke="#868686" stroke-width="1.3"/>
<line x1="981.5" y1="932.8" x2="981.5" y2="937.8" stroke="#868686" stroke-width="1.3"/>
<line x1="990.8" y1="932.8" x2="990.8" y2="937.8" stroke="#868686" stroke-width="1.3"/>
<line x1="1000.0" y1="932.8" x2="1000.0" y2="937.8" stroke="#868686" stroke-width="1.3"/>
<line x1="1009.3" y1="932.8" x2="1009.3" y2="937.8" stroke="#868686" stroke-width="1.3"/>
<line x1="1018.5" y1="932.8" x2="1018.5" y2="937.8" stroke="#868686" stroke-width="1.3"/>
<line x1="1027.8" y1="932.8" x2="1027.8" y2="937.8" stroke="#868686" stroke-width="1.3"/>
<line x1="1037.0" y1="932.8" x2="1037.0" y2="937.8" stroke="#868686" stroke-width="1.3"/>
<line x1="1046.3" y1="932.8" x2="1046.3" y2="937.8" stroke="#868686" stroke-width="1.3"/>
<line x1="1055.5" y1="932.8" x2="1055.5" y2="937.8" stroke="#868686" stroke-width="1.3"/>
<line x1="1064.8" y1="932.8" x2="1064.8" y2="937.8" stroke="#868686" stroke-width="1.3"/>
<line x1="1074.0" y1="932.8" x2="1074.0" y2="937.8" stroke="#868686" stroke-width="1.3"/>
<line x1="1083.3" y1="932.8" x2="1083.3" y2="937.8" stroke="#868686" stroke-width="1.3"/>
<line x1="1092.5" y1="932.8" x2="1092.5" y2="937.8" stroke="#868686" stroke-width="1.3"/>
<line x1="1101.8" y1="932.8" x2="1101.8" y2="937.8" stroke="#868686" stroke-width="1.3"/>
<line x1="1111.0" y1="932.8" x2="1111.0" y2="937.8" stroke="#868686" stroke-width="1.3"/>
<line x1="1120.3" y1="932.8" x2="1120.3" y2="937.8" stroke="#868686" stroke-width="1.3"/>
<line x1="1129.5" y1="932.8" x2="1129.5" y2="937.8" stroke="#868686" stroke-width="1.3"/>
<line x1="1138.8" y1="932.8" x2="1138.8" y2="937.8" stroke="#868686" stroke-width="1.3"/>
<text x="664.5" y="731.2" font-size="15" text-anchor="end" font-family='"Liberation Sans","Noto Sans CJK SC",sans-serif' font-weight="normal" fill="#1c1c1c" textLength="23.6" lengthAdjust="spacingAndGlyphs" >160</text>
<text x="664.5" y="757.1" font-size="15" text-anchor="end" font-family='"Liberation Sans","Noto Sans CJK SC",sans-serif' font-weight="normal" fill="#1c1c1c" textLength="23.6" lengthAdjust="spacingAndGlyphs" >140</text>
<text x="664.5" y="782.9" font-size="15" text-anchor="end" font-family='"Liberation Sans","Noto Sans CJK SC",sans-serif' font-weight="normal" fill="#1c1c1c" textLength="23.6" lengthAdjust="spacingAndGlyphs" >120</text>
<text x="664.5" y="808.8" font-size="15" text-anchor="end" font-family='"Liberation Sans","Noto Sans CJK SC",sans-serif' font-weight="normal" fill="#1c1c1c" textLength="23.6" lengthAdjust="spacingAndGlyphs" >100</text>
<text x="664.5" y="834.6" font-size="15" text-anchor="end" font-family='"Liberation Sans","Noto Sans CJK SC",sans-serif' font-weight="normal" fill="#1c1c1c" textLength="15.8" lengthAdjust="spacingAndGlyphs" >80</text>
<text x="664.5" y="860.5" font-size="15" text-anchor="end" font-family='"Liberation Sans","Noto Sans CJK SC",sans-serif' font-weight="normal" fill="#1c1c1c" textLength="15.8" lengthAdjust="spacingAndGlyphs" >60</text>
<text x="664.5" y="886.3" font-size="15" text-anchor="end" font-family='"Liberation Sans","Noto Sans CJK SC",sans-serif' font-weight="normal" fill="#1c1c1c" textLength="15.8" lengthAdjust="spacingAndGlyphs" >40</text>
<text x="664.5" y="912.1" font-size="15" text-anchor="end" font-family='"Liberation Sans","Noto Sans CJK SC",sans-serif' font-weight="normal" fill="#1c1c1c" textLength="15.8" lengthAdjust="spacingAndGlyphs" >20</text>
<text x="664.5" y="938.0" font-size="15" text-anchor="end" font-family='"Liberation Sans","Noto Sans CJK SC",sans-serif' font-weight="normal" fill="#1c1c1c" textLength="7.5" lengthAdjust="spacingAndGlyphs" >0</text>
<text x="686.0" y="943.3" font-size="14" text-anchor="end" font-family='"Liberation Sans","Noto Sans CJK SC",sans-serif' font-weight="normal" fill="#1c1c1c" textLength="40.0" lengthAdjust="spacingAndGlyphs" transform="rotate(-90 686.0 943.3)" >01/02</text>
<text x="704.5" y="943.3" font-size="14" text-anchor="end" font-family='"Liberation Sans","Noto Sans CJK SC",sans-serif' font-weight="normal" fill="#1c1c1c" textLength="40.0" lengthAdjust="spacingAndGlyphs" transform="rotate(-90 704.5 943.3)" >01/16</text>
<text x="723.0" y="943.3" font-size="14" text-anchor="end" font-family='"Liberation Sans","Noto Sans CJK SC",sans-serif' font-weight="normal" fill="#1c1c1c" textLength="40.0" lengthAdjust="spacingAndGlyphs" transform="rotate(-90 723.0 943.3)" >02/13</text>
<text x="741.5" y="943.3" font-size="14" text-anchor="end" font-family='"Liberation Sans","Noto Sans CJK SC",sans-serif' font-weight="normal" fill="#1c1c1c" textLength="40.0" lengthAdjust="spacingAndGlyphs" transform="rotate(-90 741.5 943.3)" >02/27</text>
<text x="760.0" y="943.3" font-size="14" text-anchor="end" font-family='"Liberation Sans","Noto Sans CJK SC",sans-serif' font-weight="normal" fill="#1c1c1c" textLength="40.0" lengthAdjust="spacingAndGlyphs" transform="rotate(-90 760.0 943.3)" >03/13</text>
<text x="778.5" y="943.3" font-size="14" text-anchor="end" font-family='"Liberation Sans","Noto Sans CJK SC",sans-serif' font-weight="normal" fill="#1c1c1c" textLength="40.0" lengthAdjust="spacingAndGlyphs" transform="rotate(-90 778.5 943.3)" >03/27</text>
<text x="797.1" y="943.3" font-size="14" text-anchor="end" font-family='"Liberation Sans","Noto Sans CJK SC",sans-serif' font-weight="normal" fill="#1c1c1c" textLength="40.0" lengthAdjust="spacingAndGlyphs" transform="rotate(-90 797.1 943.3)" >04/04</text>
<text x="815.6" y="943.3" font-size="14" text-anchor="end" font-family='"Liberation Sans","Noto Sans CJK SC",sans-serif' font-weight="normal" fill="#1c1c1c" textLength="40.0" lengthAdjust="spacingAndGlyphs" transform="rotate(-90 815.6 943.3)" >04/18</text>
<text x="834.1" y="943.3" font-size="14" text-anchor="end" font-family='"Liberation Sans","Noto Sans CJK SC",sans-serif' font-weight="normal" fill="#1c1c1c" textLength="40.0" lengthAdjust="spacingAndGlyphs" transform="rotate(-90 834.1 943.3)" >05/02</text>
<text x="852.6" y="943.3" font-size="14" text-anchor="end" font-family='"Liberation Sans","Noto Sans CJK SC",sans-serif' font-weight="normal" fill="#1c1c1c" textLength="40.0" lengthAdjust="spacingAndGlyphs" transform="rotate(-90 852.6 943.3)" >05/16</text>
<text x="871.1" y="943.3" font-size="14" text-anchor="end" font-family='"Liberation Sans","Noto Sans CJK SC",sans-serif' font-weight="normal" fill="#1c1c1c" textLength="40.0" lengthAdjust="spacingAndGlyphs" transform="rotate(-90 871.1 943.3)" >05/30</text>
<text x="889.6" y="943.3" font-size="14" text-anchor="end" font-family='"Liberation Sans","Noto Sans CJK SC",sans-serif' font-weight="normal" fill="#1c1c1c" textLength="40.0" lengthAdjust="spacingAndGlyphs" transform="rotate(-90 889.6 943.3)" >06/13</text>
<text x="908.1" y="943.3" font-size="14" text-anchor="end" font-family='"Liberation Sans","Noto Sans CJK SC",sans-serif' font-weight="normal" fill="#1c1c1c" textLength="40.0" lengthAdjust="spacingAndGlyphs" transform="rotate(-90 908.1 943.3)" >06/27</text>
<text x="926.6" y="943.3" font-size="14" text-anchor="end" font-family='"Liberation Sans","Noto Sans CJK SC",sans-serif' font-weight="normal" fill="#1c1c1c" textLength="40.0" lengthAdjust="spacingAndGlyphs" transform="rotate(-90 926.6 943.3)" >07/11</text>
<text x="945.1" y="943.3" font-size="14" text-anchor="end" font-family='"Liberation Sans","Noto Sans CJK SC",sans-serif' font-weight="normal" fill="#1c1c1c" textLength="40.0" lengthAdjust="spacingAndGlyphs" transform="rotate(-90 945.1 943.3)" >07/25</text>
<text x="963.6" y="943.3" font-size="14" text-anchor="end" font-family='"Liberation Sans","Noto Sans CJK SC",sans-serif' font-weight="normal" fill="#1c1c1c" textLength="40.0" lengthAdjust="spacingAndGlyphs" transform="rotate(-90 963.6 943.3)" >08/08</text>
<text x="982.1" y="943.3" font-size="14" text-anchor="end" font-family='"Liberation Sans","Noto Sans CJK SC",sans-serif' font-weight="normal" fill="#1c1c1c" textLength="40.0" lengthAdjust="spacingAndGlyphs" transform="rotate(-90 982.1 943.3)" >08/22</text>
<text x="1000.6" y="943.3" font-size="14" text-anchor="end" font-family='"Liberation Sans","Noto Sans CJK SC",sans-serif' font-weight="normal" fill="#1c1c1c" textLength="40.0" lengthAdjust="spacingAndGlyphs" transform="rotate(-90 1000.6 943.3)" >09/05</text>
<text x="1019.1" y="943.3" font-size="14" text-anchor="end" font-family='"Liberation Sans","Noto Sans CJK SC",sans-serif' font-weight="normal" fill="#1c1c1c" textLength="40.0" lengthAdjust="spacingAndGlyphs" transform="rotate(-90 1019.1 943.3)" >09/19</text>
<text x="1037.6" y="943.3" font-size="14" text-anchor="end" font-family='"Liberation Sans","Noto Sans CJK SC",sans-serif' font-weight="normal" fill="#1c1c1c" textLength="40.0" lengthAdjust="spacingAndGlyphs" transform="rotate(-90 1037.6 943.3)" >10/10</text>
<text x="1056.1" y="943.3" font-size="14" text-anchor="end" font-family='"Liberation Sans","Noto Sans CJK SC",sans-serif' font-weight="normal" fill="#1c1c1c" textLength="40.0" lengthAdjust="spacingAndGlyphs" transform="rotate(-90 1056.1 943.3)" >10/24</text>
<text x="1074.6" y="943.3" font-size="14" text-anchor="end" font-family='"Liberation Sans","Noto Sans CJK SC",sans-serif' font-weight="normal" fill="#1c1c1c" textLength="40.0" lengthAdjust="spacingAndGlyphs" transform="rotate(-90 1074.6 943.3)" >11/07</text>
<text x="1093.1" y="943.3" font-size="14" text-anchor="end" font-family='"Liberation Sans","Noto Sans CJK SC",sans-serif' font-weight="normal" fill="#1c1c1c" textLength="40.0" lengthAdjust="spacingAndGlyphs" transform="rotate(-90 1093.1 943.3)" >11/21</text>
<text x="1111.6" y="943.3" font-size="14" text-anchor="end" font-family='"Liberation Sans","Noto Sans CJK SC",sans-serif' font-weight="normal" fill="#1c1c1c" textLength="40.0" lengthAdjust="spacingAndGlyphs" transform="rotate(-90 1111.6 943.3)" >12/05</text>
<text x="1130.1" y="943.3" font-size="14" text-anchor="end" font-family='"Liberation Sans","Noto Sans CJK SC",sans-serif' font-weight="normal" fill="#1c1c1c" textLength="40.0" lengthAdjust="spacingAndGlyphs" transform="rotate(-90 1130.1 943.3)" >12/19</text>
<line x1="664.0" y1="1013.5" x2="690.5" y2="1013.5" stroke="#3B6BA5" stroke-width="3.8" stroke-linecap="round"/>
<text x="693.0" y="1018.5" font-size="14" text-anchor="start" font-family='"Liberation Sans","Noto Sans CJK SC",sans-serif' font-weight="normal" fill="#1c1c1c" textLength="43.0" lengthAdjust="spacingAndGlyphs" >2018年</text>
<line x1="794.0" y1="1013.5" x2="820.5" y2="1013.5" stroke="#3DB3A0" stroke-width="3.8" stroke-linecap="round"/>
<text x="824.0" y="1018.5" font-size="14" text-anchor="start" font-family='"Liberation Sans","Noto Sans CJK SC",sans-serif' font-weight="normal" fill="#1c1c1c" textLength="43.0" lengthAdjust="spacingAndGlyphs" >2019年</text>
<line x1="924.5" y1="1013.5" x2="951.0" y2="1013.5" stroke="#7FA848" stroke-width="3.8" stroke-linecap="round"/>
<text x="955.0" y="1018.5" font-size="14" text-anchor="start" font-family='"Liberation Sans","Noto Sans CJK SC",sans-serif' font-weight="normal" fill="#1c1c1c" textLength="43.0" lengthAdjust="spacingAndGlyphs" >2020年</text>
<line x1="1056.0" y1="1013.5" x2="1082.5" y2="1013.5" stroke="#6F4E9C" stroke-width="3.8" stroke-linecap="round"/>
<text x="1086.0" y="1018.5" font-size="14" text-anchor="start" font-family='"Liberation Sans","Noto Sans CJK SC",sans-serif' font-weight="normal" fill="#1c1c1c" textLength="43.0" lengthAdjust="spacingAndGlyphs" >2021年</text>
<line x1="664.0" y1="1032.8" x2="690.5" y2="1032.8" stroke="#FAA20C" stroke-width="3.8" stroke-linecap="round"/>
<text x="693.0" y="1037.8" font-size="14" text-anchor="start" font-family='"Liberation Sans","Noto Sans CJK SC",sans-serif' font-weight="normal" fill="#1c1c1c" textLength="43.0" lengthAdjust="spacingAndGlyphs" >2022年</text>
<line x1="794.0" y1="1032.8" x2="820.5" y2="1032.8" stroke="#D0803C" stroke-width="3.8" stroke-linecap="round"/>
<text x="824.0" y="1037.8" font-size="14" text-anchor="start" font-family='"Liberation Sans","Noto Sans CJK SC",sans-serif' font-weight="normal" fill="#1c1c1c" textLength="43.0" lengthAdjust="spacingAndGlyphs" >2023年</text>
<line x1="924.5" y1="1032.8" x2="951.0" y2="1032.8" stroke="#8FA8D6" stroke-width="3.8" stroke-linecap="round"/>
<text x="955.0" y="1037.8" font-size="14" text-anchor="start" font-family='"Liberation Sans","Noto Sans CJK SC",sans-serif' font-weight="normal" fill="#1c1c1c" textLength="43.0" lengthAdjust="spacingAndGlyphs" >2024年</text>
<text x="639.0" y="707.0" font-size="14.5" text-anchor="start" font-family='"Liberation Sans","Noto Sans CJK SC",sans-serif' font-weight="bold" fill="#1c1c1c" textLength="29.0" lengthAdjust="spacingAndGlyphs" >万吨</text>
<text x="778.4" y="718.0" font-size="20.8" text-anchor="start" font-family='"Liberation Serif","Noto Serif CJK SC",serif' font-weight="500" fill="#111" textLength="228.5" lengthAdjust="spacingAndGlyphs" >全国大豆压榨厂豆粕库存</text>
<line x1="778.0" y1="721.2" x2="1007.5" y2="721.2" stroke="#111" stroke-width="1.3"/>
<line x1="155.0" y1="1231.8" x2="523.7" y2="1231.8" stroke="#868686" stroke-width="1.3"/>
<line x1="155.0" y1="1268.5" x2="523.7" y2="1268.5" stroke="#868686" stroke-width="1.3"/>
<line x1="155.0" y1="1305.3" x2="523.7" y2="1305.3" stroke="#868686" stroke-width="1.3"/>
<line x1="155.0" y1="1342.0" x2="523.7" y2="1342.0" stroke="#868686" stroke-width="1.3"/>
<line x1="155.0" y1="1378.7" x2="523.7" y2="1378.7" stroke="#868686" stroke-width="1.3"/>
<line x1="155.0" y1="1415.5" x2="523.7" y2="1415.5" stroke="#868686" stroke-width="1.3"/>
<line x1="155.0" y1="1452.2" x2="523.7" y2="1452.2" stroke="#868686" stroke-width="1.3"/>
<clipPath id="c5clip"><rect x="160.0" y="1223.8" width="363.7" height="228.4"/></clipPath><g clip-path="url(#c5clip)">
<path d="M160.0,1416.0 L160.6,1415.7 L161.2,1414.8 L161.8,1414.8 L162.4,1415.6 L163.0,1414.4 L163.6,1415.4 L164.3,1414.4 L164.9,1414.4 L165.5,1415.2 L166.1,1414.5 L166.7,1415.9 L167.3,1415.8 L167.9,1415.1 L168.5,1414.6 L169.1,1414.5 L169.7,1415.2 L170.4,1415.2 L171.0,1414.9 L171.6,1415.6 L172.2,1415.2 L172.8,1415.7 L173.4,1414.5 L174.0,1414.4 L174.6,1415.0 L175.2,1415.1 L175.8,1414.7 L176.4,1415.5 L177.1,1414.7 L177.7,1414.8 L178.3,1415.1 L178.9,1415.6 L179.5,1415.7 L180.1,1414.9 L180.7,1415.1 L181.3,1415.9 L181.9,1416.0 L182.5,1415.4 L183.2,1414.5 L183.8,1415.1 L184.4,1415.4 L185.0,1414.8 L185.6,1414.3 L186.2,1416.0 L186.8,1415.9 L187.4,1414.5 L188.0,1415.1 L188.6,1415.4 L189.2,1414.8 L189.9,1414.4 L190.5,1415.6 L191.1,1415.7 L191.7,1415.1 L192.3,1414.4 L192.9,1415.0 L193.5,1414.4 L194.1,1417.2 L194.7,1416.8 L195.3,1418.4 L195.9,1420.5 L196.5,1419.4 L197.1,1419.4 L197.7,1419.4 L198.3,1419.7 L199.0,1420.4 L199.6,1421.0 L200.2,1419.9 L200.8,1420.0 L201.4,1421.1 L202.0,1420.5 L202.6,1420.5 L203.2,1420.1 L203.8,1421.3 L204.5,1423.6 L205.1,1423.0 L205.8,1424.2 L206.4,1426.1 L207.0,1426.3 L207.6,1426.3 L208.2,1425.5 L208.8,1426.4 L209.4,1425.7 L210.0,1425.1 L210.6,1425.4 L211.2,1425.9 L211.8,1425.9 L212.4,1424.8 L213.1,1424.9 L213.7,1426.2 L214.3,1424.7 L214.9,1425.9 L215.5,1425.1 L216.1,1424.9 L216.7,1424.9 L217.3,1425.2 L217.9,1426.1 L218.5,1424.6 L219.1,1425.9 L219.7,1424.9 L220.3,1424.6 L220.9,1425.6 L221.5,1424.9 L222.1,1424.6 L222.7,1425.0 L223.3,1425.7 L223.9,1425.7 L224.5,1425.2 L225.1,1424.1 L225.7,1425.5 L226.3,1425.2 L227.0,1425.7 L227.6,1425.8 L228.2,1424.6 L228.8,1425.5 L229.4,1425.5 L230.0,1424.4 L230.6,1424.6 L231.2,1423.8 L231.9,1423.0 L232.5,1422.2 L233.2,1420.9 L233.8,1420.3 L234.4,1422.4 L235.1,1422.3 L235.7,1423.5 L236.4,1424.7 L237.0,1425.3 L237.6,1424.4 L238.2,1425.6 L238.8,1425.4 L239.4,1425.7 L240.0,1425.2 L240.7,1425.3 L241.3,1425.4 L241.9,1424.4 L242.5,1425.1 L243.1,1424.6 L243.7,1425.5 L244.3,1424.2 L244.9,1424.9 L245.5,1424.5 L246.1,1425.4 L246.7,1424.6 L247.3,1425.5 L247.9,1425.5 L248.5,1425.5 L249.1,1424.2 L249.7,1425.6 L250.3,1425.3 L250.9,1425.2 L251.5,1425.1 L252.1,1424.0 L252.7,1425.5 L253.3,1424.9 L253.9,1424.8 L254.6,1424.5 L255.2,1425.3 L255.8,1425.3 L256.4,1425.5 L257.0,1424.2 L257.7,1424.4 L258.3,1424.1 L258.9,1423.8 L259.6,1424.1 L260.2,1423.5 L260.9,1424.8 L261.5,1423.7 L262.2,1423.3 L262.8,1423.3 L263.4,1424.5 L264.0,1423.5 L264.6,1424.0 L265.2,1423.9 L265.9,1424.6 L266.5,1424.9 L267.1,1423.7 L267.7,1424.3 L268.3,1424.7 L268.9,1424.0 L269.5,1424.8 L270.1,1424.5 L270.7,1423.7 L271.3,1424.7 L271.9,1424.2 L272.5,1423.3 L273.2,1424.2 L273.8,1424.6 L274.4,1424.1 L275.0,1424.0 L275.6,1423.9 L276.2,1424.7 L276.8,1424.3 L277.4,1423.5 L278.0,1423.8 L278.6,1423.8 L279.2,1424.9 L279.8,1424.4 L280.4,1423.4 L281.1,1424.8 L281.7,1423.2 L282.3,1424.2 L282.9,1423.9 L283.5,1424.4 L284.1,1423.9 L284.7,1423.3 L285.3,1424.1 L285.9,1424.6 L286.5,1424.6 L287.1,1423.8 L287.7,1423.5 L288.4,1424.5 L289.0,1424.6 L289.6,1423.5 L290.2,1424.7 L290.8,1424.9 L291.4,1423.9 L292.0,1423.8 L292.6,1424.4 L293.2,1424.8 L293.8,1423.5 L294.4,1423.7 L295.0,1423.7 L295.7,1423.8 L296.3,1422.2 L297.0,1422.2 L297.6,1421.5 L298.3,1421.1 L298.9,1420.4 L299.6,1422.1 L300.2,1422.4 L300.8,1421.9 L301.5,1422.5 L302.1,1421.7 L302.8,1423.2 L303.4,1422.8 L304.1,1423.5 L304.7,1423.9 L305.4,1422.7 L306.0,1423.5 L306.6,1422.0 L307.3,1421.4 L307.9,1422.0 L308.6,1422.5 L309.2,1422.3 L309.9,1422.1 L310.5,1421.1 L311.2,1421.6 L311.8,1420.0 L312.4,1418.4 L313.0,1418.3 L313.6,1417.7 L314.2,1416.1 L314.8,1415.6 L315.4,1414.0 L316.0,1413.2 L316.6,1414.1 L317.2,1415.0 L317.8,1415.6 L318.4,1415.6 L319.0,1416.2 L319.6,1417.5 L320.2,1418.9 L320.8,1419.6 L321.5,1418.6 L322.1,1418.4 L322.8,1418.7 L323.4,1418.0 L324.1,1418.6 L324.7,1419.0 L325.3,1417.5 L326.0,1418.1 L326.6,1418.1 L327.3,1418.0 L327.9,1417.9 L328.5,1417.9 L329.2,1417.0 L329.8,1418.0 L330.4,1418.1 L331.0,1416.5 L331.7,1418.1 L332.3,1417.1 L332.9,1416.4 L333.5,1416.4 L334.2,1417.6 L334.8,1417.4 L335.4,1416.4 L336.1,1416.9 L336.7,1417.2 L337.3,1417.8 L337.9,1416.5 L338.6,1417.3 L339.3,1415.9 L340.0,1415.4 L340.6,1415.1 L341.2,1415.3 L341.8,1415.4 L342.4,1414.6 L343.0,1414.1 L343.6,1414.0 L344.2,1413.5 L344.8,1413.4 L345.4,1413.4 L346.0,1413.5 L346.6,1412.6 L347.3,1412.9 L347.9,1412.6 L348.5,1413.3 L349.1,1412.2 L349.7,1412.7 L350.3,1411.8 L350.9,1411.2 L351.5,1411.8 L352.1,1410.9 L352.7,1410.8 L353.3,1410.6 L353.9,1411.6 L354.5,1412.0 L355.1,1410.9 L355.7,1410.7 L356.3,1410.7 L356.9,1410.5 L357.5,1411.0 L358.1,1410.3 L358.7,1409.8 L359.3,1411.0 L360.1,1414.5 L360.8,1413.2 L361.4,1414.4 L362.0,1413.9 L362.7,1413.0 L363.3,1413.2 L363.9,1413.4 L364.6,1412.2 L365.2,1411.9 L365.8,1411.4 L366.5,1411.6 L367.1,1411.5 L367.7,1411.3 L368.4,1411.4 L369.0,1409.7 L369.7,1409.1 L370.3,1409.0 L370.9,1408.0 L371.6,1406.6 L372.2,1405.8 L372.9,1404.8 L373.5,1405.5 L374.2,1404.4 L374.8,1403.7 L375.5,1402.9 L376.1,1402.4 L376.7,1403.4 L377.4,1402.8 L378.0,1401.0 L378.7,1401.2 L379.3,1400.9 L379.9,1400.3 L380.5,1399.6 L381.2,1400.0 L381.8,1398.4 L382.4,1398.2 L383.0,1398.3 L383.6,1397.3 L384.3,1396.4 L384.9,1395.6 L385.5,1395.1 L386.1,1395.0 L386.7,1394.7 L387.4,1393.9 L388.0,1394.3 L388.7,1394.5 L389.3,1394.6 L390.0,1395.8 L390.6,1395.3 L391.2,1394.9 L391.9,1395.2 L392.5,1396.2 L393.2,1395.2 L393.8,1395.8 L394.5,1394.3 L395.1,1394.3 L395.8,1393.7 L396.4,1394.8 L397.2,1401.6 L397.9,1399.2 L398.5,1396.3 L399.1,1394.1 L399.8,1392.4 L400.4,1389.8 L401.1,1390.3 L401.7,1390.5 L402.4,1390.0 L403.0,1390.8 L403.7,1389.5 L404.3,1392.2 L405.0,1392.5 L405.7,1393.3 L406.3,1395.5 L407.0,1396.9 L407.7,1397.2 L408.4,1397.8 L409.0,1400.3 L409.7,1401.1 L410.4,1401.9 L411.0,1403.7 L411.7,1403.1 L412.5,1395.0 L413.3,1387.1 L414.0,1386.9 L414.6,1388.1 L415.2,1388.0 L415.8,1387.1 L416.5,1387.2 L417.1,1387.2 L417.7,1388.0 L418.3,1388.1 L419.0,1388.6 L419.8,1389.1 L420.6,1391.9 L421.2,1390.6 L421.9,1390.2 L422.5,1389.6 L423.2,1389.2 L423.8,1390.2 L424.6,1383.8 L425.4,1376.9 L426.1,1375.6 L426.7,1375.3 L427.3,1374.9 L428.0,1374.9 L428.6,1375.3 L429.3,1371.5 L429.9,1369.8 L430.6,1367.5 L431.2,1363.7 L431.9,1361.9 L432.5,1360.9 L433.2,1358.9 L433.8,1357.1 L434.4,1356.2 L435.1,1354.1 L435.9,1348.8 L436.7,1344.1 L437.3,1339.4 L437.9,1333.6 L438.5,1328.1 L439.1,1321.8 L440.2,1298.5 L440.9,1306.6 L441.5,1315.0 L442.3,1290.6 L443.1,1264.4 L443.8,1264.2 L444.4,1262.6 L445.1,1260.5 L446.2,1320.8 L447.0,1338.3 L447.8,1353.8 L448.7,1371.2 L449.6,1387.9 L450.2,1385.0 L450.8,1381.2 L451.4,1378.9 L452.0,1375.7 L452.8,1381.3 L453.6,1386.4 L454.4,1393.1 L455.2,1400.4 L456.0,1409.9 L456.7,1411.4 L457.3,1411.5 L458.0,1411.8 L458.6,1412.2 L459.3,1412.8 L459.9,1412.9 L460.5,1412.9 L461.2,1414.3 L461.8,1414.1 L462.5,1415.4 L463.1,1414.7 L463.7,1416.0 L464.3,1415.5 L464.9,1415.2 L465.5,1416.4 L466.1,1415.0 L466.7,1416.6 L467.3,1416.4 L467.9,1417.6 L468.5,1420.9 L469.1,1422.8 L469.7,1425.6 L470.3,1424.9 L470.9,1424.4 L471.5,1425.2 L472.2,1423.6 L472.8,1424.7 L473.4,1423.3 L474.0,1423.5 L474.6,1423.1 L475.2,1424.3 L475.8,1423.4 L476.4,1423.8 L477.0,1422.8 L477.6,1422.8 L478.2,1421.9 L478.8,1420.1 L479.4,1420.0 L480.0,1419.6 L480.6,1417.9 L481.2,1417.9 L481.8,1416.4 L482.5,1414.6 L483.1,1413.7 L483.8,1411.8 L484.4,1409.9 L485.0,1407.0 L485.7,1406.3 L486.3,1405.7 L487.0,1404.7 L487.6,1403.2 L488.3,1402.9 L488.9,1402.2 L489.5,1403.3 L490.1,1402.5 L490.7,1402.0 L491.3,1403.2 L491.9,1402.2 L492.5,1403.3 L493.1,1402.3 L493.9,1407.6 L494.7,1410.4 L495.3,1411.6 L495.9,1411.3 L496.5,1413.0 L497.1,1413.3 L497.7,1413.9 L498.3,1415.7 L498.9,1415.1 L499.5,1416.7 L500.2,1416.0 L500.8,1417.4 L501.5,1417.5 L502.1,1415.9 L502.8,1416.7 L503.4,1417.3 L504.0,1418.4 L504.6,1419.0 L505.2,1418.9 L505.8,1420.6 L506.4,1419.8 L507.0,1420.4 L507.6,1422.2 L508.3,1420.9 L508.9,1420.9 L509.5,1421.4 L510.2,1421.0 L510.8,1420.6 L511.5,1421.9 L512.1,1421.0 L512.8,1421.5 L513.4,1420.4 L514.1,1421.6 L514.7,1421.1 L515.3,1423.2 L516.0,1423.4 L516.6,1424.9 L517.3,1425.3 L517.9,1425.0 L518.5,1424.7 L519.2,1425.2 L519.8,1424.4 L520.4,1423.7 L521.0,1425.0 L521.7,1424.8 L522.3,1424.5 L522.9,1424.5 L522.9,1430.0 L522.3,1431.3 L521.7,1432.7 L521.1,1433.6 L520.5,1434.8 L519.9,1435.6 L519.2,1435.7 L518.6,1435.6 L517.9,1435.7 L517.3,1436.1 L516.6,1435.0 L516.0,1433.3 L515.3,1432.9 L514.7,1432.4 L514.1,1430.5 L513.4,1431.1 L512.8,1432.0 L512.1,1431.6 L511.5,1432.4 L510.8,1432.6 L510.2,1433.0 L509.5,1432.1 L508.9,1433.5 L508.3,1433.4 L507.6,1432.6 L507.0,1431.8 L506.4,1431.4 L505.8,1432.3 L505.2,1431.5 L504.6,1430.7 L504.0,1431.5 L503.4,1430.8 L502.8,1430.5 L502.1,1431.5 L501.5,1430.5 L500.8,1431.7 L500.2,1432.4 L499.5,1432.5 L498.7,1430.3 L497.9,1430.0 L497.3,1430.0 L496.7,1430.0 L496.1,1430.0 L495.5,1430.1 L494.9,1430.1 L494.3,1430.1 L493.7,1430.1 L493.0,1430.1 L492.4,1430.1 L491.8,1430.2 L491.2,1430.2 L490.6,1430.2 L490.0,1430.2 L489.4,1430.2 L488.8,1430.2 L488.2,1430.3 L487.5,1430.3 L486.9,1430.3 L486.3,1430.3 L485.7,1430.3 L485.1,1430.3 L484.5,1430.4 L483.9,1430.4 L483.3,1430.4 L482.7,1430.4 L482.0,1430.4 L481.4,1430.4 L480.8,1430.5 L480.2,1430.5 L479.6,1430.4 L478.9,1432.0 L478.3,1433.8 L477.6,1433.3 L477.0,1434.9 L476.4,1434.3 L475.8,1434.9 L475.1,1434.2 L474.5,1434.9 L473.9,1434.7 L473.3,1433.7 L472.7,1434.2 L472.1,1433.8 L471.4,1435.1 L470.8,1434.9 L470.2,1433.7 L469.6,1435.4 L469.0,1434.6 L468.4,1434.9 L467.7,1434.8 L467.1,1433.8 L466.5,1434.5 L465.9,1432.7 L465.3,1432.2 L464.7,1431.7 L464.1,1430.0 L463.5,1430.0 L462.9,1430.0 L462.3,1430.0 L461.7,1430.0 L461.1,1430.0 L460.5,1430.0 L459.9,1430.0 L459.3,1430.0 L458.7,1430.0 L458.1,1430.0 L457.5,1430.0 L456.9,1430.0 L456.3,1430.0 L455.7,1430.0 L455.1,1430.0 L454.5,1430.0 L453.9,1430.0 L453.3,1430.0 L452.6,1430.0 L452.0,1430.0 L451.4,1430.0 L450.8,1430.0 L450.2,1430.0 L449.6,1430.0 L449.0,1430.0 L448.4,1430.0 L447.8,1430.0 L447.2,1430.0 L446.6,1430.0 L446.0,1430.0 L445.4,1430.0 L444.8,1430.0 L444.2,1430.0 L443.6,1430.0 L443.0,1430.0 L442.4,1430.0 L441.8,1430.0 L441.2,1430.0 L440.6,1430.0 L440.0,1430.0 L439.4,1430.0 L438.8,1430.0 L438.2,1430.0 L437.6,1430.0 L437.0,1430.0 L436.4,1430.0 L435.8,1430.0 L435.2,1430.0 L434.6,1430.0 L434.0,1430.0 L433.4,1430.0 L432.8,1430.0 L432.2,1430.0 L431.6,1430.0 L431.0,1430.0 L430.4,1430.0 L429.8,1430.0 L429.2,1430.0 L428.6,1430.0 L427.9,1430.0 L427.3,1430.0 L426.7,1430.0 L426.1,1430.0 L425.5,1430.0 L424.9,1430.0 L424.3,1430.0 L423.7,1430.0 L423.1,1430.0 L422.5,1430.0 L421.9,1430.0 L421.3,1430.0 L420.7,1430.0 L420.1,1430.0 L419.5,1430.0 L418.9,1430.0 L418.3,1430.0 L417.7,1430.0 L417.1,1430.0 L416.5,1430.0 L415.9,1430.0 L415.3,1430.0 L414.7,1430.0 L414.1,1430.0 L413.5,1430.0 L412.9,1430.0 L412.3,1430.0 L411.7,1430.0 L411.1,1430.0 L410.5,1430.0 L409.9,1430.0 L409.3,1430.0 L408.7,1430.0 L408.1,1430.0 L407.5,1430.0 L406.9,1430.0 L406.3,1430.0 L405.7,1430.0 L405.1,1430.0 L404.5,1430.0 L403.9,1430.0 L403.3,1430.0 L402.6,1430.0 L402.0,1430.0 L401.4,1430.0 L400.8,1430.0 L400.2,1430.0 L399.6,1430.0 L399.0,1430.0 L398.4,1430.0 L397.8,1430.0 L397.2,1430.0 L396.6,1430.0 L396.0,1430.0 L395.4,1430.0 L394.8,1430.0 L394.2,1430.0 L393.6,1430.0 L393.0,1430.0 L392.4,1430.0 L391.8,1430.0 L391.2,1430.0 L390.6,1430.0 L390.0,1430.0 L389.4,1430.0 L388.8,1430.0 L388.2,1430.0 L387.6,1430.0 L387.0,1430.0 L386.4,1430.0 L385.8,1430.0 L385.2,1430.0 L384.6,1430.0 L384.0,1430.0 L383.4,1430.0 L382.8,1430.0 L382.2,1430.0 L381.6,1430.0 L381.0,1430.0 L380.4,1430.0 L379.8,1430.0 L379.2,1430.0 L378.6,1430.0 L378.0,1430.0 L377.3,1430.0 L376.7,1430.0 L376.1,1430.0 L375.5,1430.0 L374.9,1430.0 L374.3,1430.0 L373.7,1430.0 L373.1,1430.0 L372.5,1430.0 L371.9,1430.0 L371.3,1430.0 L370.7,1430.0 L370.1,1430.0 L369.5,1430.0 L368.9,1430.0 L368.3,1430.0 L367.7,1430.0 L367.1,1430.0 L366.5,1430.0 L365.9,1430.0 L365.3,1430.0 L364.7,1430.0 L364.1,1430.0 L363.5,1430.0 L362.9,1430.0 L362.3,1430.0 L361.7,1430.0 L361.1,1430.0 L360.5,1430.0 L359.9,1430.0 L359.3,1430.0 L358.7,1430.0 L358.1,1430.0 L357.5,1430.0 L356.9,1430.0 L356.3,1430.0 L355.7,1430.0 L355.1,1430.0 L354.5,1430.0 L353.9,1430.0 L353.3,1430.0 L352.7,1430.0 L352.0,1430.0 L351.4,1430.0 L350.8,1430.0 L350.2,1430.0 L349.6,1430.0 L349.0,1430.0 L348.4,1430.0 L347.8,1430.0 L347.2,1430.0 L346.6,1430.0 L346.0,1430.0 L345.4,1430.0 L344.8,1430.0 L344.2,1430.0 L343.6,1430.0 L343.0,1430.0 L342.4,1430.0 L341.8,1430.0 L341.2,1430.0 L340.6,1430.0 L340.0,1430.0 L339.3,1430.0 L338.6,1430.0 L337.9,1430.0 L337.3,1430.1 L336.7,1430.1 L336.1,1430.1 L335.5,1430.2 L334.8,1430.2 L334.2,1430.3 L333.6,1430.3 L333.0,1430.3 L332.4,1430.4 L331.7,1430.4 L331.1,1430.4 L330.5,1430.5 L329.9,1431.6 L329.2,1430.7 L328.6,1432.0 L327.9,1431.8 L327.3,1432.4 L326.6,1431.9 L326.0,1432.7 L325.3,1433.1 L324.7,1432.7 L324.1,1434.5 L323.2,1433.8 L322.4,1432.2 L321.8,1431.3 L321.2,1431.5 L320.6,1432.0 L320.0,1432.4 L319.4,1431.9 L318.8,1431.6 L318.2,1432.4 L317.6,1431.7 L317.0,1431.8 L316.4,1433.0 L315.8,1432.4 L315.2,1431.3 L314.6,1431.5 L314.0,1431.9 L313.4,1431.6 L312.8,1431.2 L312.1,1433.5 L311.5,1432.6 L310.8,1434.3 L310.2,1434.5 L309.5,1435.6 L308.9,1434.1 L308.3,1434.0 L307.6,1433.8 L307.0,1433.2 L306.3,1431.4 L305.7,1431.8 L305.1,1432.2 L304.4,1431.4 L303.8,1432.5 L303.2,1431.7 L302.6,1432.6 L301.9,1433.0 L301.3,1431.8 L300.7,1431.7 L300.1,1431.9 L299.4,1432.5 L298.8,1433.0 L298.2,1433.4 L297.6,1432.4 L296.9,1432.4 L296.3,1432.2 L295.7,1432.4 L295.0,1433.7 L294.4,1433.2 L293.8,1433.2 L293.1,1433.7 L292.5,1434.5 L291.8,1433.8 L291.2,1434.2 L290.6,1433.7 L290.0,1433.6 L289.4,1433.7 L288.8,1434.4 L288.2,1435.0 L287.6,1434.2 L287.0,1434.0 L286.4,1434.7 L285.8,1434.3 L285.2,1433.5 L284.6,1434.4 L284.0,1433.6 L283.4,1433.6 L282.8,1433.7 L282.2,1433.0 L281.5,1433.8 L280.8,1435.4 L280.1,1434.8 L279.5,1436.3 L278.8,1435.9 L278.1,1436.8 L277.5,1435.5 L276.9,1434.8 L276.3,1435.2 L275.7,1434.4 L275.1,1434.6 L274.5,1434.6 L273.9,1434.5 L273.3,1433.9 L272.7,1435.1 L272.1,1434.7 L271.5,1433.9 L270.9,1433.9 L270.3,1433.9 L269.7,1434.1 L269.1,1435.2 L268.5,1434.3 L267.8,1434.6 L267.2,1434.9 L266.6,1433.9 L266.0,1434.8 L265.4,1435.9 L264.7,1437.7 L264.1,1438.8 L263.5,1439.8 L262.8,1440.4 L262.2,1439.9 L261.5,1439.5 L260.9,1439.7 L260.2,1440.6 L259.6,1439.4 L258.9,1439.4 L258.3,1437.5 L257.7,1434.5 L257.0,1434.1 L256.4,1431.9 L255.8,1432.9 L255.2,1431.7 L254.6,1432.0 L253.9,1432.6 L253.3,1431.4 L252.7,1432.6 L252.1,1431.0 L251.5,1432.3 L250.9,1431.1 L250.3,1431.1 L249.7,1430.7 L249.1,1432.1 L248.5,1431.6 L247.9,1432.1 L247.3,1431.2 L246.7,1430.4 L246.1,1431.9 L245.4,1431.8 L244.8,1433.5 L244.2,1432.9 L243.6,1432.7 L242.9,1433.1 L242.3,1434.8 L241.7,1435.2 L241.1,1436.2 L240.4,1435.4 L239.7,1434.3 L239.0,1433.6 L238.4,1433.2 L237.7,1431.3 L237.0,1431.3 L236.4,1430.8 L235.8,1431.4 L235.2,1430.4 L234.6,1430.5 L234.0,1432.1 L233.3,1430.8 L232.7,1432.1 L232.1,1430.9 L231.5,1431.5 L230.9,1431.0 L230.3,1431.6 L229.7,1431.9 L229.0,1431.4 L228.4,1431.5 L227.8,1432.1 L227.2,1431.0 L226.6,1431.6 L226.0,1432.1 L225.4,1431.4 L224.7,1431.5 L224.1,1430.9 L223.3,1431.4 L222.5,1432.4 L221.9,1432.0 L221.3,1432.6 L220.7,1433.0 L220.1,1432.7 L219.5,1433.7 L218.9,1433.0 L218.3,1432.2 L217.7,1433.8 L217.1,1433.7 L216.5,1432.7 L215.9,1433.6 L215.3,1432.3 L214.7,1433.1 L214.1,1433.4 L213.5,1433.0 L212.9,1432.7 L212.2,1432.5 L211.6,1432.9 L211.0,1432.8 L210.4,1432.2 L209.8,1432.3 L209.2,1432.7 L208.6,1433.0 L208.0,1433.2 L207.4,1432.3 L206.8,1433.7 L206.2,1433.7 L205.6,1433.5 L205.0,1432.1 L204.4,1431.0 L203.8,1430.7 L203.2,1430.0 L202.6,1430.0 L202.0,1430.0 L201.4,1430.0 L200.7,1430.0 L200.1,1430.0 L199.5,1430.0 L198.9,1430.0 L198.3,1430.0 L197.7,1430.0 L197.1,1430.0 L196.5,1430.0 L195.9,1430.0 L195.3,1430.0 L194.7,1430.0 L194.1,1430.0 L193.4,1430.0 L192.8,1430.0 L192.2,1430.0 L191.6,1430.0 L191.0,1430.0 L190.4,1430.0 L189.8,1430.0 L189.2,1430.0 L188.6,1430.0 L188.0,1430.0 L187.4,1430.0 L186.8,1430.0 L186.1,1430.0 L185.5,1430.0 L184.9,1430.0 L184.3,1430.0 L183.7,1430.0 L183.1,1430.0 L182.5,1430.0 L181.9,1430.0 L181.3,1430.0 L180.7,1430.0 L180.1,1430.0 L179.5,1430.0 L178.8,1430.0 L178.2,1430.0 L177.6,1430.0 L177.0,1430.0 L176.4,1430.0 L175.8,1430.0 L175.2,1430.0 L174.6,1430.0 L174.0,1430.0 L173.4,1430.0 L172.8,1430.0 L172.2,1430.0 L171.6,1430.0 L170.9,1430.0 L170.3,1430.0 L169.7,1430.0 L169.1,1430.0 L168.5,1430.0 L167.9,1430.0 L167.3,1430.0 L166.7,1430.0 L166.1,1430.0 L165.5,1430.0 L164.9,1430.0 L164.3,1430.0 L163.6,1430.0 L163.0,1430.0 L162.4,1430.0 L161.8,1430.0 L161.2,1430.0 L160.6,1430.0 L160.0,1430.0Z" fill="#FAA20C" stroke="none"/>
<path d="M160.0,1358.3 L160.6,1359.3 L161.3,1357.2 L161.9,1358.1 L162.6,1357.0 L163.2,1359.1 L163.9,1359.5 L164.5,1359.9 L165.1,1360.2 L165.8,1359.8 L166.4,1364.1 L167.1,1364.5 L167.7,1364.8 L168.4,1364.8 L169.0,1365.9 L169.7,1368.4 L170.3,1370.3 L171.0,1369.8 L171.6,1371.4 L172.2,1369.9 L172.9,1371.1 L173.5,1371.5 L174.2,1371.9 L174.8,1371.3 L175.5,1372.6 L176.2,1372.4 L176.9,1369.1 L177.5,1367.5 L178.2,1369.3 L178.9,1370.1 L179.5,1370.8 L180.2,1371.2 L180.9,1372.0 L181.6,1370.4 L182.2,1369.2 L182.9,1370.0 L183.5,1368.5 L184.2,1372.8 L184.8,1371.9 L185.5,1372.3 L186.1,1374.0 L186.7,1373.6 L187.4,1370.5 L188.0,1369.9 L188.7,1368.5 L189.3,1371.0 L190.0,1371.2 L190.6,1369.6 L191.3,1368.1 L191.9,1366.7 L192.5,1366.9 L193.2,1367.8 L193.8,1368.7 L194.5,1368.4 L195.1,1368.0 L195.8,1366.7 L196.4,1366.7 L197.1,1366.6 L197.7,1370.5 L198.3,1368.3 L199.0,1366.7 L199.6,1366.4 L200.3,1369.3 L200.9,1369.7 L201.6,1366.8 L202.2,1369.3 L202.9,1370.9 L203.5,1369.5 L204.1,1368.3 L204.8,1371.4 L205.4,1370.8 L206.1,1369.8 L206.7,1374.0 L207.4,1373.5 L208.0,1373.6 L208.7,1374.6 L209.3,1373.4 L210.0,1371.9 L210.6,1373.5 L211.2,1374.1 L211.9,1372.6 L212.5,1374.1 L213.2,1376.8 L213.8,1375.7 L214.5,1377.2 L215.1,1377.0 L215.7,1374.4 L216.3,1372.4 L216.9,1374.8 L217.5,1375.0 L218.1,1373.2 L218.7,1371.8 L219.3,1374.4 L219.9,1376.2 L220.5,1373.5 L221.2,1374.7 L221.8,1375.2 L222.4,1374.4 L223.0,1372.9 L223.6,1374.0 L224.3,1376.3 L224.9,1377.2 L225.5,1377.2 L226.1,1375.5 L226.7,1375.6 L227.4,1376.4 L228.0,1376.7 L228.6,1376.4 L229.3,1378.8 L229.9,1375.4 L230.6,1378.5 L231.2,1376.6 L231.9,1379.6 L232.5,1377.9 L233.2,1379.6 L233.8,1379.5 L234.4,1378.3 L235.1,1382.2 L235.7,1384.1 L236.4,1382.5 L237.0,1385.0 L237.6,1383.8 L238.3,1385.7 L238.9,1381.4 L239.5,1381.4 L240.1,1380.4 L240.7,1381.9 L241.4,1383.0 L242.0,1383.5 L242.6,1382.0 L243.2,1380.4 L243.8,1381.8 L244.5,1378.5 L245.1,1377.9 L245.7,1380.7 L246.3,1380.3 L246.9,1383.1 L247.5,1379.7 L248.1,1380.6 L248.7,1379.8 L249.3,1378.7 L249.9,1378.9 L250.6,1379.7 L251.2,1381.9 L251.9,1383.6 L252.5,1385.1 L253.1,1385.0 L253.8,1387.6 L254.4,1388.1 L255.1,1391.2 L255.7,1388.6 L256.4,1390.0 L257.0,1389.7 L257.7,1388.7 L258.3,1390.6 L258.9,1387.6 L259.6,1389.8 L260.2,1387.6 L260.9,1386.5 L261.5,1387.2 L262.2,1387.0 L262.8,1385.2 L263.4,1383.1 L264.0,1386.4 L264.6,1384.2 L265.2,1381.7 L265.8,1383.2 L266.4,1382.7 L267.0,1381.1 L267.6,1380.2 L268.3,1383.4 L268.9,1382.4 L269.6,1383.0 L270.2,1386.4 L270.9,1385.0 L271.5,1385.2 L272.2,1384.5 L272.8,1387.3 L273.4,1388.8 L274.1,1388.6 L274.7,1387.8 L275.3,1386.4 L275.9,1388.6 L276.5,1387.5 L277.1,1388.8 L277.7,1386.7 L278.3,1387.7 L278.9,1384.2 L279.5,1384.3 L280.1,1388.4 L280.7,1388.6 L281.3,1388.8 L282.0,1388.2 L282.6,1388.0 L283.2,1386.7 L283.8,1386.4 L284.4,1388.7 L285.0,1390.0 L285.6,1388.3 L286.2,1389.8 L286.8,1387.9 L287.4,1389.8 L288.0,1388.3 L288.6,1389.6 L289.2,1389.2 L289.8,1390.5 L290.4,1388.9 L291.0,1390.2 L291.6,1389.9 L292.3,1386.4 L292.9,1385.1 L293.5,1385.6 L294.1,1384.2 L294.8,1383.1 L295.4,1382.7 L296.0,1380.5 L296.7,1377.0 L297.3,1378.1 L297.9,1381.0 L298.5,1381.1 L299.1,1382.5 L299.7,1381.5 L300.3,1382.0 L300.9,1385.3 L301.5,1386.2 L302.1,1383.9 L302.7,1379.3 L303.3,1379.3 L303.9,1375.3 L304.5,1377.6 L305.1,1377.6 L305.7,1375.4 L306.3,1371.2 L306.9,1372.3 L307.5,1368.6 L308.1,1369.9 L308.7,1368.2 L309.3,1364.3 L310.0,1366.8 L310.6,1364.7 L311.2,1365.3 L311.8,1363.8 L312.5,1361.6 L313.2,1361.7 L313.8,1357.4 L314.5,1358.7 L315.2,1355.3 L315.9,1354.4 L316.5,1356.5 L317.2,1356.7 L317.9,1357.7 L318.5,1361.8 L319.2,1361.5 L319.9,1363.1 L320.5,1365.7 L321.2,1367.8 L321.8,1373.2 L322.4,1376.3 L323.1,1378.5 L323.7,1381.2 L324.4,1380.6 L325.0,1383.6 L325.7,1383.3 L326.3,1386.0 L327.0,1386.5 L327.6,1386.5 L328.2,1384.0 L328.9,1382.6 L329.5,1386.6 L330.2,1386.2 L330.8,1386.5 L331.5,1388.1 L332.1,1385.1 L332.7,1385.6 L333.3,1383.8 L333.9,1384.0 L334.5,1381.6 L335.1,1378.7 L335.7,1380.7 L336.3,1377.2 L336.9,1377.6 L337.6,1377.9 L338.2,1374.6 L338.8,1375.4 L339.4,1373.7 L340.0,1371.8 L340.7,1370.2 L341.3,1372.8 L342.0,1369.9 L342.7,1369.0 L343.4,1367.9 L344.0,1364.4 L344.7,1367.0 L345.4,1367.7 L346.0,1368.4 L346.7,1365.9 L347.4,1364.0 L348.1,1363.9 L348.7,1364.0 L349.3,1362.4 L350.0,1359.3 L350.6,1357.6 L351.3,1353.8 L351.9,1357.7 L352.5,1357.1 L353.1,1357.5 L353.7,1359.5 L354.3,1357.5 L354.9,1360.0 L355.5,1359.3 L356.1,1361.8 L356.7,1357.6 L357.3,1356.2 L357.9,1356.8 L358.5,1355.5 L359.1,1353.7 L359.7,1353.3 L360.3,1350.5 L361.0,1349.9 L361.6,1347.0 L362.2,1349.5 L362.8,1346.9 L363.5,1348.4 L364.1,1347.0 L364.7,1346.1 L365.3,1345.4 L366.0,1341.9 L366.6,1343.5 L367.3,1343.6 L367.9,1347.7 L368.6,1349.9 L369.3,1351.3 L369.9,1353.6 L370.6,1353.6 L371.3,1350.3 L372.0,1348.0 L372.6,1340.8 L373.3,1335.3 L374.0,1332.4 L374.6,1329.4 L375.3,1328.3 L376.0,1328.7 L376.7,1332.5 L377.3,1331.7 L378.0,1330.6 L378.7,1330.7 L379.5,1338.2 L380.3,1342.5 L380.9,1340.9 L381.5,1339.0 L382.1,1336.1 L382.7,1333.7 L383.3,1332.9 L383.9,1326.7 L384.5,1327.5 L385.1,1322.3 L385.8,1321.9 L386.4,1326.3 L387.1,1327.7 L387.7,1328.8 L388.3,1328.4 L389.0,1334.4 L389.6,1336.4 L390.2,1341.6 L390.8,1343.2 L391.4,1341.0 L392.1,1338.6 L392.8,1334.2 L393.5,1331.1 L394.1,1325.8 L394.8,1324.8 L395.4,1324.9 L396.1,1321.5 L396.7,1321.8 L397.4,1322.2 L398.0,1318.4 L398.7,1321.5 L399.4,1322.9 L400.0,1319.4 L400.7,1319.3 L401.4,1318.6 L402.0,1319.5 L402.7,1316.2 L403.3,1315.4 L403.9,1312.2 L404.5,1309.6 L405.1,1307.8 L405.7,1305.1 L406.3,1304.5 L406.9,1302.3 L407.5,1302.2 L408.2,1304.6 L408.8,1306.2 L409.5,1310.3 L410.1,1312.5 L410.7,1312.9 L411.3,1311.9 L411.9,1311.1 L412.5,1305.2 L413.2,1307.6 L413.8,1315.0 L414.5,1318.8 L415.1,1325.7 L415.7,1328.3 L416.4,1324.7 L417.0,1320.5 L417.7,1321.8 L418.3,1318.4 L419.0,1315.1 L419.6,1311.0 L420.3,1308.8 L420.9,1305.8 L421.5,1300.4 L422.2,1294.5 L422.8,1292.5 L423.4,1292.7 L424.0,1288.8 L424.6,1287.1 L425.2,1279.2 L425.8,1270.9 L426.4,1263.7 L427.0,1254.4 L427.7,1258.7 L428.3,1263.9 L429.0,1263.8 L429.6,1267.3 L430.2,1273.3 L431.1,1281.2 L431.9,1283.2 L432.5,1274.3 L433.1,1264.4 L433.7,1255.2 L434.3,1243.3 L434.9,1244.6 L435.5,1248.4 L436.1,1254.1 L436.7,1258.6 L437.3,1253.4 L437.9,1252.0 L438.5,1249.7 L439.1,1247.1 L439.7,1245.9 L440.3,1249.0 L440.9,1250.7 L441.5,1254.1 L442.3,1266.1 L443.1,1277.6 L443.9,1305.7 L444.8,1327.9 L445.6,1353.4 L446.4,1333.2 L447.2,1315.3 L447.8,1315.6 L448.5,1311.3 L449.1,1312.1 L449.8,1308.1 L450.4,1310.4 L451.0,1310.1 L451.6,1315.7 L452.2,1318.0 L452.8,1319.9 L453.5,1325.0 L454.1,1330.3 L454.7,1334.7 L455.4,1337.6 L456.0,1343.6 L456.7,1340.1 L457.3,1340.4 L458.0,1335.6 L458.6,1332.4 L459.3,1328.2 L459.9,1330.7 L460.5,1327.6 L461.2,1327.5 L461.8,1327.8 L462.5,1325.0 L463.1,1327.9 L463.7,1327.5 L464.3,1327.5 L464.9,1328.2 L465.5,1331.6 L466.1,1336.0 L466.7,1335.2 L467.3,1337.1 L467.9,1338.7 L468.5,1336.6 L469.1,1335.2 L469.7,1336.4 L470.3,1336.2 L470.9,1338.7 L471.5,1339.2 L472.2,1335.8 L472.8,1335.5 L473.4,1334.0 L474.0,1331.0 L474.7,1331.4 L475.3,1333.5 L475.9,1330.4 L476.5,1330.2 L477.2,1330.2 L477.8,1326.3 L478.5,1331.8 L479.1,1331.0 L479.8,1333.1 L480.5,1337.3 L481.1,1336.6 L481.8,1339.6 L482.4,1339.0 L483.0,1340.9 L483.6,1339.4 L484.2,1339.9 L484.8,1340.6 L485.4,1340.5 L486.1,1340.7 L486.7,1341.6 L487.3,1344.4 L487.9,1344.1 L488.5,1348.2 L489.1,1348.2 L489.7,1348.0 L490.3,1348.5 L490.9,1352.4 L491.5,1350.4 L492.2,1350.5 L492.8,1345.6 L493.5,1346.7 L494.2,1342.7 L494.8,1340.8 L495.5,1339.9 L496.2,1337.0 L496.9,1336.2 L497.5,1339.5 L498.2,1340.4 L498.9,1341.8 L499.5,1340.3 L500.2,1340.0 L500.9,1337.7 L501.6,1337.7 L502.2,1336.4 L502.9,1336.9 L503.6,1335.1 L504.2,1335.7 L504.8,1338.5 L505.5,1337.4 L506.1,1341.3 L506.7,1341.8 L507.3,1341.3 L508.0,1341.3 L508.6,1344.0 L509.2,1345.6 L509.8,1346.4 L510.5,1344.5 L511.1,1343.7 L511.7,1345.5 L512.4,1342.7 L513.0,1344.9 L513.6,1344.9 L514.2,1345.1 L514.9,1344.5 L515.5,1343.3 L516.1,1347.2 L516.8,1348.9 L517.4,1348.9 L518.1,1354.5 L518.7,1352.8 L519.3,1352.4 L519.9,1350.3 L520.5,1346.5 L521.1,1348.5 L521.7,1345.0 L522.3,1343.6 L522.9,1344.3" fill="none" stroke="#2E7F6E" stroke-width="5.00" stroke-linejoin="round" stroke-linecap="round"/>
<path d="M160.0,1403.5 L160.6,1404.0 L161.3,1405.1 L161.9,1403.0 L162.6,1404.4 L163.2,1402.6 L163.9,1403.4 L164.5,1404.3 L165.1,1405.4 L165.7,1403.6 L166.3,1403.9 L166.9,1407.5 L167.5,1406.9 L168.1,1407.2 L168.7,1407.5 L169.3,1409.3 L170.0,1410.1 L170.6,1410.2 L171.3,1409.4 L171.9,1410.0 L172.6,1410.1 L173.2,1409.0 L173.9,1411.8 L174.5,1413.0 L175.1,1412.8 L175.8,1413.8 L176.4,1411.8 L177.1,1412.5 L177.7,1410.2 L178.4,1411.3 L179.0,1411.5 L179.7,1412.3 L180.3,1412.1 L180.9,1412.1 L181.6,1409.5 L182.2,1410.6 L182.8,1409.8 L183.5,1408.8 L184.1,1408.7 L184.7,1410.3 L185.3,1411.0 L185.9,1411.3 L186.5,1410.6 L187.1,1408.4 L187.8,1407.5 L188.4,1408.8 L189.0,1407.8 L189.6,1408.0 L190.2,1407.1 L190.8,1406.9 L191.4,1409.1 L192.1,1407.9 L192.7,1409.9 L193.3,1408.5 L193.9,1410.1 L194.5,1408.4 L195.1,1407.7 L195.7,1408.0 L196.4,1406.6 L197.0,1407.9 L197.6,1408.1 L198.2,1406.8 L198.8,1409.8 L199.5,1408.9 L200.1,1407.1 L200.7,1410.4 L201.3,1408.6 L201.9,1408.2 L202.6,1407.1 L203.2,1407.1 L203.8,1410.0 L204.5,1410.8 L205.1,1411.1 L205.8,1410.5 L206.4,1410.8 L207.1,1413.9 L207.7,1412.9 L208.3,1415.4 L209.0,1416.1 L209.6,1413.6 L210.2,1415.5 L210.8,1412.7 L211.4,1414.5 L212.0,1415.5 L212.7,1415.4 L213.3,1414.7 L213.9,1415.5 L214.5,1413.1 L215.1,1413.8 L215.7,1412.9 L216.3,1413.1 L216.9,1412.3 L217.5,1414.0 L218.1,1414.1 L218.7,1414.9 L219.3,1414.5 L219.9,1414.4 L220.6,1415.7 L221.2,1415.8 L221.8,1414.9 L222.4,1413.6 L223.1,1415.7 L223.7,1414.2 L224.3,1412.7 L224.9,1413.1 L225.6,1414.9 L226.2,1416.4 L226.8,1415.9 L227.4,1415.8 L228.1,1416.9 L228.7,1416.8 L229.3,1415.4 L230.0,1415.1 L230.6,1416.2 L231.2,1415.0 L231.8,1413.9 L232.4,1415.6 L233.1,1417.1 L233.7,1415.5 L234.3,1416.8 L234.9,1418.2 L235.5,1415.8 L236.2,1415.1 L236.8,1416.4 L237.4,1416.3 L238.0,1418.9 L238.6,1420.1 L239.3,1418.2 L239.9,1418.9 L240.5,1418.5 L241.1,1416.5 L241.8,1418.9 L242.4,1416.6 L243.0,1415.3 L243.7,1416.4 L244.3,1414.9 L244.9,1416.3 L245.5,1416.4 L246.2,1418.6 L246.8,1417.2 L247.4,1418.4 L248.0,1418.6 L248.7,1417.8 L249.3,1416.1 L249.9,1415.7 L250.5,1416.7 L251.1,1416.8 L251.7,1418.1 L252.3,1418.1 L252.9,1417.6 L253.5,1418.8 L254.1,1421.0 L254.8,1418.7 L255.4,1418.7 L256.0,1417.6 L256.6,1417.7 L257.2,1417.8 L257.8,1419.5 L258.4,1421.9 L259.0,1422.4 L259.6,1423.9 L260.2,1423.4 L260.8,1422.1 L261.4,1421.4 L262.1,1418.7 L262.7,1419.0 L263.3,1418.4 L263.9,1419.5 L264.5,1417.4 L265.2,1418.4 L265.8,1417.9 L266.4,1417.9 L267.0,1417.4 L267.6,1415.8 L268.3,1418.0 L268.9,1419.2 L269.5,1418.8 L270.2,1416.9 L270.8,1418.2 L271.4,1419.9 L272.0,1421.0 L272.7,1420.6 L273.3,1417.6 L273.9,1420.0 L274.5,1420.1 L275.2,1418.7 L275.8,1420.8 L276.4,1421.3 L277.0,1421.8 L277.7,1419.5 L278.3,1420.1 L278.9,1419.6 L279.6,1419.0 L280.2,1420.7 L280.8,1420.7 L281.4,1419.6 L282.1,1420.0 L282.7,1421.7 L283.3,1420.9 L283.9,1422.0 L284.6,1421.0 L285.2,1422.3 L285.8,1418.9 L286.4,1419.5 L287.1,1420.0 L287.7,1420.9 L288.3,1422.2 L289.0,1421.3 L289.6,1420.4 L290.2,1420.7 L290.9,1419.9 L291.5,1420.0 L292.1,1420.7 L292.8,1416.9 L293.4,1416.4 L294.1,1418.2 L294.7,1415.2 L295.4,1416.8 L296.0,1414.0 L296.7,1415.2 L297.3,1416.5 L297.9,1414.9 L298.6,1415.0 L299.2,1414.5 L299.9,1416.3 L300.5,1416.4 L301.2,1416.8 L301.8,1415.9 L302.5,1416.8 L303.1,1418.7 L303.7,1417.7 L304.4,1417.6 L305.0,1414.2 L305.7,1413.6 L306.3,1412.3 L307.0,1411.2 L307.6,1412.1 L308.3,1409.4 L308.9,1409.4 L309.5,1409.8 L310.2,1410.1 L310.8,1406.1 L311.4,1405.2 L312.1,1405.4 L312.7,1406.7 L313.3,1403.6 L313.9,1404.8 L314.6,1403.0 L315.2,1402.5 L315.9,1404.9 L316.5,1402.8 L317.2,1403.6 L317.9,1403.7 L318.5,1404.2 L319.2,1405.6 L319.9,1408.5 L320.5,1409.8 L321.2,1409.1 L321.8,1412.4 L322.4,1413.0 L323.1,1412.6 L323.7,1415.8 L324.4,1417.7 L325.0,1416.7 L325.7,1419.9 L326.3,1420.0 L327.0,1417.6 L327.6,1415.8 L328.2,1418.5 L328.9,1419.1 L329.5,1416.4 L330.2,1418.0 L330.8,1418.4 L331.5,1417.9 L332.1,1418.5 L332.8,1418.8 L333.4,1416.0 L334.0,1416.7 L334.7,1417.0 L335.3,1414.4 L336.0,1414.6 L336.6,1414.4 L337.3,1414.7 L337.9,1413.3 L338.6,1411.4 L339.3,1411.1 L340.0,1412.5 L340.6,1410.3 L341.3,1411.9 L341.9,1412.0 L342.6,1408.8 L343.2,1409.0 L343.9,1408.4 L344.5,1405.4 L345.2,1406.4 L345.8,1406.1 L346.4,1403.6 L347.1,1402.2 L347.7,1402.4 L348.4,1404.5 L349.0,1404.0 L349.7,1405.2 L350.3,1403.0 L351.0,1402.0 L351.6,1402.6 L352.2,1405.0 L352.9,1402.9 L353.5,1401.3 L354.1,1403.2 L354.7,1400.8 L355.3,1402.0 L355.9,1399.7 L356.5,1399.3 L357.1,1400.5 L357.7,1401.4 L358.3,1399.9 L358.9,1399.5 L359.5,1397.6 L360.1,1398.1 L360.7,1397.9 L361.4,1399.9 L362.0,1400.2 L362.6,1400.6 L363.2,1399.3 L363.8,1399.3 L364.4,1396.7 L365.0,1396.6 L365.6,1395.9 L366.2,1395.4 L366.8,1396.7 L367.4,1394.9 L368.0,1396.2 L368.6,1397.4 L369.2,1401.1 L369.8,1402.4 L370.4,1400.4 L371.1,1398.4 L371.7,1399.0 L372.3,1398.4 L372.9,1395.4 L373.6,1393.9 L374.2,1393.7 L374.8,1390.3 L375.5,1388.3 L376.1,1388.1 L376.8,1390.0 L377.5,1392.2 L378.1,1391.0 L378.8,1392.1 L379.5,1395.1 L380.1,1393.0 L380.7,1391.2 L381.4,1391.7 L382.0,1391.5 L382.6,1388.7 L383.2,1386.1 L383.9,1386.6 L384.5,1386.5 L385.1,1386.6 L385.7,1386.9 L386.3,1386.3 L386.9,1387.5 L387.5,1387.7 L388.1,1389.1 L388.8,1390.3 L389.4,1393.1 L390.0,1394.8 L390.6,1394.2 L391.2,1391.6 L391.8,1392.0 L392.4,1388.3 L393.0,1389.5 L393.6,1388.2 L394.2,1388.1 L394.8,1385.7 L395.4,1387.2 L396.0,1383.8 L396.6,1385.7 L397.2,1386.2 L397.8,1384.4 L398.4,1385.5 L399.0,1383.3 L399.6,1384.5 L400.3,1383.2 L401.0,1382.1 L401.6,1380.4 L402.3,1381.8 L403.0,1381.6 L403.7,1378.5 L404.3,1379.7 L404.9,1376.2 L405.6,1374.7 L406.2,1373.3 L406.9,1372.6 L407.6,1375.0 L408.2,1376.7 L408.9,1376.6 L409.6,1376.2 L410.2,1375.6 L410.9,1375.8 L411.5,1378.2 L412.1,1379.8 L412.7,1380.3 L413.3,1383.2 L413.9,1382.4 L414.5,1382.4 L415.1,1383.2 L415.7,1383.1 L416.3,1384.2 L417.0,1382.1 L417.6,1380.2 L418.2,1378.0 L418.8,1375.4 L419.4,1373.8 L420.0,1372.9 L420.6,1371.3 L421.2,1372.2 L421.9,1370.0 L422.5,1366.9 L423.2,1364.4 L423.8,1363.1 L424.4,1360.3 L425.1,1358.8 L425.7,1356.4 L426.4,1350.6 L427.0,1348.5 L427.6,1351.2 L428.2,1354.9 L428.8,1358.6 L429.4,1360.2 L430.0,1358.4 L430.7,1359.4 L431.3,1359.1 L431.9,1356.9 L432.5,1353.1 L433.1,1347.7 L433.7,1340.1 L434.3,1332.8 L434.9,1335.4 L435.5,1337.5 L436.1,1337.3 L436.7,1337.3 L437.3,1337.7 L438.0,1335.3 L438.6,1336.7 L439.3,1336.1 L439.9,1333.9 L440.5,1340.2 L441.1,1345.4 L441.7,1351.0 L442.3,1356.9 L443.1,1372.3 L443.9,1384.6 L444.8,1392.3 L445.6,1397.9 L446.4,1387.7 L447.2,1375.7 L447.8,1375.6 L448.5,1374.4 L449.1,1374.6 L449.8,1373.1 L450.4,1375.6 L451.0,1377.9 L451.6,1379.9 L452.2,1382.7 L452.8,1383.2 L453.5,1385.7 L454.1,1387.6 L454.7,1392.2 L455.4,1391.9 L456.0,1395.0 L456.6,1395.9 L457.2,1395.2 L457.8,1393.9 L458.5,1391.1 L459.1,1389.1 L459.7,1389.6 L460.3,1387.4 L460.9,1387.6 L461.5,1387.1 L462.1,1388.9 L462.7,1389.1 L463.3,1390.5 L463.9,1391.9 L464.5,1390.4 L465.1,1392.6 L465.7,1389.8 L466.3,1393.4 L467.0,1392.1 L467.6,1394.5 L468.3,1395.6 L468.9,1398.3 L469.5,1396.5 L470.2,1395.1 L470.8,1396.6 L471.4,1395.9 L472.0,1396.1 L472.6,1394.8 L473.3,1392.2 L473.9,1394.0 L474.5,1392.0 L475.1,1392.0 L475.7,1389.8 L476.4,1389.8 L477.0,1391.1 L477.6,1392.4 L478.2,1392.7 L478.8,1392.2 L479.5,1393.4 L480.1,1393.9 L480.7,1392.4 L481.3,1393.5 L481.9,1394.3 L482.6,1395.4 L483.2,1393.9 L483.8,1394.0 L484.4,1394.5 L485.0,1393.9 L485.7,1394.7 L486.3,1396.6 L487.0,1396.8 L487.6,1395.3 L488.3,1397.2 L488.9,1395.4 L489.6,1397.5 L490.2,1395.9 L490.8,1395.2 L491.5,1395.7 L492.2,1396.1 L492.8,1394.7 L493.5,1396.2 L494.2,1396.4 L494.8,1393.3 L495.5,1393.6 L496.1,1394.1 L496.8,1394.0 L497.4,1392.9 L498.0,1395.6 L498.7,1396.8 L499.3,1393.6 L499.9,1394.0 L500.5,1394.4 L501.2,1394.2 L501.8,1395.4 L502.4,1397.9 L503.0,1395.5 L503.6,1398.2 L504.3,1397.2 L504.9,1395.9 L505.5,1399.3 L506.1,1398.2 L506.7,1397.8 L507.4,1397.5 L508.0,1398.7 L508.6,1398.3 L509.2,1398.7 L509.8,1398.4 L510.5,1399.3 L511.1,1398.7 L511.7,1397.6 L512.4,1397.8 L513.0,1398.5 L513.6,1398.2 L514.2,1396.2 L514.9,1397.4 L515.5,1399.0 L516.1,1399.6 L516.8,1400.4 L517.4,1401.0 L518.1,1401.4 L518.7,1403.5 L519.3,1402.8 L519.9,1400.2 L520.5,1402.3 L521.1,1402.5 L521.7,1398.9 L522.3,1399.9 L522.9,1398.1" fill="none" stroke="#4A7EBB" stroke-width="5.00" stroke-linejoin="round" stroke-linecap="round"/>
</g>
<line x1="160.0" y1="1231.8" x2="160.0" y2="1457.2" stroke="#868686" stroke-width="1.3"/>
<line x1="523.7" y1="1231.8" x2="523.7" y2="1457.2" stroke="#868686" stroke-width="1.3"/>
<line x1="160.0" y1="1452.2" x2="160.0" y2="1457.2" stroke="#868686" stroke-width="1.3"/>
<line x1="212.0" y1="1452.2" x2="212.0" y2="1457.2" stroke="#868686" stroke-width="1.3"/>
<line x1="263.9" y1="1452.2" x2="263.9" y2="1457.2" stroke="#868686" stroke-width="1.3"/>
<line x1="315.9" y1="1452.2" x2="315.9" y2="1457.2" stroke="#868686" stroke-width="1.3"/>
<line x1="367.8" y1="1452.2" x2="367.8" y2="1457.2" stroke="#868686" stroke-width="1.3"/>
<line x1="419.8" y1="1452.2" x2="419.8" y2="1457.2" stroke="#868686" stroke-width="1.3"/>
<line x1="471.7" y1="1452.2" x2="471.7" y2="1457.2" stroke="#868686" stroke-width="1.3"/>
<line x1="523.7" y1="1452.2" x2="523.7" y2="1457.2" stroke="#868686" stroke-width="1.3"/>
<line x1="523.7" y1="1231.8" x2="528.7" y2="1231.8" stroke="#868686" stroke-width="1.3"/>
<line x1="523.7" y1="1256.3" x2="528.7" y2="1256.3" stroke="#868686" stroke-width="1.3"/>
<line x1="523.7" y1="1280.8" x2="528.7" y2="1280.8" stroke="#868686" stroke-width="1.3"/>
<line x1="523.7" y1="1305.3" x2="528.7" y2="1305.3" stroke="#868686" stroke-width="1.3"/>
<line x1="523.7" y1="1329.8" x2="528.7" y2="1329.8" stroke="#868686" stroke-width="1.3"/>
<line x1="523.7" y1="1354.2" x2="528.7" y2="1354.2" stroke="#868686" stroke-width="1.3"/>
<line x1="523.7" y1="1378.7" x2="528.7" y2="1378.7" stroke="#868686" stroke-width="1.3"/>
<line x1="523.7" y1="1403.2" x2="528.7" y2="1403.2" stroke="#868686" stroke-width="1.3"/>
<line x1="523.7" y1="1427.7" x2="528.7" y2="1427.7" stroke="#868686" stroke-width="1.3"/>
<line x1="523.7" y1="1452.2" x2="528.7" y2="1452.2" stroke="#868686" stroke-width="1.3"/>
<text x="145.5" y="1237.2" font-size="15" text-anchor="end" font-family='"Liberation Sans","Noto Sans CJK SC",sans-serif' font-weight="normal" fill="#1c1c1c" textLength="36.0" lengthAdjust="spacingAndGlyphs" >30000</text>
<text x="145.5" y="1273.9" font-size="15" text-anchor="end" font-family='"Liberation Sans","Noto Sans CJK SC",sans-serif' font-weight="normal" fill="#1c1c1c" textLength="36.0" lengthAdjust="spacingAndGlyphs" >25000</text>
<text x="145.5" y="1310.7" font-size="15" text-anchor="end" font-family='"Liberation Sans","Noto Sans CJK SC",sans-serif' font-weight="normal" fill="#1c1c1c" textLength="36.0" lengthAdjust="spacingAndGlyphs" >20000</text>
<text x="145.5" y="1347.4" font-size="15" text-anchor="end" font-family='"Liberation Sans","Noto Sans CJK SC",sans-serif' font-weight="normal" fill="#1c1c1c" textLength="36.0" lengthAdjust="spacingAndGlyphs" >15000</text>
<text x="145.5" y="1384.1" font-size="15" text-anchor="end" font-family='"Liberation Sans","Noto Sans CJK SC",sans-serif' font-weight="normal" fill="#1c1c1c" textLength="36.0" lengthAdjust="spacingAndGlyphs" >10000</text>
<text x="145.5" y="1420.9" font-size="15" text-anchor="end" font-family='"Liberation Sans","Noto Sans CJK SC",sans-serif' font-weight="normal" fill="#1c1c1c" textLength="29.0" lengthAdjust="spacingAndGlyphs" >5000</text>
<text x="145.5" y="1457.6" font-size="15" text-anchor="end" font-family='"Liberation Sans","Noto Sans CJK SC",sans-serif' font-weight="normal" fill="#1c1c1c" textLength="7.5" lengthAdjust="spacingAndGlyphs" >0</text>
<text x="537.5" y="1237.2" font-size="15" text-anchor="start" font-family='"Liberation Sans","Noto Sans CJK SC",sans-serif' font-weight="normal" fill="#1c1c1c" textLength="50.0" lengthAdjust="spacingAndGlyphs" >8,000.00</text>
<text x="537.5" y="1261.7" font-size="15" text-anchor="start" font-family='"Liberation Sans","Noto Sans CJK SC",sans-serif' font-weight="normal" fill="#1c1c1c" textLength="50.0" lengthAdjust="spacingAndGlyphs" >7,000.00</text>
<text x="537.5" y="1286.2" font-size="15" text-anchor="start" font-family='"Liberation Sans","Noto Sans CJK SC",sans-serif' font-weight="normal" fill="#1c1c1c" textLength="50.0" lengthAdjust="spacingAndGlyphs" >6,000.00</text>
<text x="537.5" y="1310.7" font-size="15" text-anchor="start" font-family='"Liberation Sans","Noto Sans CJK SC",sans-serif' font-weight="normal" fill="#1c1c1c" textLength="50.0" lengthAdjust="spacingAndGlyphs" >5,000.00</text>
<text x="537.5" y="1335.2" font-size="15" text-anchor="start" font-family='"Liberation Sans","Noto Sans CJK SC",sans-serif' font-weight="normal" fill="#1c1c1c" textLength="50.0" lengthAdjust="spacingAndGlyphs" >4,000.00</text>
<text x="537.5" y="1359.6" font-size="15" text-anchor="start" font-family='"Liberation Sans","Noto Sans CJK SC",sans-serif' font-weight="normal" fill="#1c1c1c" textLength="50.0" lengthAdjust="spacingAndGlyphs" >3,000.00</text>
<text x="537.5" y="1384.1" font-size="15" text-anchor="start" font-family='"Liberation Sans","Noto Sans CJK SC",sans-serif' font-weight="normal" fill="#1c1c1c" textLength="50.0" lengthAdjust="spacingAndGlyphs" >2,000.00</text>
<text x="537.5" y="1408.6" font-size="15" text-anchor="start" font-family='"Liberation Sans","Noto Sans CJK SC",sans-serif' font-weight="normal" fill="#1c1c1c" textLength="50.0" lengthAdjust="spacingAndGlyphs" >1,000.00</text>
<text x="537.5" y="1433.1" font-size="15" text-anchor="start" font-family='"Liberation Sans","Noto Sans CJK SC",sans-serif' font-weight="normal" fill="#1c1c1c" textLength="25.0" lengthAdjust="spacingAndGlyphs" >0.00</text>
<text x="537.5" y="1457.6" font-size="15" text-anchor="start" font-family='"Liberation Sans","Noto Sans CJK SC",sans-serif' font-weight="normal" fill="#1c1c1c" textLength="54.0" lengthAdjust="spacingAndGlyphs" >-1,000.00</text>
<text x="162.5" y="1476.8" font-size="14.5" text-anchor="end" font-family='"Liberation Sans","Noto Sans CJK SC",sans-serif' font-weight="normal" fill="#1c1c1c" textLength="76.0" lengthAdjust="spacingAndGlyphs" transform="rotate(-54 162.5 1476.8)" >2017-01-03</text>
<text x="214.5" y="1476.8" font-size="14.5" text-anchor="end" font-family='"Liberation Sans","Noto Sans CJK SC",sans-serif' font-weight="normal" fill="#1c1c1c" textLength="76.0" lengthAdjust="spacingAndGlyphs" transform="rotate(-54 214.5 1476.8)" >2018-01-03</text>
<text x="266.4" y="1476.8" font-size="14.5" text-anchor="end" font-family='"Liberation Sans","Noto Sans CJK SC",sans-serif' font-weight="normal" fill="#1c1c1c" textLength="76.0" lengthAdjust="spacingAndGlyphs" transform="rotate(-54 266.4 1476.8)" >2019-01-03</text>
<text x="318.4" y="1476.8" font-size="14.5" text-anchor="end" font-family='"Liberation Sans","Noto Sans CJK SC",sans-serif' font-weight="normal" fill="#1c1c1c" textLength="76.0" lengthAdjust="spacingAndGlyphs" transform="rotate(-54 318.4 1476.8)" >2020-01-03</text>
<text x="370.3" y="1476.8" font-size="14.5" text-anchor="end" font-family='"Liberation Sans","Noto Sans CJK SC",sans-serif' font-weight="normal" fill="#1c1c1c" textLength="76.0" lengthAdjust="spacingAndGlyphs" transform="rotate(-54 370.3 1476.8)" >2021-01-03</text>
<text x="422.3" y="1476.8" font-size="14.5" text-anchor="end" font-family='"Liberation Sans","Noto Sans CJK SC",sans-serif' font-weight="normal" fill="#1c1c1c" textLength="76.0" lengthAdjust="spacingAndGlyphs" transform="rotate(-54 422.3 1476.8)" >2022-01-03</text>
<text x="474.2" y="1476.8" font-size="14.5" text-anchor="end" font-family='"Liberation Sans","Noto Sans CJK SC",sans-serif' font-weight="normal" fill="#1c1c1c" textLength="76.0" lengthAdjust="spacingAndGlyphs" transform="rotate(-54 474.2 1476.8)" >2023-01-03</text>
<text x="526.2" y="1476.8" font-size="14.5" text-anchor="end" font-family='"Liberation Sans","Noto Sans CJK SC",sans-serif' font-weight="normal" fill="#1c1c1c" textLength="76.0" lengthAdjust="spacingAndGlyphs" transform="rotate(-54 526.2 1476.8)" >2024-01-03</text>
<rect x="113.8" y="1561" width="29.5" height="15" rx="2.5" fill="#FAA20C"/>
<line x1="119.0" y1="1568.5" x2="139.0" y2="1568.5" stroke="#9BBB59" stroke-width="2.5"/>
<text x="145.4" y="1575.0" font-size="16" text-anchor="start" font-family='"Liberation Sans","Noto Sans CJK SC",sans-serif' font-weight="500" fill="#1c1c1c" textLength="26.5" lengthAdjust="spacingAndGlyphs" >基差</text>
<line x1="192.5" y1="1568.5" x2="220.0" y2="1568.5" stroke="#2E7F6E" stroke-width="4.2" stroke-linecap="round"/>
<text x="222.0" y="1575.0" font-size="16" text-anchor="start" font-family='"Liberation Sans","Noto Sans CJK SC",sans-serif' font-weight="500" fill="#1c1c1c" textLength="169.5" lengthAdjust="spacingAndGlyphs" >期货收盘价(活跃合约):棕榈油</text>
<line x1="411.5" y1="1568.5" x2="439.0" y2="1568.5" stroke="#4A7EBB" stroke-width="4.2" stroke-linecap="round"/>
<text x="441.0" y="1575.0" font-size="16" text-anchor="start" font-family='"Liberation Sans","Noto Sans CJK SC",sans-serif' font-weight="500" fill="#1c1c1c" textLength="146.0" lengthAdjust="spacingAndGlyphs" >现货价:棕榈油(24度):广东</text>
<line x1="709.5" y1="1277.1" x2="1065.3" y2="1277.1" stroke="#868686" stroke-width="1.3"/>
<line x1="709.5" y1="1308.3" x2="1065.3" y2="1308.3" stroke="#868686" stroke-width="1.3"/>
<line x1="709.5" y1="1339.6" x2="1065.3" y2="1339.6" stroke="#868686" stroke-width="1.3"/>
<line x1="709.5" y1="1370.8" x2="1065.3" y2="1370.8" stroke="#868686" stroke-width="1.3"/>
<line x1="709.5" y1="1402.1" x2="1065.3" y2="1402.1" stroke="#868686" stroke-width="1.3"/>
<line x1="709.5" y1="1433.3" x2="1065.3" y2="1433.3" stroke="#868686" stroke-width="1.3"/>
<line x1="709.5" y1="1464.6" x2="1065.3" y2="1464.6" stroke="#868686" stroke-width="1.3"/>
<line x1="709.5" y1="1495.8" x2="1065.3" y2="1495.8" stroke="#868686" stroke-width="1.3"/>
<clipPath id="c6clip"><rect x="714.5" y="1269.1" width="350.8" height="226.7"/></clipPath><g clip-path="url(#c6clip)">
<path d="M714.5,1423.1 L715.1,1424.8 L715.7,1423.1 L716.3,1424.1 L716.9,1425.2 L717.5,1422.0 L718.1,1422.7 L718.7,1420.6 L719.3,1422.1 L719.9,1420.3 L720.5,1424.6 L721.2,1424.0 L721.8,1427.0 L722.4,1427.7 L723.0,1429.1 L723.6,1431.5 L724.2,1431.8 L725.0,1437.2 L725.8,1440.2 L726.4,1440.9 L727.0,1441.4 L727.6,1441.4 L728.2,1441.4 L728.8,1441.4 L729.4,1441.4 L730.0,1441.4 L730.6,1441.4 L731.2,1441.4 L731.8,1441.4 L732.4,1441.4 L733.0,1441.4 L733.8,1440.7 L734.6,1438.2 L735.3,1438.3 L735.9,1439.1 L736.5,1438.7 L737.1,1439.4 L737.7,1438.5 L738.3,1438.6 L738.9,1439.4 L739.5,1438.5 L740.3,1440.8 L741.1,1441.4 L741.7,1441.4 L742.3,1441.4 L742.9,1441.4 L743.5,1441.4 L744.1,1441.4 L744.7,1441.4 L745.3,1441.4 L745.9,1441.4 L746.5,1441.4 L747.1,1441.4 L747.7,1441.4 L748.3,1441.4 L749.2,1440.1 L750.0,1436.9 L750.6,1437.5 L751.3,1438.1 L752.0,1436.6 L752.6,1437.8 L753.3,1437.7 L754.0,1437.6 L754.8,1439.0 L755.6,1440.2 L756.3,1441.4 L756.9,1441.4 L757.6,1441.4 L758.3,1441.4 L759.0,1441.4 L759.6,1441.4 L760.2,1441.4 L760.8,1441.4 L761.4,1441.4 L762.0,1441.4 L762.6,1441.4 L763.2,1441.4 L763.8,1441.4 L764.4,1441.4 L765.0,1441.4 L765.6,1441.4 L766.2,1441.4 L766.8,1441.4 L767.4,1441.4 L768.0,1441.4 L768.6,1441.4 L769.2,1441.4 L769.8,1441.4 L770.4,1441.4 L771.0,1441.4 L771.6,1441.4 L772.2,1441.4 L772.8,1441.4 L773.4,1441.4 L774.0,1441.4 L774.6,1441.4 L775.2,1441.4 L775.8,1441.4 L776.4,1441.4 L777.0,1441.4 L777.6,1441.4 L778.2,1441.4 L778.8,1441.4 L779.4,1441.4 L780.0,1441.4 L780.6,1441.4 L781.2,1441.4 L781.8,1441.4 L782.4,1441.4 L783.0,1441.4 L783.6,1441.4 L784.2,1441.4 L784.8,1441.4 L785.4,1441.4 L786.0,1441.4 L786.6,1441.4 L787.2,1441.4 L787.8,1441.4 L788.4,1441.4 L789.0,1441.4 L789.6,1441.4 L790.2,1441.4 L790.9,1441.4 L791.5,1441.4 L792.1,1441.4 L792.7,1441.4 L793.3,1441.4 L793.9,1441.4 L794.5,1441.4 L795.1,1441.4 L795.7,1441.4 L796.3,1441.4 L796.9,1441.4 L797.5,1441.4 L798.1,1441.4 L798.7,1441.4 L799.3,1441.4 L799.9,1441.4 L800.5,1441.4 L801.1,1441.4 L801.7,1441.4 L802.3,1441.4 L802.9,1441.4 L803.5,1441.4 L804.1,1441.4 L804.7,1441.4 L805.3,1441.4 L805.9,1441.4 L806.5,1441.4 L807.1,1441.4 L807.7,1441.4 L808.3,1441.4 L808.9,1441.4 L809.5,1441.4 L810.1,1441.4 L810.7,1441.4 L811.3,1441.4 L811.9,1441.4 L812.5,1441.4 L813.1,1441.4 L813.7,1441.4 L814.3,1441.4 L814.9,1441.4 L815.5,1441.4 L816.1,1441.4 L816.7,1441.4 L817.3,1441.4 L817.9,1441.4 L818.5,1441.4 L819.1,1441.4 L819.7,1441.4 L820.3,1441.4 L820.9,1441.4 L821.7,1441.4 L822.5,1440.4 L823.1,1438.5 L823.8,1438.7 L824.9,1441.4 L825.5,1441.4 L826.1,1441.4 L826.7,1441.4 L827.4,1441.4 L828.0,1441.4 L828.6,1441.4 L829.2,1441.4 L829.8,1441.4 L830.4,1441.4 L831.1,1441.4 L831.7,1441.4 L832.3,1441.4 L832.9,1441.4 L833.5,1441.4 L834.1,1441.4 L834.8,1441.4 L835.4,1441.4 L836.0,1441.4 L836.6,1441.4 L837.2,1441.4 L837.8,1441.4 L838.5,1441.4 L839.1,1441.4 L839.7,1441.4 L840.3,1441.4 L840.9,1441.4 L841.5,1441.4 L842.2,1441.4 L842.8,1441.4 L843.4,1441.4 L844.0,1441.4 L844.6,1441.4 L845.2,1441.4 L845.9,1441.4 L846.3,1434.0 L847.0,1433.0 L847.6,1433.9 L848.3,1433.2 L848.9,1434.0 L849.6,1432.3 L850.2,1434.5 L850.8,1433.1 L851.5,1434.2 L852.3,1434.6 L853.1,1436.5 L853.9,1432.1 L854.7,1429.5 L855.5,1424.4 L856.3,1422.9 L857.0,1422.5 L857.6,1426.9 L858.3,1427.4 L858.9,1427.8 L859.5,1430.9 L860.2,1429.7 L860.8,1428.6 L861.4,1424.2 L862.0,1425.4 L862.6,1423.5 L863.2,1421.0 L863.8,1416.0 L864.4,1418.8 L865.0,1415.3 L865.7,1415.4 L866.3,1415.9 L867.0,1411.9 L867.6,1409.5 L868.2,1415.3 L868.8,1411.5 L869.4,1410.3 L870.0,1411.1 L870.7,1422.1 L871.3,1427.1 L872.1,1441.4 L872.8,1441.4 L873.4,1441.4 L874.1,1441.4 L874.8,1441.4 L875.4,1441.4 L876.1,1441.4 L876.8,1441.4 L877.4,1441.4 L878.1,1441.4 L878.6,1435.2 L879.2,1431.3 L879.9,1429.9 L880.0,1428.3 L880.6,1427.9 L881.2,1426.1 L881.8,1426.9 L882.4,1428.6 L883.0,1425.0 L883.6,1426.3 L884.2,1424.7 L884.8,1428.0 L885.4,1424.9 L886.0,1428.2 L886.6,1428.0 L887.3,1427.8 L887.9,1425.5 L888.5,1428.1 L889.1,1427.5 L889.7,1427.7 L890.3,1424.8 L890.9,1424.6 L891.5,1424.2 L892.1,1419.6 L892.8,1420.8 L893.4,1416.1 L894.1,1412.7 L894.8,1410.0 L895.4,1409.0 L896.1,1407.9 L896.7,1408.9 L897.3,1412.6 L897.9,1411.7 L898.5,1413.3 L899.1,1415.9 L899.7,1410.7 L900.3,1409.0 L901.0,1410.6 L901.6,1412.1 L902.2,1412.7 L902.9,1416.0 L903.5,1415.7 L904.2,1421.8 L905.0,1417.2 L905.8,1417.1 L906.5,1416.1 L907.1,1416.5 L907.8,1416.8 L908.5,1414.3 L909.1,1416.8 L909.8,1414.0 L910.6,1391.3 L911.4,1386.9 L912.2,1384.3 L912.8,1378.2 L913.4,1381.3 L914.0,1387.7 L914.6,1388.5 L915.3,1391.3 L915.9,1383.0 L916.5,1385.0 L917.1,1385.0 L917.7,1390.5 L918.3,1389.7 L918.9,1387.7 L919.5,1388.2 L920.1,1384.2 L920.7,1383.8 L921.3,1387.0 L921.9,1382.8 L922.5,1384.8 L923.2,1385.9 L923.8,1386.8 L924.5,1391.5 L925.1,1391.4 L925.9,1391.2 L926.7,1398.1 L927.5,1373.6 L928.1,1376.2 L928.8,1380.2 L929.4,1380.2 L930.0,1383.0 L930.6,1384.5 L931.2,1384.9 L931.8,1392.3 L932.4,1384.0 L933.0,1384.3 L933.6,1392.6 L934.2,1390.3 L934.8,1391.8 L935.4,1394.5 L936.1,1393.6 L936.7,1393.8 L937.4,1393.2 L938.0,1402.0 L938.6,1407.0 L939.2,1406.9 L939.8,1413.1 L940.4,1417.2 L941.0,1414.5 L941.6,1417.9 L942.2,1416.4 L942.9,1411.7 L943.7,1414.3 L944.5,1419.1 L945.1,1416.0 L945.8,1410.2 L946.4,1405.7 L947.0,1400.5 L947.7,1401.4 L948.3,1399.5 L949.0,1397.0 L949.6,1387.1 L950.3,1389.4 L950.9,1391.2 L951.5,1390.6 L952.1,1390.3 L952.7,1389.7 L953.3,1391.5 L954.0,1396.8 L954.6,1389.6 L955.2,1395.9 L955.8,1393.6 L956.5,1390.8 L957.1,1394.2 L957.7,1393.8 L958.3,1389.6 L959.0,1383.2 L959.8,1378.9 L960.6,1367.0 L961.2,1370.1 L961.8,1383.9 L962.4,1386.5 L963.0,1385.2 L963.7,1386.0 L964.3,1386.9 L965.0,1389.1 L965.7,1386.2 L966.4,1387.1 L967.0,1390.8 L967.6,1382.6 L968.2,1387.1 L968.8,1381.3 L969.4,1387.1 L970.0,1385.8 L970.7,1376.9 L971.3,1378.9 L971.9,1371.2 L972.5,1376.0 L973.2,1379.7 L973.8,1380.8 L974.4,1378.2 L975.1,1375.5 L975.7,1379.7 L976.4,1387.5 L977.0,1386.4 L977.7,1390.7 L978.3,1396.6 L978.9,1397.8 L979.5,1392.5 L980.1,1388.2 L980.7,1390.0 L981.3,1389.3 L981.9,1396.6 L982.5,1393.2 L983.1,1396.7 L983.7,1395.8 L984.4,1397.8 L985.0,1388.2 L985.6,1385.9 L986.4,1314.8 L987.0,1306.7 L987.7,1299.9 L988.3,1291.9 L988.9,1333.8 L989.6,1360.2 L990.4,1379.1 L991.2,1396.2 L991.8,1400.5 L992.5,1402.6 L993.1,1399.4 L993.8,1404.5 L994.4,1400.0 L995.2,1396.3 L996.0,1381.3 L996.6,1381.6 L997.2,1376.3 L997.8,1373.3 L998.5,1369.8 L999.1,1380.4 L999.7,1374.4 L1000.3,1379.5 L1000.9,1377.3 L1001.7,1368.5 L1002.5,1353.8 L1003.1,1355.9 L1003.7,1360.8 L1004.3,1368.4 L1004.9,1368.8 L1005.5,1363.7 L1006.1,1375.8 L1006.7,1374.5 L1007.3,1372.4 L1007.9,1375.7 L1008.5,1375.9 L1009.1,1384.1 L1009.7,1381.6 L1010.3,1379.8 L1010.9,1379.7 L1011.5,1381.1 L1012.2,1381.8 L1012.8,1383.5 L1013.4,1389.4 L1014.1,1390.3 L1014.7,1390.2 L1015.4,1393.1 L1016.0,1390.6 L1016.7,1384.9 L1017.3,1384.1 L1018.0,1385.3 L1018.6,1386.2 L1019.2,1388.9 L1019.9,1391.9 L1020.5,1389.4 L1021.2,1387.6 L1021.8,1385.6 L1022.5,1394.1 L1023.2,1392.5 L1023.8,1389.1 L1024.5,1387.0 L1025.2,1397.1 L1025.9,1390.8 L1026.5,1395.4 L1027.1,1387.0 L1027.8,1391.3 L1028.4,1387.1 L1029.1,1391.6 L1029.7,1387.0 L1030.4,1386.7 L1031.0,1389.4 L1031.7,1396.8 L1032.3,1400.0 L1032.9,1399.4 L1033.6,1402.2 L1034.2,1401.6 L1034.9,1404.2 L1035.5,1405.6 L1036.2,1413.3 L1036.8,1408.8 L1037.5,1413.9 L1038.1,1414.0 L1038.7,1414.8 L1039.3,1417.4 L1040.0,1421.1 L1040.6,1418.9 L1041.2,1419.8 L1041.8,1419.2 L1042.4,1416.6 L1043.0,1412.9 L1043.6,1407.9 L1044.2,1410.6 L1044.9,1403.0 L1045.5,1401.2 L1046.2,1399.6 L1046.8,1399.7 L1047.4,1401.6 L1048.0,1404.4 L1048.6,1407.9 L1049.2,1411.2 L1049.8,1408.8 L1050.4,1406.6 L1051.0,1412.4 L1051.6,1407.7 L1052.2,1410.3 L1052.8,1409.8 L1053.4,1413.3 L1054.1,1415.0 L1054.7,1411.7 L1055.3,1413.4 L1056.0,1417.2 L1056.6,1416.9 L1057.3,1414.3 L1057.9,1418.7 L1058.5,1420.4 L1059.1,1419.7 L1059.7,1419.7 L1060.5,1410.3 L1061.3,1395.5 L1062.0,1393.9 L1062.6,1394.1 L1063.2,1396.3 L1063.9,1393.8 L1064.5,1396.1 L1065.3,1441.4 L1065.3,1441.4 L1064.7,1441.4 L1064.1,1441.4 L1063.5,1441.4 L1062.9,1441.4 L1062.3,1441.4 L1061.7,1441.4 L1061.1,1441.4 L1060.5,1441.4 L1059.9,1441.4 L1059.3,1441.4 L1058.7,1441.4 L1058.1,1441.4 L1057.5,1441.4 L1056.9,1441.4 L1056.3,1441.4 L1055.7,1441.4 L1055.1,1441.4 L1054.5,1441.4 L1053.9,1441.4 L1053.3,1441.4 L1052.7,1441.4 L1052.1,1441.4 L1051.5,1441.4 L1050.9,1441.4 L1050.3,1441.4 L1049.7,1441.4 L1049.1,1441.4 L1048.5,1441.4 L1047.9,1441.4 L1047.3,1441.4 L1046.6,1441.4 L1046.0,1441.4 L1045.4,1441.4 L1044.8,1441.4 L1044.2,1441.4 L1043.6,1441.4 L1043.0,1441.4 L1042.4,1441.4 L1041.8,1441.4 L1041.2,1441.4 L1040.6,1441.4 L1040.0,1441.4 L1039.4,1441.4 L1038.8,1441.4 L1038.2,1441.4 L1037.6,1441.4 L1037.0,1441.4 L1036.4,1441.4 L1035.8,1441.4 L1035.2,1441.4 L1034.6,1441.4 L1034.0,1441.4 L1033.4,1441.4 L1032.8,1441.4 L1032.2,1441.4 L1031.6,1441.4 L1031.0,1441.4 L1030.4,1441.4 L1029.8,1441.4 L1029.2,1441.4 L1028.6,1441.4 L1028.0,1441.4 L1027.4,1441.4 L1026.8,1441.4 L1026.2,1441.4 L1025.6,1441.4 L1025.0,1441.4 L1024.3,1441.4 L1023.7,1441.4 L1023.1,1441.4 L1022.5,1441.4 L1021.9,1441.4 L1021.3,1441.4 L1020.7,1441.4 L1020.1,1441.4 L1019.5,1441.4 L1018.9,1441.4 L1018.3,1441.4 L1017.7,1441.4 L1017.1,1441.4 L1016.5,1441.4 L1015.9,1441.4 L1015.3,1441.4 L1014.7,1441.4 L1014.1,1441.4 L1013.5,1441.4 L1012.9,1441.4 L1012.3,1441.4 L1011.7,1441.4 L1011.1,1441.4 L1010.5,1441.4 L1009.9,1441.4 L1009.3,1441.4 L1008.7,1441.4 L1008.1,1441.4 L1007.5,1441.4 L1006.9,1441.4 L1006.3,1441.4 L1005.7,1441.4 L1005.1,1441.4 L1004.5,1441.4 L1003.9,1441.4 L1003.3,1441.4 L1002.6,1441.4 L1002.0,1441.4 L1001.4,1441.4 L1000.8,1441.4 L1000.2,1441.4 L999.6,1441.4 L999.0,1441.4 L998.4,1441.4 L997.8,1441.4 L997.2,1441.4 L996.6,1441.4 L996.0,1441.4 L995.4,1441.4 L994.8,1441.4 L994.2,1441.4 L993.6,1441.4 L993.0,1441.4 L992.4,1441.4 L991.8,1441.4 L991.2,1441.4 L990.6,1441.4 L990.0,1441.4 L989.4,1441.4 L988.8,1441.4 L988.2,1441.4 L987.6,1441.4 L987.0,1441.4 L986.4,1441.4 L985.8,1441.4 L985.2,1441.4 L984.6,1441.4 L984.0,1441.4 L983.4,1441.4 L982.8,1441.4 L982.2,1441.4 L981.6,1441.4 L981.0,1441.4 L980.3,1441.4 L979.7,1441.4 L979.1,1441.4 L978.5,1441.4 L977.9,1441.4 L977.3,1441.4 L976.7,1441.4 L976.1,1441.4 L975.5,1441.4 L974.9,1441.4 L974.3,1441.4 L973.7,1441.4 L973.1,1441.4 L972.5,1441.4 L971.9,1441.4 L971.3,1441.4 L970.7,1441.4 L970.1,1441.4 L969.5,1441.4 L968.9,1441.4 L968.3,1441.4 L967.7,1441.4 L967.1,1441.4 L966.5,1441.4 L965.9,1441.4 L965.3,1441.4 L964.7,1441.4 L964.1,1441.4 L963.5,1441.4 L962.9,1441.4 L962.3,1441.4 L961.7,1441.4 L961.1,1441.4 L960.5,1441.4 L959.9,1441.4 L959.3,1441.4 L958.6,1441.4 L958.0,1441.4 L957.4,1441.4 L956.8,1441.4 L956.2,1441.4 L955.6,1441.4 L955.0,1441.4 L954.4,1441.4 L953.8,1441.4 L953.2,1441.4 L952.6,1441.4 L952.0,1441.4 L951.4,1441.4 L950.8,1441.4 L950.2,1441.4 L949.6,1441.4 L949.0,1441.4 L948.4,1441.4 L947.8,1441.4 L947.2,1441.4 L946.6,1441.4 L946.0,1441.4 L945.4,1441.4 L944.8,1441.4 L944.3,1448.9 L943.7,1448.2 L943.0,1449.8 L942.5,1441.4 L941.9,1441.4 L941.3,1441.4 L940.7,1441.4 L940.1,1441.4 L939.5,1441.4 L938.9,1441.4 L938.3,1441.4 L937.7,1441.4 L937.1,1441.4 L936.5,1441.4 L935.9,1441.4 L935.3,1441.4 L934.7,1441.4 L934.1,1441.4 L933.5,1441.4 L932.9,1441.4 L932.3,1441.4 L931.7,1441.4 L931.1,1441.4 L930.5,1441.4 L929.9,1441.4 L929.3,1441.4 L928.7,1441.4 L928.1,1441.4 L927.5,1441.4 L926.9,1441.4 L926.3,1441.4 L925.7,1441.4 L925.1,1441.4 L924.5,1441.4 L923.9,1441.4 L923.3,1441.4 L922.7,1441.4 L922.1,1441.4 L921.5,1441.4 L920.9,1441.4 L920.3,1441.4 L919.7,1441.4 L919.1,1441.4 L918.5,1441.4 L917.9,1441.4 L917.3,1441.4 L916.7,1441.4 L916.1,1441.4 L915.5,1441.4 L914.9,1441.4 L914.3,1441.4 L913.7,1441.4 L913.1,1441.4 L912.5,1441.4 L911.9,1441.4 L911.3,1441.4 L910.7,1441.4 L910.1,1441.4 L909.5,1441.4 L908.9,1441.4 L908.3,1441.4 L907.7,1441.4 L907.1,1441.4 L906.5,1441.4 L905.9,1441.4 L905.3,1441.4 L904.7,1441.4 L904.1,1441.4 L903.4,1441.4 L902.8,1441.4 L902.2,1441.4 L901.6,1441.4 L901.0,1441.4 L900.4,1441.4 L899.8,1441.4 L899.2,1441.4 L898.6,1441.4 L898.0,1441.4 L897.4,1441.4 L896.8,1441.4 L896.2,1441.4 L895.6,1441.4 L895.0,1441.4 L894.4,1441.4 L893.8,1441.4 L893.2,1441.4 L892.6,1441.4 L892.0,1441.4 L891.4,1441.4 L890.8,1441.4 L890.2,1441.4 L889.6,1441.4 L889.0,1441.4 L888.4,1441.4 L887.8,1441.4 L887.2,1441.4 L886.6,1441.4 L886.0,1441.4 L885.4,1441.4 L884.8,1441.4 L884.2,1441.4 L883.6,1441.4 L883.0,1441.4 L882.4,1441.4 L881.8,1441.4 L881.2,1441.4 L880.6,1441.4 L880.0,1441.4 L879.9,1441.4 L879.2,1441.4 L878.6,1441.4 L878.1,1441.7 L877.3,1445.1 L876.5,1449.8 L875.7,1452.5 L874.9,1457.8 L874.1,1452.8 L873.2,1449.3 L872.1,1441.4 L871.5,1441.4 L870.9,1441.4 L870.3,1441.4 L869.7,1441.4 L869.1,1441.4 L868.5,1441.4 L867.9,1441.4 L867.3,1441.4 L866.7,1441.4 L866.1,1441.4 L865.5,1441.4 L864.9,1441.4 L864.3,1441.4 L863.7,1441.4 L863.1,1441.4 L862.5,1441.4 L861.9,1441.4 L861.3,1441.4 L860.7,1441.4 L860.1,1441.4 L859.4,1441.4 L858.8,1441.4 L858.2,1441.4 L857.6,1441.4 L857.0,1441.4 L856.4,1441.4 L855.8,1441.4 L855.2,1441.4 L854.6,1441.4 L854.0,1441.4 L853.4,1441.4 L852.8,1441.4 L852.2,1441.4 L851.6,1441.4 L851.0,1441.4 L850.4,1441.4 L849.8,1441.4 L849.2,1441.4 L848.6,1441.4 L848.0,1441.4 L847.4,1441.4 L846.8,1441.4 L846.2,1441.4 L845.5,1448.0 L844.7,1455.1 L843.9,1461.0 L843.3,1459.2 L842.7,1456.4 L842.1,1458.4 L841.4,1456.6 L840.8,1456.9 L840.2,1453.3 L839.6,1453.5 L838.9,1453.3 L838.3,1454.9 L837.6,1452.9 L837.0,1454.2 L836.3,1451.7 L835.7,1453.0 L835.1,1452.0 L834.4,1451.8 L833.8,1450.5 L833.2,1450.4 L832.6,1452.5 L832.0,1451.4 L831.3,1449.7 L830.7,1450.4 L830.1,1452.2 L829.4,1454.2 L828.8,1455.4 L828.1,1456.5 L827.5,1454.1 L826.9,1449.9 L826.3,1448.8 L825.7,1446.2 L825.1,1444.7 L824.4,1444.4 L823.8,1443.8 L823.0,1444.6 L822.3,1445.9 L821.6,1446.7 L820.9,1447.6 L820.2,1447.3 L819.6,1448.6 L818.9,1449.2 L818.3,1450.1 L817.6,1449.8 L817.0,1453.8 L816.4,1455.5 L815.8,1459.6 L815.2,1461.6 L814.6,1461.5 L813.9,1460.3 L813.2,1462.4 L812.5,1460.6 L811.9,1459.9 L811.2,1456.5 L810.6,1454.5 L809.9,1454.3 L809.3,1452.7 L808.6,1451.6 L808.0,1452.9 L807.4,1452.7 L806.7,1453.4 L806.1,1453.5 L805.5,1451.7 L804.9,1452.6 L804.3,1451.7 L803.6,1452.2 L803.0,1452.6 L802.4,1453.5 L801.8,1453.8 L801.2,1451.4 L800.5,1452.5 L799.9,1452.0 L799.3,1452.7 L798.6,1453.9 L798.0,1452.8 L797.3,1453.4 L796.7,1453.6 L796.1,1457.0 L795.4,1459.7 L794.8,1458.5 L794.1,1461.8 L793.5,1462.6 L792.8,1459.0 L792.2,1456.4 L791.5,1457.1 L790.9,1453.8 L790.2,1452.6 L789.6,1453.0 L789.0,1450.3 L788.4,1453.0 L787.8,1451.6 L787.2,1452.3 L786.6,1451.5 L786.0,1451.1 L785.4,1451.6 L784.8,1452.1 L784.2,1450.6 L783.6,1451.6 L783.0,1450.7 L782.4,1451.3 L781.8,1450.0 L781.2,1450.9 L780.6,1451.1 L780.0,1452.0 L779.4,1450.5 L778.8,1451.5 L778.2,1451.7 L777.6,1453.1 L777.0,1454.0 L776.3,1453.2 L775.7,1452.5 L775.1,1453.1 L774.5,1451.1 L773.8,1448.8 L773.2,1449.0 L772.5,1446.6 L771.9,1446.4 L771.2,1446.8 L770.6,1449.0 L769.9,1448.8 L769.3,1449.4 L768.7,1449.0 L768.1,1449.1 L767.5,1447.9 L766.9,1447.8 L766.3,1449.7 L765.7,1447.8 L765.1,1448.9 L764.5,1448.5 L763.8,1449.4 L763.1,1449.9 L762.4,1450.4 L761.8,1451.7 L761.1,1450.1 L760.4,1453.3 L759.8,1450.1 L759.2,1448.9 L758.6,1448.5 L758.0,1448.6 L757.4,1447.7 L756.8,1445.5 L756.2,1444.7 L755.6,1444.0 L754.9,1444.1 L754.3,1444.1 L753.6,1443.4 L752.9,1443.6 L752.2,1443.0 L751.6,1443.6 L750.9,1443.9 L750.3,1444.1 L749.6,1444.3 L749.0,1444.8 L748.3,1446.0 L747.7,1447.0 L747.1,1449.5 L746.5,1449.4 L745.9,1451.5 L745.3,1452.4 L744.6,1454.2 L744.0,1455.2 L743.4,1453.9 L742.7,1455.3 L742.1,1454.8 L741.5,1452.0 L740.9,1449.4 L740.3,1446.7 L739.5,1444.4 L738.7,1443.9 L738.1,1443.8 L737.4,1443.8 L736.8,1444.7 L736.2,1443.6 L735.5,1444.0 L734.9,1443.8 L734.3,1444.6 L733.7,1445.1 L733.0,1444.8 L732.2,1448.1 L731.4,1451.4 L730.6,1450.4 L729.8,1449.7 L729.2,1449.1 L728.6,1449.3 L728.0,1452.0 L727.4,1451.7 L726.6,1448.8 L725.8,1445.6 L725.0,1441.4 L724.4,1441.4 L723.7,1441.4 L723.1,1441.4 L722.5,1441.4 L721.9,1441.4 L721.3,1441.4 L720.7,1441.4 L720.1,1441.4 L719.4,1441.4 L718.8,1441.4 L718.2,1441.4 L717.6,1441.4 L717.0,1441.4 L716.4,1441.4 L715.7,1441.4 L715.1,1441.4 L714.5,1441.4Z" fill="#40AE9B" stroke="none"/>
<path d="M714.5,1384.5 L715.1,1384.8 L715.8,1386.3 L716.4,1386.7 L717.1,1386.4 L717.7,1383.5 L718.3,1385.7 L718.9,1383.8 L719.5,1385.2 L720.1,1388.6 L720.7,1387.5 L721.4,1388.2 L722.0,1389.8 L722.6,1389.6 L723.2,1392.7 L723.8,1394.6 L724.4,1393.9 L725.1,1398.0 L725.7,1397.0 L726.3,1400.1 L726.9,1400.8 L727.6,1401.2 L728.2,1401.9 L728.9,1405.4 L729.5,1405.8 L730.2,1404.5 L730.9,1405.3 L731.6,1406.3 L732.2,1406.4 L732.8,1405.9 L733.4,1405.2 L734.0,1406.5 L734.6,1409.6 L735.3,1408.5 L736.0,1407.2 L736.7,1406.8 L737.3,1404.3 L738.0,1403.3 L738.7,1403.6 L739.3,1401.0 L739.9,1402.5 L740.5,1399.3 L741.1,1399.9 L741.7,1400.1 L742.3,1398.1 L742.9,1400.4 L743.5,1399.0 L744.1,1397.2 L744.7,1397.3 L745.3,1397.9 L745.9,1397.3 L746.5,1395.0 L747.1,1394.3 L747.7,1396.5 L748.3,1394.7 L749.0,1395.3 L749.6,1398.2 L750.2,1399.9 L750.8,1401.1 L751.4,1398.9 L752.0,1397.7 L752.6,1400.7 L753.2,1401.7 L753.8,1400.6 L754.5,1398.7 L755.1,1399.5 L755.8,1399.0 L756.4,1400.1 L757.1,1403.1 L757.7,1401.5 L758.3,1400.8 L759.0,1403.6 L759.6,1402.8 L760.3,1403.4 L760.9,1405.0 L761.6,1408.5 L762.2,1407.5 L762.9,1407.6 L763.5,1408.0 L764.1,1406.7 L764.7,1407.2 L765.3,1408.7 L765.9,1407.6 L766.5,1409.2 L767.1,1407.2 L767.7,1406.0 L768.3,1407.7 L768.9,1407.6 L769.5,1409.5 L770.1,1406.8 L770.7,1408.4 L771.3,1408.7 L771.9,1407.5 L772.5,1406.0 L773.2,1406.8 L773.9,1407.3 L774.5,1405.9 L775.2,1404.9 L775.9,1405.1 L776.6,1404.4 L777.2,1404.1 L777.9,1403.3 L778.6,1404.5 L779.2,1405.7 L779.9,1407.9 L780.6,1409.6 L781.2,1408.0 L781.9,1406.3 L782.5,1405.1 L783.2,1406.2 L783.8,1407.0 L784.5,1406.3 L785.1,1408.4 L785.8,1411.2 L786.5,1410.2 L787.2,1412.8 L787.8,1412.2 L788.5,1412.4 L789.2,1413.3 L789.8,1410.8 L790.5,1410.3 L791.2,1412.7 L791.9,1409.7 L792.5,1408.6 L793.2,1408.3 L793.8,1408.7 L794.4,1407.8 L795.1,1408.2 L795.7,1407.4 L796.4,1404.1 L797.0,1403.0 L797.7,1402.3 L798.3,1403.5 L799.0,1402.2 L799.6,1403.6 L800.2,1404.5 L800.9,1402.9 L801.5,1405.0 L802.1,1404.7 L802.7,1407.4 L803.3,1406.4 L803.9,1407.6 L804.6,1408.2 L805.2,1407.7 L805.8,1410.1 L806.4,1408.3 L807.0,1408.8 L807.6,1409.7 L808.2,1412.7 L808.9,1412.6 L809.5,1410.9 L810.1,1411.7 L810.8,1413.6 L811.4,1415.6 L812.0,1413.7 L812.7,1414.5 L813.3,1412.6 L814.0,1411.7 L814.7,1410.3 L815.4,1409.1 L816.0,1410.3 L816.6,1410.7 L817.2,1410.7 L817.8,1409.8 L818.5,1409.2 L819.1,1406.4 L819.7,1404.7 L820.3,1407.2 L820.9,1407.4 L821.5,1407.8 L822.2,1406.8 L822.8,1406.4 L823.4,1409.2 L824.1,1408.9 L824.7,1406.9 L825.4,1407.6 L826.0,1408.1 L826.7,1407.4 L827.3,1411.1 L827.9,1412.4 L828.5,1412.7 L829.1,1409.5 L829.7,1410.2 L830.3,1409.3 L830.9,1411.7 L831.5,1413.1 L832.2,1413.7 L832.8,1413.9 L833.4,1411.2 L834.0,1409.6 L834.6,1409.3 L835.2,1412.4 L835.8,1413.5 L836.4,1412.7 L837.0,1411.1 L837.6,1413.1 L838.2,1410.8 L838.8,1410.8 L839.4,1409.4 L840.0,1413.0 L840.6,1412.0 L841.2,1413.1 L841.8,1413.7 L842.4,1410.1 L843.0,1408.6 L843.6,1405.4 L844.2,1403.0 L844.8,1402.8 L845.4,1398.6 L846.1,1399.4 L846.7,1397.1 L847.3,1397.7 L848.0,1398.5 L848.7,1402.0 L849.3,1400.0 L850.0,1401.2 L850.7,1400.9 L851.3,1403.1 L851.9,1401.2 L852.6,1400.6 L853.2,1399.0 L853.8,1398.8 L854.4,1396.2 L855.1,1394.8 L855.7,1395.1 L856.3,1394.3 L857.0,1395.7 L857.6,1394.1 L858.3,1396.1 L858.9,1396.7 L859.5,1396.5 L860.2,1394.1 L860.8,1393.0 L861.4,1389.6 L862.0,1387.5 L862.6,1386.7 L863.2,1384.8 L863.8,1382.8 L864.4,1384.0 L865.0,1386.9 L865.6,1388.5 L866.2,1388.5 L866.8,1391.7 L867.4,1394.4 L868.0,1395.7 L868.6,1395.6 L869.2,1398.0 L869.8,1399.4 L870.4,1400.6 L871.0,1401.8 L871.6,1406.4 L872.2,1408.4 L872.8,1411.6 L873.4,1410.8 L874.1,1412.1 L874.7,1412.6 L875.3,1410.7 L876.0,1410.9 L876.6,1411.8 L877.3,1411.8 L877.9,1413.4 L878.6,1412.6 L879.2,1412.3 L879.9,1411.8 L880.5,1412.4 L881.1,1410.3 L881.8,1407.6 L882.4,1410.3 L883.1,1410.3 L883.7,1407.1 L884.4,1405.5 L885.0,1404.9 L885.7,1406.2 L886.3,1404.2 L886.9,1402.5 L887.6,1402.8 L888.2,1400.1 L888.9,1399.3 L889.5,1398.7 L890.2,1397.0 L890.8,1394.7 L891.5,1394.0 L892.1,1393.0 L892.7,1392.1 L893.4,1391.3 L894.0,1390.0 L894.6,1388.5 L895.2,1385.9 L895.8,1387.5 L896.4,1386.9 L897.0,1384.8 L897.6,1381.2 L898.2,1379.9 L898.8,1381.4 L899.4,1379.3 L900.0,1376.6 L900.6,1379.4 L901.3,1381.3 L901.9,1379.2 L902.6,1380.4 L903.2,1378.7 L903.9,1374.9 L904.6,1372.9 L905.2,1372.1 L905.9,1370.7 L906.6,1368.6 L907.3,1368.1 L907.9,1366.6 L908.6,1364.3 L909.3,1362.9 L909.9,1365.4 L910.6,1366.3 L911.3,1365.0 L911.9,1359.9 L912.6,1359.6 L913.2,1355.8 L913.8,1353.9 L914.5,1354.6 L915.2,1358.5 L915.9,1360.6 L916.5,1362.4 L917.2,1362.0 L917.9,1365.0 L918.5,1358.5 L919.1,1354.7 L919.7,1351.0 L920.4,1345.2 L921.0,1340.9 L921.6,1335.4 L922.2,1333.6 L922.9,1334.2 L923.5,1335.5 L924.2,1338.0 L924.8,1341.8 L925.4,1344.6 L926.1,1346.6 L926.7,1350.1 L927.3,1349.2 L927.9,1345.9 L928.5,1345.4 L929.2,1343.0 L929.8,1341.8 L930.4,1340.3 L931.0,1338.8 L931.6,1338.7 L932.2,1341.6 L932.9,1342.0 L933.6,1339.9 L934.3,1339.8 L934.9,1341.5 L935.6,1342.0 L936.2,1342.0 L936.9,1343.4 L937.5,1347.1 L938.2,1349.9 L938.8,1350.0 L939.5,1351.5 L940.1,1349.4 L940.7,1349.6 L941.3,1349.0 L942.0,1347.5 L942.6,1349.0 L943.2,1346.9 L943.8,1345.7 L944.5,1345.3 L945.1,1346.1 L945.7,1346.7 L946.3,1345.6 L946.9,1343.9 L947.5,1343.6 L948.1,1342.7 L948.7,1343.4 L949.3,1343.4 L950.0,1339.9 L950.6,1334.5 L951.3,1332.1 L952.0,1329.0 L952.7,1325.1 L953.3,1324.2 L954.0,1324.4 L954.7,1327.5 L955.3,1328.9 L956.0,1330.2 L956.7,1333.0 L957.4,1335.2 L958.0,1337.8 L958.6,1339.6 L959.2,1340.3 L959.9,1339.0 L960.5,1341.0 L961.1,1341.8 L961.7,1344.7 L962.4,1344.6 L963.0,1344.9 L963.6,1340.9 L964.2,1339.8 L964.8,1338.4 L965.4,1335.5 L966.0,1332.1 L966.6,1331.1 L967.2,1327.6 L967.8,1325.3 L968.5,1322.6 L969.2,1318.9 L969.8,1315.8 L970.5,1312.4 L971.2,1308.2 L971.9,1303.2 L972.5,1304.2 L973.2,1308.0 L973.8,1312.4 L974.4,1312.4 L975.1,1313.9 L975.8,1312.2 L976.4,1312.6 L977.1,1310.8 L977.8,1310.6 L978.4,1306.4 L979.1,1304.4 L979.8,1303.4 L980.5,1303.0 L981.1,1302.4 L981.8,1301.4 L982.5,1302.8 L983.1,1300.5 L983.8,1300.3 L984.4,1301.6 L985.1,1300.6 L985.7,1299.8 L986.4,1300.3 L987.0,1301.0 L987.6,1301.4 L988.2,1306.9 L988.8,1308.8 L989.4,1314.4 L990.0,1317.9 L990.6,1325.5 L991.2,1330.4 L991.8,1330.8 L992.4,1329.2 L993.0,1331.0 L993.6,1329.2 L994.2,1327.8 L994.8,1329.6 L995.4,1327.3 L996.0,1326.3 L996.7,1328.6 L997.3,1332.6 L998.0,1331.5 L998.6,1332.4 L999.3,1336.2 L999.9,1331.5 L1000.6,1329.5 L1001.3,1328.7 L1001.9,1326.6 L1002.6,1324.6 L1003.3,1319.4 L1004.0,1323.3 L1004.6,1323.7 L1005.3,1326.8 L1006.0,1327.7 L1006.6,1330.8 L1007.3,1331.4 L1007.9,1331.6 L1008.5,1332.2 L1009.1,1334.9 L1009.7,1335.0 L1010.3,1336.5 L1010.9,1341.1 L1011.5,1342.6 L1012.2,1345.4 L1012.8,1343.1 L1013.4,1343.7 L1014.0,1344.0 L1014.6,1342.7 L1015.2,1342.9 L1015.8,1346.0 L1016.4,1346.4 L1017.0,1345.8 L1017.6,1345.6 L1018.2,1346.3 L1018.8,1346.7 L1019.4,1345.1 L1020.0,1341.9 L1020.6,1343.9 L1021.2,1341.4 L1021.8,1340.5 L1022.5,1341.8 L1023.1,1345.1 L1023.8,1347.9 L1024.4,1349.6 L1025.0,1351.5 L1025.6,1351.7 L1026.3,1355.2 L1026.9,1356.8 L1027.5,1357.5 L1028.1,1360.9 L1028.7,1363.7 L1029.3,1365.7 L1029.9,1367.7 L1030.6,1365.4 L1031.2,1366.6 L1031.9,1368.1 L1032.6,1368.7 L1033.2,1371.9 L1033.9,1374.6 L1034.5,1370.9 L1035.1,1370.4 L1035.7,1371.5 L1036.3,1371.0 L1036.9,1368.4 L1037.5,1365.2 L1038.1,1364.9 L1038.7,1364.4 L1039.4,1365.2 L1040.1,1362.6 L1040.8,1361.7 L1041.4,1364.0 L1042.1,1360.5 L1042.8,1361.3 L1043.4,1358.4 L1044.1,1359.3 L1044.8,1357.6 L1045.5,1358.3 L1046.1,1354.9 L1046.8,1355.5 L1047.4,1354.5 L1048.1,1353.9 L1048.7,1354.5 L1049.3,1355.2 L1049.9,1357.4 L1050.6,1361.4 L1051.2,1360.9 L1051.8,1362.9 L1052.4,1361.4 L1053.0,1362.0 L1053.7,1362.1 L1054.3,1360.1 L1054.9,1361.0 L1055.5,1360.6 L1056.1,1359.7 L1056.7,1361.2 L1057.3,1361.0 L1057.9,1359.5 L1058.6,1359.3 L1059.3,1359.4 L1060.0,1360.9 L1060.6,1363.5 L1061.3,1366.5 L1062.0,1368.4 L1062.6,1369.4 L1063.3,1367.3 L1064.0,1369.9 L1064.7,1371.5 L1065.3,1371.5" fill="none" stroke="#FAA20C" stroke-width="5.00" stroke-linejoin="round" stroke-linecap="round"/>
<path d="M714.5,1385.1 L715.6,1384.5 L716.7,1384.0 L717.7,1383.5 L718.9,1385.3 L720.1,1387.1 L721.4,1388.9 L722.6,1390.7 L723.7,1393.4 L724.8,1396.2 L725.9,1398.9 L727.1,1401.7 L728.2,1404.4 L729.2,1404.2 L730.2,1404.0 L731.2,1403.8 L732.2,1403.6 L733.4,1405.6 L734.6,1407.6 L735.7,1406.2 L736.7,1404.8 L737.7,1403.4 L738.7,1402.0 L739.9,1401.2 L741.1,1400.4 L742.3,1399.6 L743.5,1398.8 L744.7,1398.2 L745.9,1397.6 L747.1,1397.0 L748.3,1396.3 L749.6,1397.6 L750.8,1398.8 L752.0,1400.0 L753.2,1401.2 L754.3,1400.9 L755.3,1400.6 L756.4,1400.4 L757.5,1401.7 L758.6,1403.1 L759.6,1404.4 L760.7,1405.7 L761.8,1407.1 L762.9,1408.4 L763.9,1408.3 L765.0,1408.3 L766.1,1408.2 L767.2,1408.1 L768.2,1408.0 L769.3,1407.9 L770.4,1407.8 L771.4,1407.7 L772.5,1407.6 L773.5,1406.6 L774.5,1405.6 L775.5,1404.6 L776.6,1403.6 L777.6,1404.4 L778.6,1405.2 L779.6,1406.0 L780.6,1406.8 L781.7,1406.6 L782.7,1406.3 L783.8,1406.0 L784.8,1407.4 L785.8,1408.8 L786.8,1410.2 L787.8,1411.7 L788.8,1411.5 L789.8,1411.3 L790.9,1411.1 L791.9,1410.9 L792.9,1409.2 L794.0,1407.6 L795.1,1406.0 L796.2,1405.7 L797.2,1405.3 L798.3,1405.0 L799.4,1404.6 L800.5,1404.3 L801.5,1403.9 L802.7,1405.5 L803.9,1407.0 L805.2,1408.5 L806.4,1410.0 L807.5,1411.0 L808.6,1412.0 L809.8,1412.9 L810.9,1413.9 L812.0,1414.9 L813.0,1413.3 L814.0,1411.7 L815.0,1410.0 L816.0,1408.4 L817.2,1407.9 L818.5,1407.5 L819.7,1407.0 L820.9,1406.5 L821.9,1407.1 L823.0,1407.7 L824.1,1408.3 L825.2,1408.9 L826.2,1409.5 L827.3,1410.0 L828.5,1410.5 L829.7,1411.0 L830.9,1411.5 L832.2,1412.0 L833.2,1412.0 L834.3,1412.0 L835.4,1412.0 L836.4,1412.0 L837.5,1412.0 L838.6,1412.0 L839.7,1412.0 L840.7,1412.0 L841.8,1412.0 L843.0,1406.2 L844.2,1400.4 L845.4,1399.2 L846.7,1398.0 L847.7,1399.2 L848.7,1400.4 L849.7,1401.6 L850.7,1402.8 L851.8,1400.9 L852.9,1398.9 L854.1,1397.0 L855.2,1395.1 L856.3,1393.1 L857.4,1393.9 L858.5,1394.7 L859.5,1395.5 L860.8,1392.7 L862.0,1389.9 L863.2,1387.1 L864.4,1384.3 L865.6,1387.7 L866.8,1391.1 L868.0,1394.5 L869.2,1398.0 L870.4,1401.8 L871.6,1405.6 L872.8,1409.4 L874.1,1413.3 L875.1,1412.9 L876.2,1412.5 L877.3,1412.1 L878.4,1411.7 L879.4,1411.3 L880.5,1410.9 L881.6,1409.9 L882.6,1409.0 L883.7,1408.0 L884.8,1407.1 L885.9,1406.1 L886.9,1405.2 L888.0,1403.1 L889.1,1400.9 L890.2,1398.8 L891.2,1396.6 L892.3,1394.5 L893.4,1392.3 L894.5,1389.9 L895.6,1387.5 L896.7,1385.1 L897.8,1382.6 L898.9,1380.2 L900.0,1377.8 L901.3,1379.3 L902.6,1380.7 L903.6,1377.5 L904.6,1374.3 L905.6,1371.0 L906.6,1367.8 L907.6,1367.0 L908.6,1366.2 L909.6,1365.4 L910.6,1364.6 L911.7,1361.4 L912.8,1358.2 L913.8,1354.9 L914.9,1356.9 L915.9,1359.0 L916.9,1361.0 L917.9,1363.0 L919.0,1355.5 L920.0,1348.1 L921.1,1340.6 L922.2,1333.2 L923.4,1337.0 L924.5,1340.8 L925.6,1344.7 L926.7,1348.5 L927.9,1346.5 L929.2,1344.5 L930.4,1342.4 L931.6,1340.4 L932.6,1340.8 L933.6,1341.2 L934.6,1341.6 L935.6,1342.0 L936.7,1345.3 L937.7,1348.5 L938.8,1351.7 L940.0,1350.4 L941.1,1349.1 L942.2,1347.8 L943.3,1346.5 L944.5,1345.3 L945.7,1344.0 L946.9,1342.8 L948.1,1341.6 L949.3,1340.4 L950.3,1336.2 L951.3,1332.0 L952.3,1327.7 L953.3,1323.5 L954.3,1326.1 L955.3,1328.7 L956.3,1331.4 L957.4,1334.0 L958.5,1336.2 L959.6,1338.5 L960.7,1340.7 L961.9,1343.0 L963.0,1345.3 L964.2,1340.8 L965.4,1336.4 L966.6,1332.0 L967.8,1327.5 L968.8,1321.9 L969.8,1316.2 L970.9,1310.6 L971.9,1305.0 L972.9,1308.2 L974.0,1311.4 L975.1,1314.6 L976.1,1312.6 L977.1,1310.6 L978.1,1308.6 L979.1,1306.6 L980.1,1305.0 L981.1,1303.4 L982.1,1301.7 L983.1,1300.1 L984.2,1299.6 L985.3,1299.1 L986.4,1298.5 L987.6,1303.4 L988.8,1308.2 L990.0,1319.5 L991.2,1330.8 L992.4,1329.9 L993.6,1329.1 L994.8,1328.3 L996.0,1327.5 L997.1,1330.2 L998.2,1332.9 L999.3,1335.6 L1000.3,1331.8 L1001.3,1327.9 L1002.3,1324.1 L1003.3,1320.3 L1004.3,1322.9 L1005.3,1325.5 L1006.3,1328.1 L1007.3,1330.8 L1008.5,1334.0 L1009.7,1337.2 L1010.9,1340.4 L1012.2,1343.6 L1013.4,1344.0 L1014.6,1344.5 L1015.8,1344.9 L1017.0,1345.3 L1018.2,1344.5 L1019.4,1343.6 L1020.6,1342.8 L1021.8,1342.0 L1022.9,1345.3 L1024.0,1348.5 L1025.0,1351.7 L1026.3,1354.9 L1027.5,1358.2 L1028.7,1361.4 L1029.9,1364.6 L1030.9,1366.6 L1031.9,1368.6 L1032.9,1370.6 L1033.9,1372.7 L1035.1,1370.6 L1036.3,1368.6 L1037.5,1366.6 L1038.7,1364.6 L1039.8,1363.8 L1040.8,1363.0 L1041.8,1362.2 L1042.8,1361.4 L1043.8,1359.6 L1044.8,1357.7 L1045.8,1355.9 L1046.8,1354.1 L1047.9,1355.9 L1049.1,1357.7 L1050.2,1359.4 L1051.3,1361.2 L1052.4,1363.0 L1053.7,1362.2 L1054.9,1361.4 L1056.1,1360.6 L1057.3,1359.8 L1058.3,1361.0 L1059.3,1362.2 L1060.3,1363.4 L1061.3,1364.6 L1062.3,1366.2 L1063.3,1367.8 L1064.3,1369.4 L1065.3,1371.0 L1065.3,1379.1 L1064.3,1377.5 L1063.3,1375.9 L1062.3,1374.3 L1061.3,1372.7 L1060.3,1369.8 L1059.3,1367.0 L1058.3,1364.2 L1057.3,1361.4 L1056.3,1363.8 L1055.3,1366.2 L1054.3,1368.6 L1053.2,1371.0 L1052.2,1369.2 L1051.1,1367.3 L1050.0,1365.4 L1048.9,1363.5 L1047.9,1361.6 L1046.8,1359.8 L1045.8,1360.6 L1044.8,1361.4 L1043.8,1362.2 L1042.8,1363.0 L1041.8,1364.2 L1040.8,1365.4 L1039.8,1366.6 L1038.7,1367.8 L1037.7,1372.7 L1036.7,1377.5 L1035.7,1382.3 L1034.7,1387.2 L1033.5,1383.9 L1032.3,1380.7 L1031.1,1377.5 L1029.9,1374.3 L1028.7,1371.8 L1027.5,1369.4 L1026.3,1367.0 L1025.0,1364.6 L1024.0,1360.8 L1022.9,1357.1 L1021.8,1353.3 L1020.6,1353.7 L1019.4,1354.1 L1018.2,1354.5 L1017.0,1354.9 L1016.0,1356.1 L1015.0,1357.3 L1014.0,1358.6 L1013.0,1359.8 L1012.0,1356.1 L1010.9,1352.5 L1009.9,1348.9 L1008.9,1345.3 L1007.7,1344.0 L1006.5,1342.8 L1005.3,1341.6 L1004.1,1340.4 L1002.9,1342.8 L1001.7,1345.3 L1000.5,1347.7 L999.3,1350.1 L998.0,1346.1 L996.8,1342.0 L995.6,1338.0 L994.4,1334.0 L993.2,1338.4 L992.0,1342.8 L990.8,1347.3 L989.6,1351.7 L988.4,1332.4 L987.2,1313.0 L986.0,1307.4 L984.8,1301.7 L983.5,1306.2 L982.3,1310.6 L981.1,1315.0 L979.9,1319.5 L978.9,1323.5 L977.9,1327.5 L976.9,1331.6 L975.9,1335.6 L974.9,1331.2 L973.9,1326.7 L972.9,1322.3 L971.9,1317.9 L970.7,1323.9 L969.4,1329.9 L968.2,1336.0 L967.0,1342.0 L965.8,1346.9 L964.6,1351.7 L963.4,1356.5 L962.2,1361.4 L961.0,1357.7 L959.8,1354.1 L958.6,1350.5 L957.4,1346.9 L956.3,1343.6 L955.3,1340.4 L954.3,1337.2 L953.3,1334.0 L952.3,1338.4 L951.3,1342.8 L950.3,1347.3 L949.3,1351.7 L948.1,1351.7 L946.9,1351.7 L945.7,1351.7 L944.5,1351.7 L943.5,1352.5 L942.4,1353.3 L941.4,1354.1 L940.4,1354.9 L939.4,1358.6 L938.4,1362.2 L937.4,1365.8 L936.4,1369.4 L935.2,1364.2 L934.0,1359.0 L932.8,1353.7 L931.6,1348.5 L930.4,1352.9 L929.2,1357.3 L927.9,1361.8 L926.7,1366.2 L925.7,1361.8 L924.7,1357.3 L923.7,1352.9 L922.7,1348.5 L921.6,1353.9 L920.6,1359.2 L919.5,1364.6 L918.4,1367.3 L917.3,1370.0 L916.3,1372.7 L915.2,1372.1 L914.1,1371.6 L913.0,1371.0 L912.0,1370.2 L911.0,1369.4 L910.0,1368.6 L909.0,1367.8 L908.0,1371.0 L907.0,1374.3 L906.0,1377.5 L905.0,1380.7 L903.9,1383.2 L902.8,1385.7 L901.8,1388.1 L900.0,1382.6 L898.9,1384.8 L897.8,1386.9 L896.7,1389.1 L895.6,1391.2 L894.5,1393.4 L893.4,1395.5 L892.3,1397.6 L891.2,1399.6 L890.2,1401.6 L889.1,1403.6 L888.0,1405.6 L886.9,1407.6 L885.9,1408.4 L884.8,1409.2 L883.7,1410.0 L882.6,1410.9 L881.6,1411.7 L880.5,1412.5 L879.4,1412.2 L878.4,1411.9 L877.3,1411.7 L876.2,1411.4 L875.1,1411.1 L874.1,1410.9 L872.8,1407.8 L871.6,1404.8 L870.4,1401.8 L869.2,1398.8 L868.0,1395.7 L866.8,1392.7 L865.6,1389.7 L864.4,1386.7 L863.2,1389.3 L862.0,1391.9 L860.8,1394.5 L859.5,1397.2 L858.5,1396.6 L857.4,1396.1 L856.3,1395.5 L855.2,1397.2 L854.1,1398.8 L852.9,1400.4 L851.8,1402.0 L850.7,1403.6 L849.7,1402.4 L848.7,1401.2 L847.7,1400.0 L846.7,1398.8 L845.4,1399.6 L844.2,1400.4 L843.0,1405.6 L841.8,1410.9 L840.7,1410.9 L839.7,1410.9 L838.6,1410.9 L837.5,1410.9 L836.4,1410.9 L835.4,1410.9 L834.3,1410.9 L833.2,1410.9 L832.2,1410.9 L830.9,1410.4 L829.7,1410.0 L828.5,1409.6 L827.3,1409.2 L826.2,1408.7 L825.2,1408.2 L824.1,1407.6 L823.0,1407.1 L821.9,1406.6 L820.9,1406.0 L819.7,1406.4 L818.5,1406.8 L817.2,1407.2 L816.0,1407.6 L815.0,1409.0 L814.0,1410.4 L813.0,1411.9 L812.0,1413.3 L810.9,1412.5 L809.8,1411.7 L808.6,1410.9 L807.5,1410.0 L806.4,1409.2 L805.2,1407.8 L803.9,1406.4 L802.7,1405.0 L801.5,1403.6 L800.5,1403.9 L799.4,1404.1 L798.3,1404.4 L797.2,1404.7 L796.2,1404.9 L795.1,1405.2 L794.0,1406.8 L792.9,1408.4 L791.9,1410.0 L790.9,1410.0 L789.8,1410.0 L788.8,1410.0 L787.8,1410.0 L786.8,1408.8 L785.8,1407.6 L784.8,1406.4 L783.8,1405.2 L782.7,1405.5 L781.7,1405.7 L780.6,1406.0 L779.6,1405.4 L778.6,1404.8 L777.6,1404.2 L776.6,1403.6 L775.5,1404.4 L774.5,1405.2 L773.5,1406.0 L772.5,1406.8 L771.4,1406.8 L770.4,1406.8 L769.3,1406.8 L768.2,1406.8 L767.2,1406.8 L766.1,1406.8 L765.0,1406.8 L763.9,1406.8 L762.9,1406.8 L761.8,1405.6 L760.7,1404.4 L759.6,1403.2 L758.6,1402.0 L757.5,1400.8 L756.4,1399.6 L755.3,1399.8 L754.3,1400.1 L753.2,1400.4 L752.0,1399.4 L750.8,1398.4 L749.6,1397.4 L748.3,1396.3 L747.1,1396.7 L745.9,1397.2 L744.7,1397.6 L743.5,1398.0 L742.3,1399.0 L741.1,1400.0 L739.9,1401.0 L738.7,1402.0 L737.7,1403.2 L736.7,1404.4 L735.7,1405.6 L734.6,1406.8 L733.4,1404.8 L732.2,1402.8 L731.2,1403.0 L730.2,1403.2 L729.2,1403.4 L728.2,1403.6 L727.1,1401.3 L725.9,1399.1 L724.8,1396.8 L723.7,1394.6 L722.6,1392.3 L721.4,1390.7 L720.1,1389.1 L718.9,1387.5 L717.7,1385.9 L716.7,1386.4 L715.6,1386.9 L714.5,1387.5Z" fill="#FAA20C" stroke="none"/>
<path d="M714.5,1390.1 L715.1,1388.7 L715.8,1385.4 L716.4,1384.5 L717.1,1383.4 L717.7,1385.3 L718.3,1387.1 L718.9,1389.5 L719.5,1386.5 L720.1,1385.8 L720.7,1391.1 L721.4,1389.9 L722.0,1390.0 L722.6,1393.6 L723.2,1392.0 L723.8,1395.8 L724.4,1398.5 L725.1,1398.6 L725.7,1399.7 L726.3,1397.7 L726.9,1400.8 L727.6,1402.8 L728.2,1405.2 L728.9,1404.2 L729.5,1401.6 L730.2,1401.0 L730.9,1403.0 L731.6,1400.7 L732.2,1399.8 L732.8,1401.3 L733.4,1405.4 L734.0,1406.3 L734.6,1406.3 L735.3,1408.2 L736.0,1406.5 L736.7,1403.6 L737.3,1403.6 L738.0,1404.7 L738.7,1402.0 L739.3,1401.2 L739.9,1401.3 L740.5,1403.2 L741.1,1401.8 L741.7,1398.5 L742.3,1399.0 L742.9,1397.5 L743.5,1397.4 L744.1,1398.7 L744.7,1395.4 L745.3,1396.5 L745.9,1395.8 L746.5,1396.9 L747.1,1398.4 L747.7,1397.1 L748.3,1397.2 L749.0,1396.1 L749.6,1395.8 L750.2,1397.3 L750.8,1398.3 L751.4,1397.4 L752.0,1400.2 L752.6,1400.2 L753.2,1399.7 L753.8,1398.7 L754.5,1401.2 L755.1,1402.5 L755.8,1403.1 L756.4,1399.6 L757.1,1398.0 L757.7,1400.8 L758.3,1399.2 L759.0,1403.3 L759.6,1404.5 L760.3,1403.6 L760.9,1404.2 L761.6,1406.2 L762.2,1404.6 L762.9,1405.5 L763.5,1407.8 L764.1,1408.2 L764.7,1407.8 L765.3,1405.1 L765.9,1404.6 L766.5,1404.7 L767.1,1403.5 L767.7,1406.2 L768.3,1407.0 L768.9,1409.1 L769.5,1408.0 L770.1,1409.5 L770.7,1407.7 L771.3,1407.3 L771.9,1405.8 L772.5,1406.2 L773.2,1408.4 L773.9,1406.5 L774.5,1402.9 L775.2,1403.0 L775.9,1401.9 L776.6,1403.3 L777.2,1403.9 L777.9,1404.3 L778.6,1407.0 L779.2,1407.5 L779.9,1404.3 L780.6,1403.0 L781.2,1405.7 L781.9,1406.1 L782.5,1406.5 L783.2,1405.8 L783.8,1402.9 L784.5,1404.8 L785.1,1408.1 L785.8,1408.7 L786.5,1406.4 L787.2,1406.5 L787.8,1411.1 L788.5,1410.7 L789.2,1408.5 L789.8,1410.5 L790.5,1412.5 L791.2,1412.9 L791.9,1412.0 L792.5,1411.5 L793.2,1406.9 L793.8,1406.5 L794.4,1407.5 L795.1,1404.9 L795.7,1403.1 L796.4,1406.0 L797.0,1406.3 L797.7,1402.6 L798.3,1401.3 L799.0,1403.3 L799.6,1406.1 L800.2,1405.4 L800.9,1406.3 L801.5,1402.5 L802.1,1404.3 L802.7,1403.3 L803.3,1404.1 L803.9,1403.9 L804.6,1405.9 L805.2,1405.0 L805.8,1408.2 L806.4,1409.9 L807.0,1412.1 L807.6,1412.5 L808.2,1409.3 L808.9,1412.5 L809.5,1412.3 L810.1,1414.5 L810.8,1413.4 L811.4,1411.0 L812.0,1413.6 L812.7,1410.7 L813.3,1413.3 L814.0,1411.4 L814.7,1412.0 L815.4,1409.5 L816.0,1407.1 L816.6,1408.1 L817.2,1408.6 L817.8,1407.4 L818.5,1405.8 L819.1,1405.8 L819.7,1407.2 L820.3,1405.1 L820.9,1403.8 L821.5,1405.4 L822.2,1407.1 L822.8,1404.9 L823.4,1405.3 L824.1,1409.3 L824.7,1407.4 L825.4,1409.5 L826.0,1408.1 L826.7,1406.5 L827.3,1408.2 L827.9,1411.0 L828.5,1411.7 L829.1,1408.3 L829.7,1410.5 L830.3,1411.1 L830.9,1410.7 L831.5,1411.6 L832.2,1411.4 L832.8,1409.4 L833.4,1411.3 L834.0,1409.1 L834.6,1409.1 L835.2,1412.0 L835.8,1411.7 L836.4,1411.2 L837.0,1412.1 L837.6,1411.3 L838.2,1410.4 L838.8,1411.0 L839.4,1408.4 L840.0,1409.1 L840.6,1407.7 L841.2,1412.2 L841.8,1413.5 L842.4,1410.1 L843.0,1404.6 L843.6,1404.4 L844.2,1399.8 L844.8,1401.4 L845.4,1400.9 L846.1,1400.3 L846.7,1400.5 L847.3,1399.0 L848.0,1401.9 L848.7,1402.0 L849.3,1403.7 L850.0,1405.3 L850.7,1403.3 L851.3,1402.1 L851.9,1400.8 L852.6,1398.3 L853.2,1401.0 L853.8,1400.5 L854.4,1398.7 L855.1,1397.8 L855.7,1398.6 L856.3,1394.1 L857.0,1394.6 L857.6,1396.6 L858.3,1396.9 L858.9,1397.0 L859.5,1395.9 L860.2,1393.9 L860.8,1394.7 L861.4,1392.4 L862.0,1393.9 L862.6,1393.5 L863.2,1392.9 L863.8,1388.3 L864.4,1386.9 L865.0,1386.2 L865.6,1388.1 L866.2,1388.3 L866.8,1391.6 L867.4,1396.2 L868.0,1397.9 L868.6,1397.4 L869.2,1397.6 L869.8,1402.1 L870.4,1400.2 L871.0,1404.5 L871.6,1407.2 L872.2,1405.0 L872.8,1409.7 L873.4,1410.8 L874.1,1410.9 L874.7,1410.6 L875.3,1411.6 L876.0,1411.6 L876.6,1413.6 L877.3,1414.6 L877.9,1412.1 L878.6,1409.5 L879.2,1412.6 L879.9,1413.3 L880.5,1413.7 L881.1,1410.2 L881.8,1408.5 L882.4,1411.9 L883.1,1410.2 L883.7,1409.8 L884.4,1411.9 L885.0,1408.4 L885.7,1409.0 L886.3,1406.0 L886.9,1407.1 L887.6,1407.5 L888.2,1403.8 L888.9,1404.8 L889.5,1405.6 L890.2,1404.4 L890.8,1403.0 L891.5,1402.6 L892.1,1400.5 L892.7,1398.0 L893.4,1397.8 L894.0,1396.9 L894.6,1394.9 L895.2,1393.6 L895.8,1389.8 L896.4,1388.4 L897.0,1387.1 L897.6,1388.7 L898.2,1388.2 L898.8,1384.7 L899.4,1386.3 L900.0,1381.3 L900.9,1382.5 L901.8,1386.1 L902.4,1383.6 L903.0,1386.3 L903.7,1383.4 L904.3,1381.5 L905.0,1382.3 L905.7,1379.4 L906.3,1377.4 L907.0,1374.4 L907.7,1371.9 L908.3,1372.3 L909.0,1367.6 L909.7,1368.4 L910.4,1368.8 L911.0,1367.5 L911.7,1367.3 L912.4,1369.5 L913.0,1372.2 L913.7,1371.5 L914.3,1369.4 L915.0,1373.4 L915.6,1371.0 L916.3,1374.1 L916.9,1369.2 L917.6,1369.5 L918.2,1366.0 L918.8,1364.2 L919.5,1363.4 L920.1,1362.2 L920.8,1358.2 L921.4,1354.5 L922.1,1351.0 L922.7,1348.3 L923.4,1350.2 L924.1,1356.3 L924.7,1356.5 L925.4,1358.0 L926.1,1362.6 L926.7,1365.2 L927.3,1364.7 L927.9,1359.6 L928.5,1359.6 L929.2,1356.7 L929.8,1357.1 L930.4,1352.7 L931.0,1350.2 L931.6,1347.3 L932.2,1350.8 L932.8,1352.4 L933.4,1356.7 L934.0,1358.6 L934.6,1362.5 L935.2,1363.5 L935.8,1366.3 L936.4,1369.5 L937.1,1368.2 L937.7,1365.9 L938.4,1362.3 L939.1,1357.6 L939.8,1354.4 L940.4,1351.9 L941.1,1351.5 L941.8,1351.0 L942.4,1353.0 L943.1,1351.8 L943.8,1354.0 L944.5,1351.0 L945.1,1350.1 L945.7,1349.4 L946.3,1348.9 L946.9,1351.5 L947.5,1352.1 L948.1,1350.5 L948.7,1352.9 L949.3,1353.1 L950.0,1348.9 L950.6,1346.4 L951.3,1343.9 L952.0,1340.0 L952.7,1334.8 L953.3,1332.4 L954.0,1337.9 L954.7,1338.3 L955.3,1341.2 L956.0,1340.7 L956.7,1345.4 L957.4,1349.1 L958.0,1348.9 L958.6,1349.9 L959.2,1352.1 L959.8,1352.7 L960.4,1353.9 L961.0,1355.0 L961.6,1359.4 L962.2,1361.4 L962.8,1361.4 L963.4,1359.9 L964.0,1357.5 L964.6,1355.4 L965.2,1352.5 L965.8,1345.7 L966.4,1342.0 L967.0,1343.6 L967.6,1341.6 L968.2,1337.6 L968.8,1334.3 L969.4,1330.1 L970.0,1326.6 L970.7,1321.9 L971.3,1320.3 L971.9,1316.5 L972.5,1318.3 L973.2,1324.7 L973.9,1327.5 L974.5,1332.0 L975.2,1332.5 L975.9,1335.9 L976.6,1331.9 L977.2,1331.5 L977.9,1326.5 L978.6,1325.2 L979.2,1322.6 L979.9,1318.7 L980.5,1314.7 L981.1,1314.0 L981.7,1312.5 L982.3,1312.2 L982.9,1307.4 L983.5,1304.1 L984.1,1302.1 L984.8,1302.6 L985.4,1303.5 L986.0,1307.7 L986.6,1307.8 L987.2,1309.9 L987.8,1322.5 L988.4,1332.3 L989.0,1340.0 L989.6,1350.7 L990.2,1351.4 L990.8,1347.5 L991.4,1345.4 L992.0,1342.6 L992.6,1340.5 L993.2,1336.0 L993.8,1337.2 L994.4,1334.8 L995.0,1335.5 L995.6,1336.7 L996.2,1337.8 L996.8,1343.5 L997.4,1346.4 L998.0,1346.4 L998.7,1348.7 L999.3,1350.6 L999.9,1347.5 L1000.5,1344.7 L1001.1,1346.5 L1001.7,1343.5 L1002.3,1343.7 L1002.9,1340.1 L1003.5,1338.0 L1004.1,1337.2 L1004.7,1340.6 L1005.3,1342.0 L1005.9,1345.0 L1006.5,1344.8 L1007.1,1344.3 L1007.7,1341.8 L1008.3,1346.2 L1008.9,1345.8 L1009.6,1349.8 L1010.3,1348.5 L1010.9,1353.7 L1011.6,1355.3 L1012.3,1356.0 L1013.0,1358.7 L1013.6,1356.3 L1014.3,1357.5 L1015.0,1355.6 L1015.6,1356.9 L1016.3,1354.2 L1017.0,1355.3 L1017.6,1355.5 L1018.2,1356.0 L1018.8,1357.3 L1019.4,1354.2 L1020.0,1354.9 L1020.6,1353.6 L1021.2,1355.5 L1021.8,1355.8 L1022.5,1358.0 L1023.1,1359.3 L1023.8,1359.4 L1024.4,1364.2 L1025.0,1367.8 L1025.6,1369.5 L1026.3,1367.6 L1026.9,1370.2 L1027.5,1371.2 L1028.1,1373.1 L1028.7,1374.4 L1029.3,1373.9 L1029.9,1374.0 L1030.5,1377.3 L1031.1,1378.9 L1031.7,1379.9 L1032.3,1383.0 L1032.9,1380.8 L1033.5,1380.7 L1034.1,1384.1 L1034.7,1384.4 L1035.4,1384.7 L1036.1,1378.8 L1036.7,1378.8 L1037.4,1373.3 L1038.1,1368.7 L1038.7,1368.2 L1039.4,1368.1 L1040.1,1366.2 L1040.8,1365.9 L1041.4,1365.1 L1042.1,1366.4 L1042.8,1364.0 L1043.4,1363.1 L1044.1,1362.0 L1044.8,1360.9 L1045.5,1361.7 L1046.1,1358.6 L1046.8,1360.1 L1047.4,1363.3 L1048.1,1364.4 L1048.7,1364.3 L1049.4,1364.0 L1050.0,1363.2 L1050.7,1363.5 L1051.3,1366.6 L1052.0,1370.4 L1052.6,1372.5 L1053.2,1370.4 L1053.9,1370.5 L1054.6,1369.9 L1055.3,1366.9 L1055.9,1366.8 L1056.6,1362.2 L1057.3,1360.2 L1057.9,1362.9 L1058.6,1366.2 L1059.3,1367.2 L1060.0,1367.9 L1060.6,1372.3 L1061.3,1372.7 L1062.0,1373.3 L1062.6,1373.2 L1063.3,1375.1 L1064.0,1377.7 L1064.7,1377.6 L1065.3,1379.8" fill="none" stroke="#2E7F6E" stroke-width="6.00" stroke-linejoin="round" stroke-linecap="round"/>
</g>
<line x1="714.5" y1="1277.1" x2="714.5" y2="1500.8" stroke="#868686" stroke-width="1.3"/>
<line x1="1065.3" y1="1277.1" x2="1065.3" y2="1500.8" stroke="#868686" stroke-width="1.3"/>
<line x1="714.5" y1="1495.8" x2="714.5" y2="1500.8" stroke="#868686" stroke-width="1.3"/>
<line x1="764.6" y1="1495.8" x2="764.6" y2="1500.8" stroke="#868686" stroke-width="1.3"/>
<line x1="814.7" y1="1495.8" x2="814.7" y2="1500.8" stroke="#868686" stroke-width="1.3"/>
<line x1="864.8" y1="1495.8" x2="864.8" y2="1500.8" stroke="#868686" stroke-width="1.3"/>
<line x1="915.0" y1="1495.8" x2="915.0" y2="1500.8" stroke="#868686" stroke-width="1.3"/>
<line x1="965.1" y1="1495.8" x2="965.1" y2="1500.8" stroke="#868686" stroke-width="1.3"/>
<line x1="1015.2" y1="1495.8" x2="1015.2" y2="1500.8" stroke="#868686" stroke-width="1.3"/>
<line x1="1065.3" y1="1495.8" x2="1065.3" y2="1500.8" stroke="#868686" stroke-width="1.3"/>
<line x1="1065.3" y1="1277.1" x2="1070.3" y2="1277.1" stroke="#868686" stroke-width="1.3"/>
<line x1="1065.3" y1="1304.4" x2="1070.3" y2="1304.4" stroke="#868686" stroke-width="1.3"/>
<line x1="1065.3" y1="1331.8" x2="1070.3" y2="1331.8" stroke="#868686" stroke-width="1.3"/>
<line x1="1065.3" y1="1359.1" x2="1070.3" y2="1359.1" stroke="#868686" stroke-width="1.3"/>
<line x1="1065.3" y1="1386.4" x2="1070.3" y2="1386.4" stroke="#868686" stroke-width="1.3"/>
<line x1="1065.3" y1="1413.8" x2="1070.3" y2="1413.8" stroke="#868686" stroke-width="1.3"/>
<line x1="1065.3" y1="1441.1" x2="1070.3" y2="1441.1" stroke="#868686" stroke-width="1.3"/>
<line x1="1065.3" y1="1468.5" x2="1070.3" y2="1468.5" stroke="#868686" stroke-width="1.3"/>
<line x1="1065.3" y1="1495.8" x2="1070.3" y2="1495.8" stroke="#868686" stroke-width="1.3"/>
<text x="700.5" y="1282.5" font-size="15" text-anchor="end" font-family='"Liberation Sans","Noto Sans CJK SC",sans-serif' font-weight="normal" fill="#1c1c1c" textLength="57.5" lengthAdjust="spacingAndGlyphs" >14,000.00</text>
<text x="700.5" y="1313.7" font-size="15" text-anchor="end" font-family='"Liberation Sans","Noto Sans CJK SC",sans-serif' font-weight="normal" fill="#1c1c1c" textLength="57.5" lengthAdjust="spacingAndGlyphs" >12,000.00</text>
<text x="700.5" y="1345.0" font-size="15" text-anchor="end" font-family='"Liberation Sans","Noto Sans CJK SC",sans-serif' font-weight="normal" fill="#1c1c1c" textLength="57.5" lengthAdjust="spacingAndGlyphs" >10,000.00</text>
<text x="700.5" y="1376.2" font-size="15" text-anchor="end" font-family='"Liberation Sans","Noto Sans CJK SC",sans-serif' font-weight="normal" fill="#1c1c1c" textLength="50.0" lengthAdjust="spacingAndGlyphs" >8,000.00</text>
<text x="700.5" y="1407.5" font-size="15" text-anchor="end" font-family='"Liberation Sans","Noto Sans CJK SC",sans-serif' font-weight="normal" fill="#1c1c1c" textLength="50.0" lengthAdjust="spacingAndGlyphs" >6,000.00</text>
<text x="700.5" y="1438.7" font-size="15" text-anchor="end" font-family='"Liberation Sans","Noto Sans CJK SC",sans-serif' font-weight="normal" fill="#1c1c1c" textLength="50.0" lengthAdjust="spacingAndGlyphs" >4,000.00</text>
<text x="700.5" y="1470.0" font-size="15" text-anchor="end" font-family='"Liberation Sans","Noto Sans CJK SC",sans-serif' font-weight="normal" fill="#1c1c1c" textLength="50.0" lengthAdjust="spacingAndGlyphs" >2,000.00</text>
<text x="700.5" y="1501.2" font-size="15" text-anchor="end" font-family='"Liberation Sans","Noto Sans CJK SC",sans-serif' font-weight="normal" fill="#1c1c1c" textLength="25.0" lengthAdjust="spacingAndGlyphs" >0.00</text>
<text x="1079.0" y="1282.5" font-size="15" text-anchor="start" font-family='"Liberation Sans","Noto Sans CJK SC",sans-serif' font-weight="normal" fill="#1c1c1c" textLength="50.0" lengthAdjust="spacingAndGlyphs" >3,000.00</text>
<text x="1079.0" y="1309.8" font-size="15" text-anchor="start" font-family='"Liberation Sans","Noto Sans CJK SC",sans-serif' font-weight="normal" fill="#1c1c1c" textLength="50.0" lengthAdjust="spacingAndGlyphs" >2,500.00</text>
<text x="1079.0" y="1337.2" font-size="15" text-anchor="start" font-family='"Liberation Sans","Noto Sans CJK SC",sans-serif' font-weight="normal" fill="#1c1c1c" textLength="50.0" lengthAdjust="spacingAndGlyphs" >2,000.00</text>
<text x="1079.0" y="1364.5" font-size="15" text-anchor="start" font-family='"Liberation Sans","Noto Sans CJK SC",sans-serif' font-weight="normal" fill="#1c1c1c" textLength="50.0" lengthAdjust="spacingAndGlyphs" >1,500.00</text>
<text x="1079.0" y="1391.8" font-size="15" text-anchor="start" font-family='"Liberation Sans","Noto Sans CJK SC",sans-serif' font-weight="normal" fill="#1c1c1c" textLength="50.0" lengthAdjust="spacingAndGlyphs" >1,000.00</text>
<text x="1079.0" y="1419.2" font-size="15" text-anchor="start" font-family='"Liberation Sans","Noto Sans CJK SC",sans-serif' font-weight="normal" fill="#1c1c1c" textLength="39.5" lengthAdjust="spacingAndGlyphs" >500.00</text>
<text x="1079.0" y="1446.5" font-size="15" text-anchor="start" font-family='"Liberation Sans","Noto Sans CJK SC",sans-serif' font-weight="normal" fill="#1c1c1c" textLength="25.0" lengthAdjust="spacingAndGlyphs" >0.00</text>
<text x="1079.0" y="1473.9" font-size="15" text-anchor="start" font-family='"Liberation Sans","Noto Sans CJK SC",sans-serif' font-weight="normal" fill="#1c1c1c" textLength="43.5" lengthAdjust="spacingAndGlyphs" >-500.00</text>
<text x="1079.0" y="1501.2" font-size="15" text-anchor="start" font-family='"Liberation Sans","Noto Sans CJK SC",sans-serif' font-weight="normal" fill="#1c1c1c" textLength="54.0" lengthAdjust="spacingAndGlyphs" >-1,000.00</text>
<text x="717.3" y="1520.6" font-size="14.5" text-anchor="end" font-family='"Liberation Sans","Noto Sans CJK SC",sans-serif' font-weight="normal" fill="#1c1c1c" textLength="76.0" lengthAdjust="spacingAndGlyphs" transform="rotate(-54 717.3 1520.6)" >2017-01-03</text>
<text x="767.4" y="1520.6" font-size="14.5" text-anchor="end" font-family='"Liberation Sans","Noto Sans CJK SC",sans-serif' font-weight="normal" fill="#1c1c1c" textLength="76.0" lengthAdjust="spacingAndGlyphs" transform="rotate(-54 767.4 1520.6)" >2018-01-03</text>
<text x="817.5" y="1520.6" font-size="14.5" text-anchor="end" font-family='"Liberation Sans","Noto Sans CJK SC",sans-serif' font-weight="normal" fill="#1c1c1c" textLength="76.0" lengthAdjust="spacingAndGlyphs" transform="rotate(-54 817.5 1520.6)" >2019-01-03</text>
<text x="867.6" y="1520.6" font-size="14.5" text-anchor="end" font-family='"Liberation Sans","Noto Sans CJK SC",sans-serif' font-weight="normal" fill="#1c1c1c" textLength="76.0" lengthAdjust="spacingAndGlyphs" transform="rotate(-54 867.6 1520.6)" >2020-01-03</text>
<text x="917.8" y="1520.6" font-size="14.5" text-anchor="end" font-family='"Liberation Sans","Noto Sans CJK SC",sans-serif' font-weight="normal" fill="#1c1c1c" textLength="76.0" lengthAdjust="spacingAndGlyphs" transform="rotate(-54 917.8 1520.6)" >2021-01-03</text>
<text x="967.9" y="1520.6" font-size="14.5" text-anchor="end" font-family='"Liberation Sans","Noto Sans CJK SC",sans-serif' font-weight="normal" fill="#1c1c1c" textLength="76.0" lengthAdjust="spacingAndGlyphs" transform="rotate(-54 967.9 1520.6)" >2022-01-03</text>
<text x="1018.0" y="1520.6" font-size="14.5" text-anchor="end" font-family='"Liberation Sans","Noto Sans CJK SC",sans-serif' font-weight="normal" fill="#1c1c1c" textLength="76.0" lengthAdjust="spacingAndGlyphs" transform="rotate(-54 1018.0 1520.6)" >2023-01-03</text>
<text x="1068.1" y="1520.6" font-size="14.5" text-anchor="end" font-family='"Liberation Sans","Noto Sans CJK SC",sans-serif' font-weight="normal" fill="#1c1c1c" textLength="76.0" lengthAdjust="spacingAndGlyphs" transform="rotate(-54 1068.1 1520.6)" >2024-01-03</text>
<rect x="665" y="1218.7" width="27" height="8.6" fill="#9BBB59" stroke="#40AE9B" stroke-width="1.2"/>
<text x="695.0" y="1227.6" font-size="13" text-anchor="start" font-family='"Liberation Sans","Noto Sans CJK SC",sans-serif' font-weight="500" fill="#1c1c1c" textLength="23.5" lengthAdjust="spacingAndGlyphs" >基差</text>
<line x1="752.0" y1="1222.8" x2="779.5" y2="1222.8" stroke="#FAA20C" stroke-width="3.6" stroke-linecap="round"/>
<text x="782.6" y="1227.6" font-size="13" text-anchor="start" font-family='"Liberation Sans","Noto Sans CJK SC",sans-serif' font-weight="500" fill="#1c1c1c" textLength="120.0" lengthAdjust="spacingAndGlyphs" >现货价:四级豆油:张家港</text>
<line x1="937.0" y1="1222.8" x2="963.0" y2="1222.8" stroke="#2E7F6E" stroke-width="4.4" stroke-linecap="round"/>
<text x="966.0" y="1227.6" font-size="13" text-anchor="start" font-family='"Liberation Sans","Noto Sans CJK SC",sans-serif' font-weight="500" fill="#1c1c1c" textLength="136.0" lengthAdjust="spacingAndGlyphs" >期货收盘价(活跃合约):豆油</text>
<text x="652.0" y="1264.0" font-size="13" text-anchor="start" font-family='"Liberation Sans","Noto Sans CJK SC",sans-serif' font-weight="bold" fill="#1c1c1c" textLength="28.0" lengthAdjust="spacingAndGlyphs" >元/吨</text>
<text x="938.2" y="89.8" font-size="80" text-anchor="start" font-family='"Liberation Sans","Noto Sans CJK SC",sans-serif' font-weight="bold" fill="#1B3F7F" >f</text>
<text x="880.6" y="89.8" font-size="74.5" text-anchor="start" font-family='"Liberation Sans","Noto Sans CJK SC",sans-serif' font-weight="bold" fill="#C9CACB" textLength="39.5" lengthAdjust="spacingAndGlyphs" >z</text>
<text x="916.6" y="89.8" font-size="74.5" text-anchor="start" font-family='"Liberation Sans","Noto Sans CJK SC",sans-serif' font-weight="bold" fill="#C9CACB" >r</text>
<rect x="914" y="82.6" width="9" height="7.2" fill="#C9CACB"/>
<text x="980.0" y="71.3" font-size="30" text-anchor="start" font-family='"Liberation Sans","Noto Sans CJK SC",sans-serif' font-weight="900" fill="#6D6E70" textLength="179.0" lengthAdjust="spacingAndGlyphs" >中融汇信期货</text>
<text x="980.0" y="90.1" font-size="13.3" text-anchor="start" font-family='"Liberation Sans","Noto Sans CJK SC",sans-serif' font-weight="bold" fill="#6D6E70" textLength="179.0" lengthAdjust="spacingAndGlyphs" >ZHONG RONG HUI XIN FUTURES</text>
<rect x="88.5" y="110.0" width="7" height="7" fill="#FFD84A" opacity="0.9"/>
<rect x="84.5" y="116.0" width="8" height="6" fill="#F27A7A" opacity="0.85"/>
<rect x="91.5" y="117.5" width="8" height="6" fill="#5A5AE8" opacity="0.9"/>
<rect x="92.5" y="110.0" width="1.6" height="14" fill="#1A1A8C"/>
<rect x="88.5" y="119.6" width="13" height="1.6" fill="#1A1A8C"/>
<text x="129.0" y="126.0" font-size="21.8" text-anchor="start" font-family='"Liberation Serif","Noto Serif CJK SC",serif' font-weight="600" fill="#000" textLength="174.0" lengthAdjust="spacingAndGlyphs" >豆二数据监测图库</text>
<text x="138.0" y="170.0" font-size="18.8" text-anchor="start" font-family='"Liberation Serif","Noto Serif CJK SC",serif' font-weight="600" fill="#000" textLength="75.0" lengthAdjust="spacingAndGlyphs" >豆二基差</text>
<text x="664.0" y="170.0" font-size="18.8" text-anchor="start" font-family='"Liberation Serif","Noto Serif CJK SC",serif' font-weight="600" fill="#000" textLength="113.0" lengthAdjust="spacingAndGlyphs" >大豆到港成本</text>
<line x1="89.0" y1="180.7" x2="1153.0" y2="180.7" stroke="#333" stroke-width="1.5"/>
<text x="133.5" y="656.0" font-size="18.8" text-anchor="start" font-family='"Liberation Serif","Noto Serif CJK SC",serif' font-weight="600" fill="#000" textLength="131.0" lengthAdjust="spacingAndGlyphs" >进口大豆升贴水</text>
<text x="664.0" y="656.0" font-size="18.8" text-anchor="start" font-family='"Liberation Serif","Noto Serif CJK SC",serif' font-weight="600" fill="#000" textLength="113.0" lengthAdjust="spacingAndGlyphs" >全国豆粕库存</text>
<line x1="89.0" y1="666.4" x2="1153.0" y2="666.4" stroke="#333" stroke-width="1.5"/>
<rect x="118.5" y="1146.0" width="7" height="7" fill="#FFD84A" opacity="0.9"/>
<rect x="114.5" y="1152.0" width="8" height="6" fill="#F27A7A" opacity="0.85"/>
<rect x="121.5" y="1153.5" width="8" height="6" fill="#5A5AE8" opacity="0.9"/>
<rect x="122.5" y="1146.0" width="1.6" height="14" fill="#1A1A8C"/>
<rect x="118.5" y="1155.6" width="13" height="1.6" fill="#1A1A8C"/>
<text x="159.0" y="1160.5" font-size="21.8" text-anchor="start" font-family='"Liberation Serif","Noto Serif CJK SC",serif' font-weight="600" fill="#000" textLength="173.5" lengthAdjust="spacingAndGlyphs" >油脂数据监测图库</text>
<text x="128.2" y="1190.0" font-size="18.8" text-anchor="start" font-family='"Liberation Serif","Noto Serif CJK SC",serif' font-weight="600" fill="#000" textLength="94.0" lengthAdjust="spacingAndGlyphs" >棕榈油基差</text>
<text x="660.8" y="1190.0" font-size="18.8" text-anchor="start" font-family='"Liberation Serif","Noto Serif CJK SC",serif' font-weight="600" fill="#000" textLength="75.0" lengthAdjust="spacingAndGlyphs" >豆油基差</text>
<line x1="89.0" y1="1200.7" x2="1153.0" y2="1200.7" stroke="#333" stroke-width="1.5"/>
<text x="115.7" y="601.5" font-size="15.6" text-anchor="start" font-family='"Liberation Serif","Noto Serif CJK SC",serif' font-weight="300" fill="#222" textLength="77.0" lengthAdjust="spacingAndGlyphs" >数据来源：</text>
<text x="193.2" y="601.5" font-size="15.6" text-anchor="start" font-family='"Liberation Serif","Noto Serif CJK SC",serif' font-weight="300" fill="#222" textLength="31.0" lengthAdjust="spacingAndGlyphs" >Wind</text>
<text x="228.2" y="601.5" font-size="15.6" text-anchor="start" font-family='"Liberation Serif","Noto Serif CJK SC",serif' font-weight="300" fill="#222" textLength="30.0" lengthAdjust="spacingAndGlyphs" >资讯</text>
<text x="631.7" y="601.5" font-size="15.6" text-anchor="start" font-family='"Liberation Serif","Noto Serif CJK SC",serif' font-weight="300" fill="#222" textLength="77.0" lengthAdjust="spacingAndGlyphs" >数据来源：</text>
<text x="709.2" y="601.5" font-size="15.6" text-anchor="start" font-family='"Liberation Serif","Noto Serif CJK SC",serif' font-weight="300" fill="#222" textLength="31.0" lengthAdjust="spacingAndGlyphs" >Wind</text>
<text x="744.2" y="601.5" font-size="15.6" text-anchor="start" font-family='"Liberation Serif","Noto Serif CJK SC",serif' font-weight="300" fill="#222" textLength="30.0" lengthAdjust="spacingAndGlyphs" >资讯</text>
<text x="112.7" y="1087.0" font-size="15.6" text-anchor="start" font-family='"Liberation Serif","Noto Serif CJK SC",serif' font-weight="300" fill="#222" textLength="77.0" lengthAdjust="spacingAndGlyphs" >数据来源：</text>
<text x="190.2" y="1087.0" font-size="15.6" text-anchor="start" font-family='"Liberation Serif","Noto Serif CJK SC",serif' font-weight="300" fill="#222" textLength="31.0" lengthAdjust="spacingAndGlyphs" >Wind</text>
<text x="225.2" y="1087.0" font-size="15.6" text-anchor="start" font-family='"Liberation Serif","Noto Serif CJK SC",serif' font-weight="300" fill="#222" textLength="30.0" lengthAdjust="spacingAndGlyphs" >资讯</text>
<text x="638.7" y="1087.0" font-size="15.6" text-anchor="start" font-family='"Liberation Serif","Noto Serif CJK SC",serif' font-weight="300" fill="#222" textLength="77.0" lengthAdjust="spacingAndGlyphs" >数据来源：</text>
<text x="716.2" y="1087.0" font-size="15.6" text-anchor="start" font-family='"Liberation Serif","Noto Serif CJK SC",serif' font-weight="300" fill="#222" textLength="31.0" lengthAdjust="spacingAndGlyphs" >Wind</text>
<text x="751.2" y="1087.0" font-size="15.6" text-anchor="start" font-family='"Liberation Serif","Noto Serif CJK SC",serif' font-weight="300" fill="#222" textLength="30.0" lengthAdjust="spacingAndGlyphs" >资讯</text>
<text x="115.7" y="1613.0" font-size="15.6" text-anchor="start" font-family='"Liberation Serif","Noto Serif CJK SC",serif' font-weight="300" fill="#222" textLength="77.0" lengthAdjust="spacingAndGlyphs" >数据来源：</text>
<text x="193.2" y="1613.0" font-size="15.6" text-anchor="start" font-family='"Liberation Serif","Noto Serif CJK SC",serif' font-weight="300" fill="#222" textLength="31.0" lengthAdjust="spacingAndGlyphs" >Wind</text>
<text x="228.2" y="1613.0" font-size="15.6" text-anchor="start" font-family='"Liberation Serif","Noto Serif CJK SC",serif' font-weight="300" fill="#222" textLength="30.0" lengthAdjust="spacingAndGlyphs" >资讯</text>
<text x="646.7" y="1629.0" font-size="15.6" text-anchor="start" font-family='"Liberation Serif","Noto Serif CJK SC",serif' font-weight="300" fill="#222" textLength="77.0" lengthAdjust="spacingAndGlyphs" >数据来源：</text>
<text x="724.2" y="1629.0" font-size="15.6" text-anchor="start" font-family='"Liberation Serif","Noto Serif CJK SC",serif' font-weight="300" fill="#222" textLength="31.0" lengthAdjust="spacingAndGlyphs" >Wind</text>
<text x="759.2" y="1629.0" font-size="15.6" text-anchor="start" font-family='"Liberation Serif","Noto Serif CJK SC",serif' font-weight="300" fill="#222" textLength="30.0" lengthAdjust="spacingAndGlyphs" >资讯</text>
<text x="190.0" y="1714.0" font-size="20.8" text-anchor="start" font-family='"Liberation Serif","Noto Serif CJK SC",serif' font-weight="300" fill="#44546A" textLength="291.0" lengthAdjust="spacingAndGlyphs" >请务必阅读正文之后的免责声明</text>
</svg>
</body></html>
